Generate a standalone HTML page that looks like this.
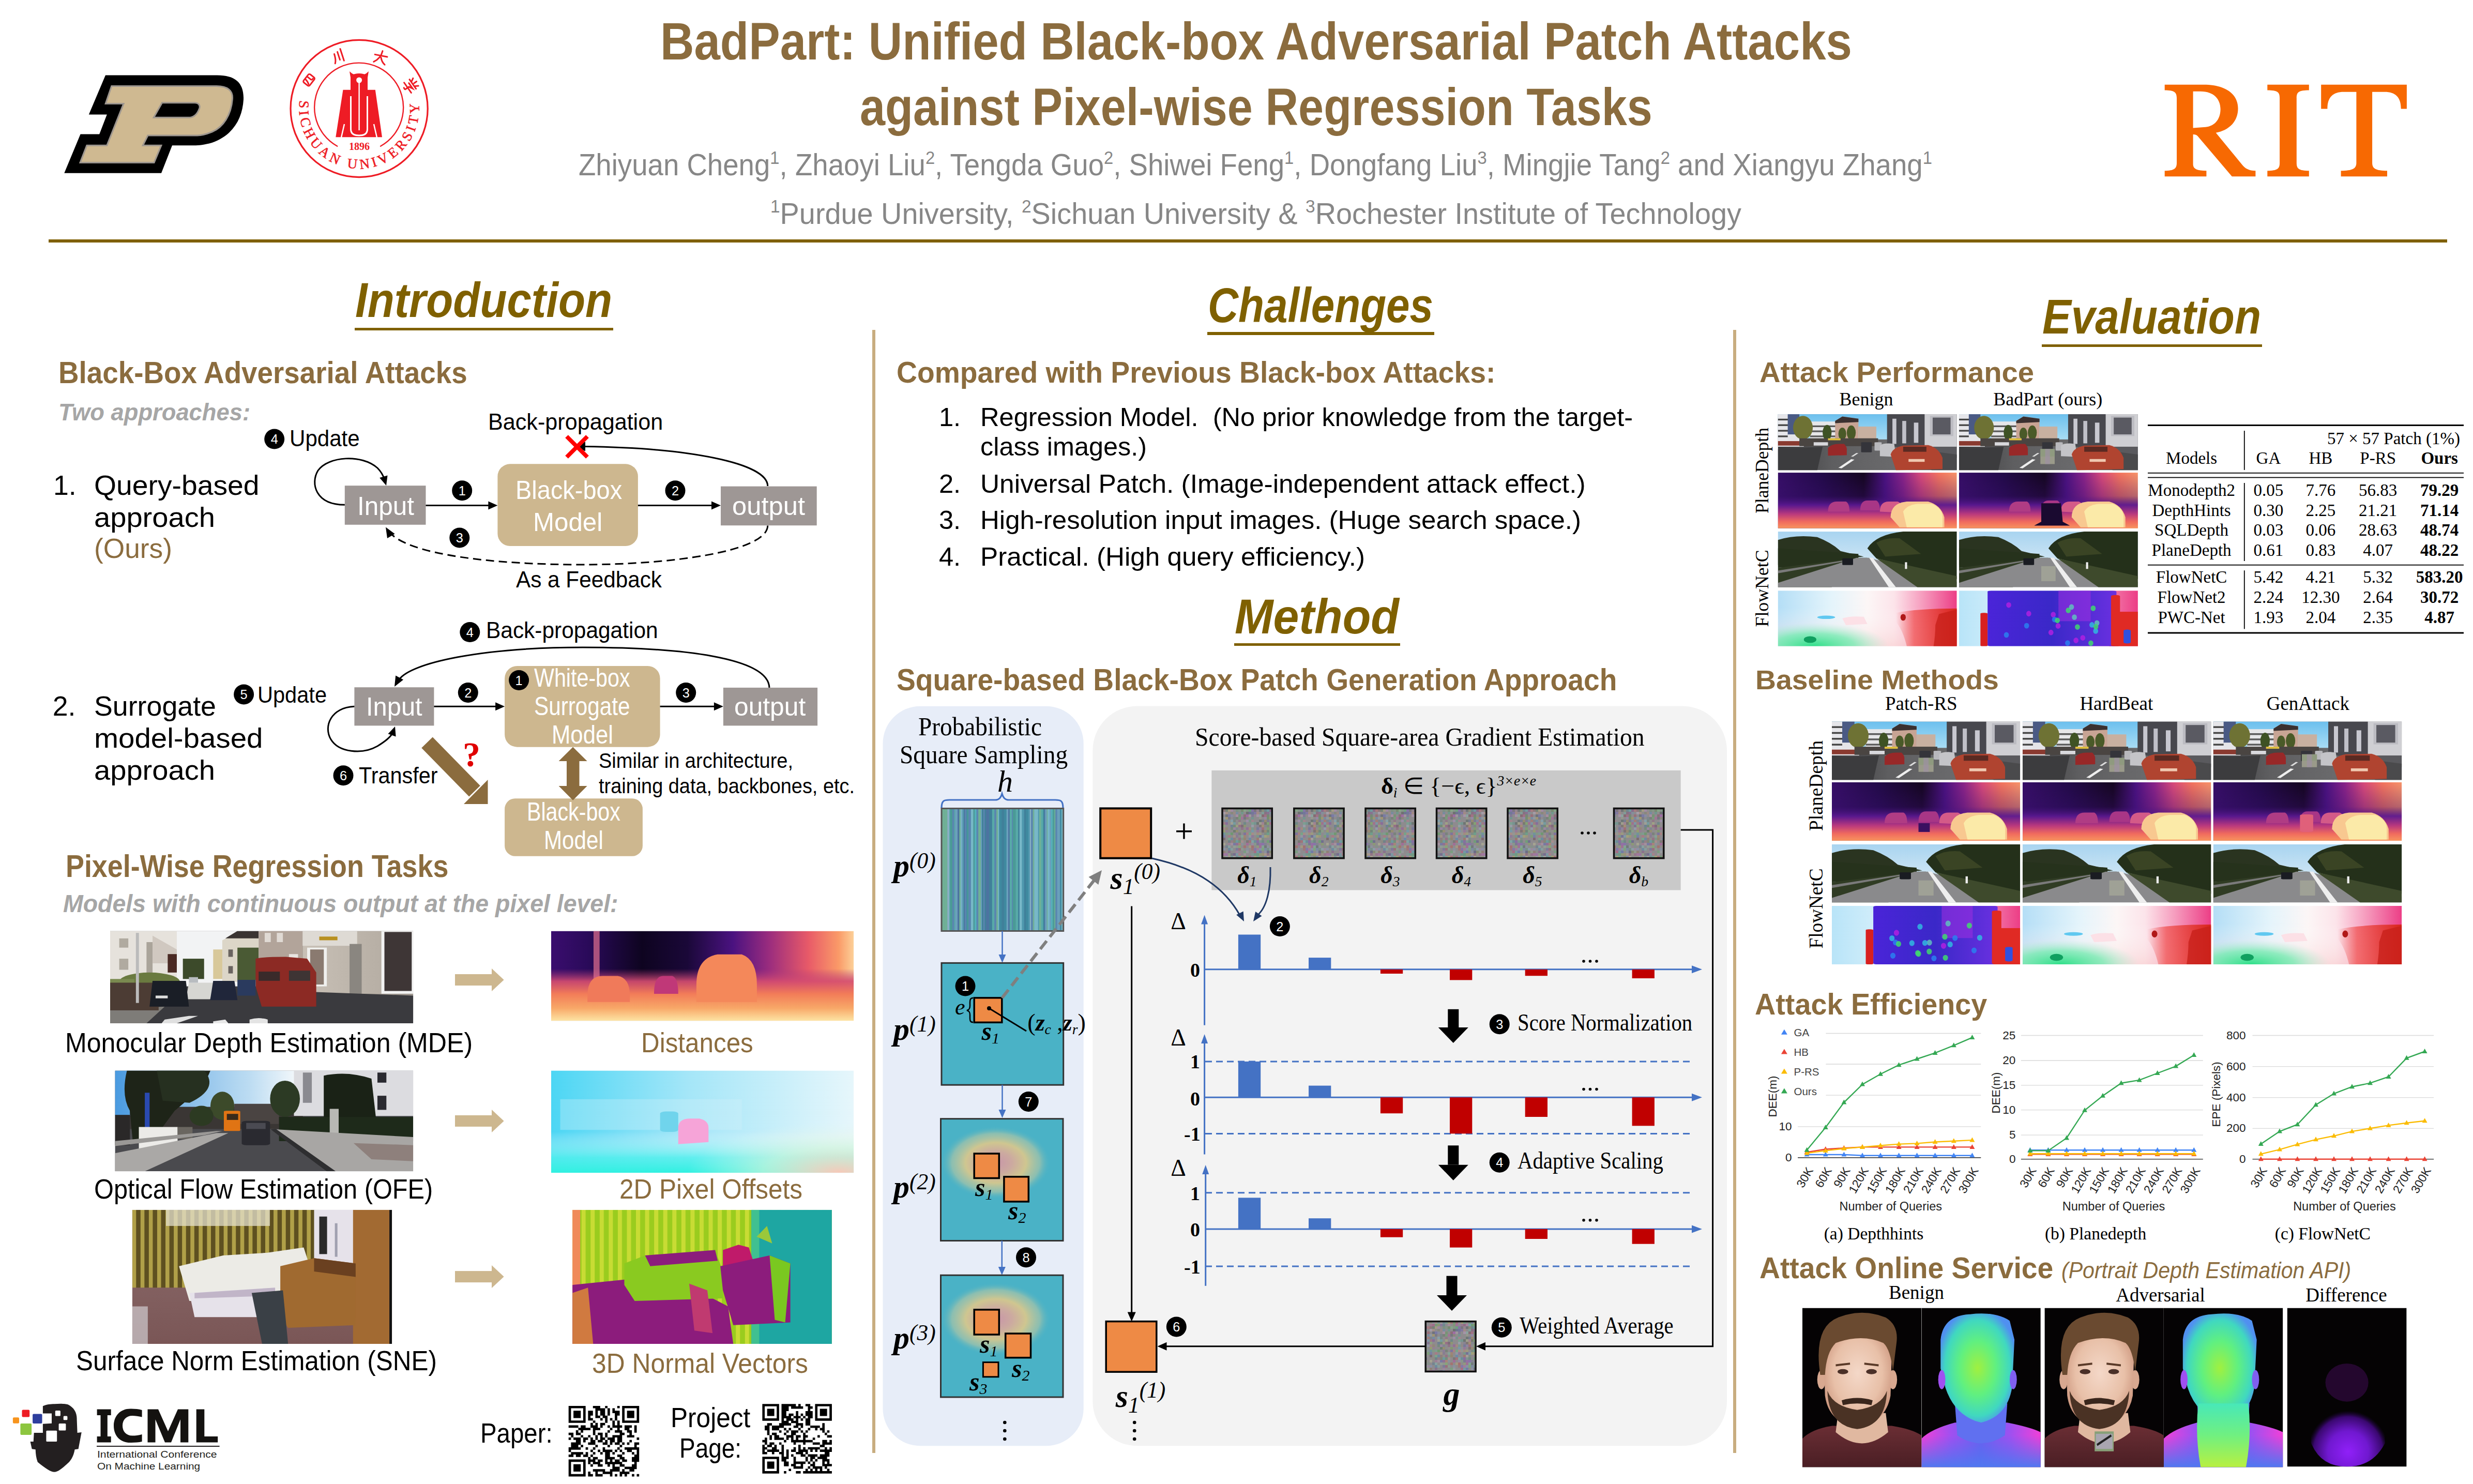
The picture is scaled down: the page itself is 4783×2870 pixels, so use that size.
<!DOCTYPE html>
<html><head><meta charset="utf-8"><style>
html,body{margin:0;padding:0;background:#fff;}
body{width:4783px;height:2870px;position:relative;overflow:hidden;font-family:"Liberation Sans",sans-serif;}
.t{position:absolute;white-space:nowrap;transform-origin:0 0;}
.a{position:absolute;}
sup{font-size:0.6em;vertical-align:baseline;position:relative;top:-0.62em;line-height:0;}
sub{font-size:0.6em;vertical-align:baseline;position:relative;top:0.25em;line-height:0;}

</style></head><body>
<svg class="a" style="left:0;top:0" width="520" height="400" viewBox="0 0 520 400">
<path d="M204,145.4 L420,145.4 C455,145.4 472,160 471,192 C469,230 450,262 410,276 C395,280 385,281.3 375,281.3 L333,281.3 L312,334.7 L124.3,334.7 L155.6,259.6 L192.2,259.6 L206.8,221.5 L171.8,221.5 Z" fill="#000"/>
<path d="M215.8,166.5 L418.7,166.5 C440,166.5 451,175 449.4,192 C447,222 432,246 410,255 C400,259 390,261.9 381.5,261.9 L286,261.9 L276.3,281.3 L311.9,281.3 L298,314.6 L155,314.6 L167.9,281.3 L206.8,281.3 L239.1,200.4 L204.2,200.4 Z" fill="#CFB991" stroke="#9D968F" stroke-width="3"/>
<path d="M313.5,198.8 L376.6,198.8 C386,199 388,206 384.7,212 C381,221 375,227.3 365,227.3 L297.3,227.3 Z" fill="#000" stroke="#9D968F" stroke-width="3"/>
</svg>
<svg class="a" style="left:540px;top:55px" width="310" height="310" viewBox="540 55 310 310">
<defs><path id="sarc" d="M 582.6,180 A 116,116 0 1 0 806.6,180"/></defs>
<circle cx="694.6" cy="210" r="132.6" fill="none" stroke="#EE1C25" stroke-width="3.2"/>
<path d="M 653.1,283.2 A 86,86 0 1 1 735.2,283.2" fill="none" stroke="#EE1C25" stroke-width="2.4"/>
<text font-family="Liberation Serif" font-size="27" fill="#EE1C25" letter-spacing="6" stroke="#EE1C25" stroke-width="0.6"><textPath href="#sarc" startOffset="50%" text-anchor="middle">SICHUAN UNIVERSITY</textPath></text>
<text x="695" y="290" font-family="Liberation Serif" font-weight="bold" font-size="20" fill="#EE1C25" text-anchor="middle">1896</text>
<g fill="#EE1C25">
<path d="M663.5,173.8 L725.8,173.8 L739,265.3 L649.3,265.3 Z"/>
<path d="M678,146 Q694.6,138 711,146 L711,176 L678,176 Z"/>
<path d="M676,138 Q684,146 694.6,146 Q705,146 713,138 L711,150 L678,150 Z"/>
</g>
<g fill="none" stroke="#fff">
<path d="M678.5,186 L678.5,250 Q678.5,262 694.6,262 Q710.5,262 710.5,250 L710.5,186" stroke-width="3"/>
<line x1="694.6" y1="160" x2="694.6" y2="252" stroke-width="2.4"/>
<path d="M660,266 L666,240 M729,266 L723,240" stroke-width="2.5"/>
</g>
<circle cx="694.6" cy="155" r="5.5" fill="#fff"/>
<g fill="none" stroke="#EE1C25" stroke-width="3" stroke-linecap="round">
<g transform="translate(598,155) rotate(-52)"><rect x="-10" y="-8" width="20" height="15" rx="3"/><path d="M-3,-7 Q-4,0 -7,4 M3,-7 L3,2 Q3,4 7,4"/></g>
<g transform="translate(655,108) rotate(-18)"><path d="M-7,-6 Q-7,6 -11,12 M0,-8 L0,8 M7,-12 L7,12"/></g>
<g transform="translate(736,111) rotate(18)"><path d="M-12,-2 L12,-5 M0,-13 Q1,2 -10,12 M1,0 Q5,8 12,11"/></g>
<g transform="translate(795,165) rotate(55)"><path d="M-9,-11 L-6,-6 M0,-13 L0,-7 M9,-11 L6,-6 M-11,-4 L11,-4 M-6,1 L7,1 L0,5 M0,5 L0,13 Q0,15 -4,14 M-12,8 L12,8"/></g>
</g>
</svg>
<div class="t" id="t0" style="left:1277.0px;top:28.8px;font-size:101.45px;line-height:101.45px;font-family:'Liberation Sans', sans-serif;color:#8B6C3E;font-weight:bold;transform:scaleX(0.8934)">BadPart: Unified Black-box Adversarial Patch Attacks</div>
<div class="t" id="t1" style="left:1663.0px;top:156.3px;font-size:101.45px;line-height:101.45px;font-family:'Liberation Sans', sans-serif;color:#8B6C3E;font-weight:bold;transform:scaleX(0.8696)">against Pixel-wise Regression Tasks</div>
<div class="t" id="t2" style="left:1119.0px;top:289.0px;font-size:59.42px;line-height:59.42px;font-family:'Liberation Sans', sans-serif;color:#878787;transform:scaleX(0.9192)">Zhiyuan Cheng<sup>1</sup>, Zhaoyi Liu<sup>2</sup>, Tengda Guo<sup>2</sup>, Shiwei Feng<sup>1</sup>, Dongfang Liu<sup>3</sup>, Mingjie Tang<sup>2</sup> and Xiangyu Zhang<sup>1</sup></div>
<div class="t" id="t3" style="left:1490.0px;top:384.7px;font-size:57.97px;line-height:57.97px;font-family:'Liberation Sans', sans-serif;color:#878787;transform:scaleX(0.9628)"><sup>1</sup>Purdue University, <sup>2</sup>Sichuan University &amp; <sup>3</sup>Rochester Institute of Technology</div>
<svg class="a" style="left:4150px;top:140px" width="540" height="230" viewBox="4150 140 540 230">
<path fill="#F76902" fill-rule="evenodd" d="M4186.7,163.8 L4262,163.8 C4302,163.8 4328.5,180 4328.5,210 C4328.5,236 4310,252 4285.7,256.8 L4336,318 C4342,326 4350,330.2 4362.4,330.2 L4362.4,341.3 L4316.8,341.3 L4252,265 C4249,261 4246,260.1 4241.6,260.1 L4241.6,318 C4241.6,327 4250,330.2 4267.4,330.2 L4267.4,341.3 L4186.7,341.3 L4186.7,330.2 C4205,330.2 4210,326 4210,315 L4210,190 C4210,178 4205,174.5 4186.7,174.5 Z M4241.6,176.7 L4256,176.7 C4282,176.7 4294.6,192 4294.6,211 C4294.6,232 4282,245.6 4262,246 L4241.6,247.4 Z"/>
<path fill="#F76902" d="M4385.3,163.8 L4465.8,163.8 L4465.8,174.5 C4446,174.5 4441.8,178 4441.8,190 L4441.8,315 C4441.8,326 4446,330.2 4465.8,330.2 L4465.8,341.3 L4385.3,341.3 L4385.3,330.2 C4405,330.2 4409.1,326 4409.1,315 L4409.1,190 C4409.1,178 4405,174.5 4385.3,174.5 Z"/>
<path fill="#F76902" d="M4489.2,163.8 L4654.9,163.8 L4654.9,210.5 L4643.7,210.5 C4643.7,188 4633,177.8 4612,177.8 L4588.1,177.8 L4588.1,315 C4588.1,326 4595,330.2 4617,330.2 L4617,341.3 L4527.6,341.3 L4527.6,330.2 C4550,330.2 4557.4,326 4557.4,315 L4557.4,177.8 L4533,177.8 C4512,177.8 4501.4,188 4501.4,210.5 L4489.2,210.5 Z"/>
</svg>
<div class="a" style="left:94px;top:462.5px;width:4639px;height:6px;background:#7F6000"></div>
<div class="a" style="left:1687px;top:638px;width:5.5px;height:2172px;background:#C8AD80"></div>
<div class="a" style="left:3352px;top:638px;width:5.5px;height:2172px;background:#C8AD80"></div>
<div class="t" id="t4" style="left:687.0px;top:533.9px;font-size:94.20px;line-height:94.20px;font-family:'Liberation Sans', sans-serif;color:#7F6000;font-weight:bold;font-style:italic;transform:scaleX(0.9048)">Introduction</div>
<div class="a" style="left:686px;top:633.95px;width:500px;height:5.5px;background:#7F6000"></div>
<div class="t" id="t5" style="left:2336.0px;top:544.3px;font-size:94.20px;line-height:94.20px;font-family:'Liberation Sans', sans-serif;color:#7F6000;font-weight:bold;font-style:italic;transform:scaleX(0.8677)">Challenges</div>
<div class="a" style="left:2335px;top:642.25px;width:439px;height:5.5px;background:#7F6000"></div>
<div class="t" id="t6" style="left:2388.0px;top:1145.9px;font-size:94.20px;line-height:94.20px;font-family:'Liberation Sans', sans-serif;color:#7F6000;font-weight:bold;font-style:italic;transform:scaleX(0.9498)">Method</div>
<div class="a" style="left:2387px;top:1243.75px;width:321px;height:5.5px;background:#7F6000"></div>
<div class="t" id="t7" style="left:3950.0px;top:566.2px;font-size:94.20px;line-height:94.20px;font-family:'Liberation Sans', sans-serif;color:#7F6000;font-weight:bold;font-style:italic;transform:scaleX(0.8881)">Evaluation</div>
<div class="a" style="left:3949px;top:665.75px;width:426px;height:5.5px;background:#7F6000"></div>
<div class="t" id="t8" style="left:113.4px;top:690.7px;font-size:59.42px;line-height:59.42px;font-family:'Liberation Sans', sans-serif;color:#8B6C3E;font-weight:bold;transform:scaleX(0.9221)">Black-Box Adversarial Attacks</div>
<div class="t" id="t9" style="left:113.4px;top:774.0px;font-size:46.38px;line-height:46.38px;font-family:'Liberation Sans', sans-serif;color:#A6A6A6;font-weight:bold;font-style:italic;transform:scaleX(0.9772)">Two approaches:</div>
<div class="t" id="t10" style="left:103.0px;top:912.2px;font-size:53.62px;line-height:53.62px;font-family:'Liberation Sans', sans-serif;color:#000">1.</div>
<div class="t" id="t11" style="left:182.2px;top:912.2px;font-size:53.62px;line-height:53.62px;font-family:'Liberation Sans', sans-serif;color:#000;transform:scaleX(1.0313)">Query-based</div>
<div class="t" id="t12" style="left:182.2px;top:974.0px;font-size:53.62px;line-height:53.62px;font-family:'Liberation Sans', sans-serif;color:#000;transform:scaleX(1.0467)">approach</div>
<div class="t" id="t13" style="left:182.2px;top:1033.8px;font-size:53.62px;line-height:53.62px;font-family:'Liberation Sans', sans-serif;color:#8B6C3E;transform:scaleX(0.9941)">(Ours)</div>
<div class="t" id="t14" style="left:101.7px;top:1339.3px;font-size:53.62px;line-height:53.62px;font-family:'Liberation Sans', sans-serif;color:#000">2.</div>
<div class="t" id="t15" style="left:182.2px;top:1339.3px;font-size:53.62px;line-height:53.62px;font-family:'Liberation Sans', sans-serif;color:#000;transform:scaleX(1.0024)">Surrogate</div>
<div class="t" id="t16" style="left:182.2px;top:1401.1px;font-size:53.62px;line-height:53.62px;font-family:'Liberation Sans', sans-serif;color:#000;transform:scaleX(1.0534)">model-based</div>
<div class="t" id="t17" style="left:182.2px;top:1463.0px;font-size:53.62px;line-height:53.62px;font-family:'Liberation Sans', sans-serif;color:#000;transform:scaleX(1.0467)">approach</div>
<svg class="a" style="left:0px;top:480px" width="1690" height="2390" viewBox="0 480 1690 2390" ><rect x="666.8" y="939.2" width="156.7" height="75.6" fill="#9E9795"/><rect x="962.4" y="897.3" width="271.5" height="158.7" rx="24" fill="#CDB78F"/><rect x="1394" y="940.6" width="185.7" height="75.6" fill="#9E9795"/><line x1="823.5" y1="977.5" x2="948.0" y2="977.5" stroke="#000" stroke-width="3"/><polygon points="962.4,977.5 944.4,985.5 944.4,969.5" fill="#000"/><line x1="1233.9" y1="977.5" x2="1379.6" y2="977.5" stroke="#000" stroke-width="3"/><polygon points="1394.0,977.5 1376.0,985.5 1376.0,969.5" fill="#000"/><circle cx="893.7" cy="948.8" r="19.5" fill="#000"/><text x="893.7" y="957.9" font-family="Liberation Sans" font-size="25.4" fill="#fff" text-anchor="middle">1</text><circle cx="1306" cy="948.8" r="19.5" fill="#000"/><text x="1306" y="957.9" font-family="Liberation Sans" font-size="25.4" fill="#fff" text-anchor="middle">2</text><circle cx="888.8" cy="1040" r="19.5" fill="#000"/><text x="888.8" y="1049.1" font-family="Liberation Sans" font-size="25.4" fill="#fff" text-anchor="middle">3</text><path d="M1484.8,940 C1484,895 1330,866 1130,863.6" fill="none" stroke="#000" stroke-width="3"/><polygon points="1112.0,863.6 1132.0,854.6 1132.0,872.6" fill="#000"/><path d="M1096,844 L1136,884 M1136,844 L1096,884" stroke="#F00" stroke-width="8"/><path d="M1484.8,1016.5 C1484,1068 1290,1092 1127,1092 C950,1092 790,1072 754,1030" fill="none" stroke="#000" stroke-width="3" stroke-dasharray="16 9"/><polygon points="746.0,1019.6 763.6,1032.4 749.0,1041.1" fill="#000"/><path d="M666.8,976.3 C610,976 600,935 615,910 C635,882 700,878 730,905 C738,913 742,922 744,928" fill="none" stroke="#000" stroke-width="3"/><polygon points="747.0,939.0 734.2,924.1 749.5,919.5" fill="#000"/><circle cx="530.7" cy="849.1" r="19.5" fill="#000"/><text x="530.7" y="858.2" font-family="Liberation Sans" font-size="25.4" fill="#fff" text-anchor="middle">4</text><rect x="685.4" y="1329.2" width="154" height="74.2" fill="#9E9795"/><rect x="976.1" y="1287.9" width="300.5" height="156.8" rx="24" fill="#CDB78F"/><rect x="1398.9" y="1329.9" width="182.2" height="73.5" fill="#9E9795"/><rect x="976.1" y="1544.3" width="266.8" height="111.4" rx="20" fill="#CDB78F"/><line x1="839.4" y1="1366.3" x2="961.7" y2="1366.3" stroke="#000" stroke-width="3"/><polygon points="976.1,1366.3 958.1,1374.3 958.1,1358.3" fill="#000"/><line x1="1276.6" y1="1366.3" x2="1384.5" y2="1366.3" stroke="#000" stroke-width="3"/><polygon points="1398.9,1366.3 1380.9,1374.3 1380.9,1358.3" fill="#000"/><circle cx="1003.6" cy="1315.4" r="19.5" fill="#000"/><text x="1003.6" y="1324.5" font-family="Liberation Sans" font-size="25.4" fill="#fff" text-anchor="middle">1</text><circle cx="905.3" cy="1339.5" r="19.5" fill="#000"/><text x="905.3" y="1348.6" font-family="Liberation Sans" font-size="25.4" fill="#fff" text-anchor="middle">2</text><circle cx="1326.7" cy="1339.5" r="19.5" fill="#000"/><text x="1326.7" y="1348.6" font-family="Liberation Sans" font-size="25.4" fill="#fff" text-anchor="middle">3</text><circle cx="908.8" cy="1222.6" r="19.5" fill="#000"/><text x="908.8" y="1231.7" font-family="Liberation Sans" font-size="25.4" fill="#fff" text-anchor="middle">4</text><circle cx="471.6" cy="1342.9" r="19.5" fill="#000"/><text x="471.6" y="1352.0" font-family="Liberation Sans" font-size="25.4" fill="#fff" text-anchor="middle">5</text><circle cx="664" cy="1499.7" r="19.5" fill="#000"/><text x="664" y="1508.8" font-family="Liberation Sans" font-size="25.4" fill="#fff" text-anchor="middle">6</text><path d="M1488,1329.9 C1486,1272 1320,1252 1127,1252 C930,1252 795,1282 772,1314" fill="none" stroke="#000" stroke-width="3"/><polygon points="763.0,1328.0 765.2,1306.4 780.1,1314.6" fill="#000"/><path d="M685.4,1366.3 C640,1368 625,1405 640,1430 C655,1455 700,1460 730,1443 C748,1432 756,1424 759,1418" fill="none" stroke="#000" stroke-width="3"/><polygon points="764.0,1405.0 765.6,1424.6 750.5,1419.3" fill="#000"/><line x1="826" y1="1436" x2="918" y2="1530" stroke="#8B6C3E" stroke-width="30"/><polygon points="943.5,1555 897,1555 943.5,1508" fill="#8B6C3E"/><text x="912" y="1482" font-family="Liberation Serif" font-weight="bold" font-size="68" fill="#E00000" text-anchor="middle">?</text><polygon points="1108.1,1444.7 1135.6,1472 1120.5,1472 1120.5,1520 1135.6,1520 1108.1,1547.8 1080.6,1520 1096,1520 1096,1472 1080.6,1472" fill="#8B6C3E"/><svg x="213" y="1800.6" width="586.2" height="178.3" viewBox="0 0 100 100" preserveAspectRatio="none"><defs><linearGradient id="g1" x1="0" y1="0" x2="1" y2="0"><stop offset="0" stop-color="#c8c0b6"/><stop offset="1" stop-color="#b0a89e"/></linearGradient></defs>
<rect width="100" height="100" fill="#3c3c40"/>
<rect x="0" y="0" width="50" height="60" fill="#f2f3f4"/>
<rect x="0" y="0" width="22" height="62" fill="#e6e2dc"/>
<rect x="3" y="8" width="3" height="10" fill="#b0aaa0"/><rect x="3" y="30" width="3" height="12" fill="#b0aaa0"/><rect x="12" y="12" width="2" height="35" fill="#aaa49a"/>
<path d="M14,5 L22,20 L22,35 L14,35 Z" fill="#d0c8c0"/>
<rect x="19" y="25" width="3" height="20" fill="#4a2a24"/>
<ellipse cx="13" cy="55" rx="10" ry="10" fill="#6a7a40"/>
<rect x="0" y="52" width="8" height="10" fill="#7a8a50"/>
<rect x="24" y="30" width="7" height="22" fill="#3c4a2a"/>
<rect x="34" y="20" width="4" height="32" fill="#d8c89a"/>
<path d="M37,10 L42,2 L49,2 L49,55 L37,55 Z" fill="#dcd6c8"/>
<path d="M38,8 L42,0 L49,0 L49,8 Z" fill="#3a3432"/>
<rect x="39" y="20" width="1.5" height="8" fill="#6a6460"/><rect x="39" y="38" width="1.5" height="8" fill="#6a6460"/>
<rect x="42" y="18" width="7" height="35" fill="#4a5a34"/>
<rect x="49" y="0" width="14.5" height="68" fill="#b2a49a"/>
<rect x="51" y="2" width="2" height="10" fill="#e0dad4"/><rect x="55" y="2" width="2" height="10" fill="#e0dad4"/><rect x="59" y="25" width="3" height="8" fill="#e8e4e0"/>
<rect x="63.5" y="0" width="36.5" height="95" fill="url(#g1)"/>
<rect x="63.5" y="0" width="18" height="16" fill="#dedad4"/>
<rect x="69" y="6" width="6" height="4" fill="#b89020"/>
<rect x="65" y="18" width="6.5" height="42" fill="#f0f0ee"/><rect x="66" y="20" width="4.5" height="38" fill="#8a7a70"/>
<rect x="79" y="14" width="4" height="62" fill="#8a8680"/>
<rect x="89.5" y="0" width="10.5" height="70" fill="#f2f2f2"/><rect x="90.5" y="1" width="9" height="64" fill="#3e3636"/>
<rect x="63.5" y="68" width="36.5" height="28" fill="#9e968e"/>
<path d="M0,58 L100,70 L100,100 L0,100 Z" fill="#3a3a3e"/>
<path d="M26,56 L35,56 L33,74 L25,74 Z" fill="#d6d6d2"/>
<path d="M0,85 L18,82 L12,100 L0,100 Z" fill="#7e7c78"/>
<rect x="0" y="56" width="16" height="30" fill="#4c3c34"/>
<rect x="8.5" y="2" width="1" height="76" fill="#bbb"/>
<path d="M48,30 Q50,28 58,28 L65,30 L68,45 L68,82 L50,82 L48,60 Z" fill="#8c2a24"/>
<rect x="49" y="44" width="7" height="10" fill="#3a2a2a"/><rect x="59" y="43" width="7" height="11" fill="#3e3434"/>
<path d="M14,54 L25,54 L26,82 L13,82 Z" fill="#1a1e26"/>
<rect x="15" y="70" width="4" height="3" fill="#ddd"/>
<path d="M34,54 L41,54 L42,75 L33,75 Z" fill="#20263a"/>
<path d="M42,53 L48,53 L48,70 L42,70 Z" fill="#2a3a5e"/>
<rect x="26" y="50" width="3" height="6" fill="#b8bcc0"/>
<path d="M18,96 L26,92 L29,92 L22,100 L17,100 Z" fill="#e0e0e0"/>
<path d="M34,98 L38,96 L39,100 L34,100 Z" fill="#e8e8e8"/>
<path d="M46,96 Q49,93 52,96 L52,100 L46,100 Z" fill="#e4e4e4"/></svg><svg x="1066" y="1800.6" width="585.2" height="173.6" viewBox="0 0 100 100" preserveAspectRatio="none"><defs><linearGradient id="g2" x1="0" y1="0" x2="1" y2="0"><stop offset="0" stop-color="#3a0d6e"/><stop offset="0.12" stop-color="#2a0a5a"/><stop offset="0.3" stop-color="#0e0420"/><stop offset="0.45" stop-color="#1a0838"/><stop offset="0.6" stop-color="#4a1280"/><stop offset="0.72" stop-color="#9a2c7e"/><stop offset="0.85" stop-color="#e85a68"/><stop offset="0.95" stop-color="#fa9a68"/><stop offset="1" stop-color="#fcd098"/></linearGradient>
<linearGradient id="g3" x1="0" y1="0" x2="0" y2="1"><stop offset="0" stop-color="#b03a7a" stop-opacity="0"/><stop offset="0.42" stop-color="#b03a7a" stop-opacity="0"/><stop offset="0.56" stop-color="#d44c70" stop-opacity="0.92"/><stop offset="0.7" stop-color="#f27c58" stop-opacity="1"/><stop offset="0.86" stop-color="#f8a868" stop-opacity="1"/><stop offset="1" stop-color="#fde4a4" stop-opacity="1"/></linearGradient></defs>
<rect width="100" height="100" fill="url(#g2)"/>
<rect width="100" height="100" fill="url(#g3)"/>
<rect x="14" y="0" width="2" height="65" fill="#e27090" opacity="0.7"/>
<path d="M12,72 Q12,50 17,50 L22,50 Q26,52 26,72 L26,79 L12,79 Z" fill="#f07a5a"/>
<path d="M34,70 Q34,50 37,50 L40,50 Q42,52 42,70 Z" fill="#c03878"/>
<path d="M48,60 Q48,30 55,26 L63,26 Q68,32 68,60 L68,79 L48,79 Z" fill="#f4885a"/></svg><svg x="222.4" y="2070.4" width="576.8" height="194.9" viewBox="0 0 100 100" preserveAspectRatio="none"><defs><linearGradient id="g4" x1="0" y1="0" x2="1" y2="0"><stop offset="0" stop-color="#4a9ae0"/><stop offset="0.45" stop-color="#bcdcf2"/><stop offset="0.6" stop-color="#f0f6fa"/><stop offset="1" stop-color="#f4f8fa"/></linearGradient></defs>
<rect width="100" height="100" fill="#4a4a4e"/>
<rect width="100" height="45" fill="url(#g4)"/>
<rect x="5" y="36" width="58" height="22" fill="#3a3634"/>
<rect x="40" y="33" width="15" height="20" fill="#4a4442"/>
<ellipse cx="36" cy="35" rx="4" ry="14" fill="#3c4a2a"/>
<ellipse cx="29" cy="45" rx="4" ry="10" fill="#2c3a22"/>
<path d="M4,0 L32,0 Q30,15 26,25 L20,40 L12,72 L6,72 L5,40 Q2,25 4,0 Z" fill="#1e2418"/>
<path d="M14,0 L30,0 Q35,18 25,32 L16,30 Z" fill="#263020"/>
<rect x="10" y="22" width="1.6" height="36" fill="#2a4ab0"/>
<rect x="60" y="0" width="40" height="45" fill="#dcdce0"/>
<rect x="63" y="2" width="3" height="30" fill="#8a8a90"/><rect x="88" y="2" width="3" height="10" fill="#2a2a30"/><rect x="88" y="25" width="3" height="14" fill="#2a2a30"/>
<path d="M70,5 Q78,0 86,8 L88,60 L70,60 Z" fill="#1a2216"/>
<ellipse cx="57" cy="28" rx="5" ry="18" fill="#2c3a24"/>
<rect x="55" y="46" width="45" height="24" fill="#1e2a1a"/>
<rect x="72" y="38" width="3" height="34" fill="#b8b8b4"/>
<rect x="0" y="44" width="5" height="30" fill="#2a2828"/>
<rect x="8" y="56" width="13" height="24" fill="#ecebe8"/>
<rect x="21" y="56" width="5" height="12" fill="#6a6660"/>
<rect x="36.5" y="40" width="5.5" height="20" rx="0.8" fill="#e07414"/>
<rect x="37.5" y="43" width="3.8" height="6" fill="#3a2a1a"/>
<path d="M0,75 L30,64 L36,60 L34,60 L0,70 Z" fill="#9a9896"/>
<path d="M0,82 L34,62 L38,62 L10,100 L0,100 Z" fill="#aaa8a6"/>
<path d="M52,58 L100,66 L100,100 L72,100 Z" fill="#a8a6a4"/>
<path d="M80,72 L100,74 L100,90 L86,88 Z" fill="#8e807c"/>
<path d="M52,58 L54,58 L74,100 L71,100 Z" fill="#2e2e30"/>
<rect x="42.5" y="50" width="9.5" height="24" rx="1.5" fill="#2a2a30"/>
<rect x="44" y="52" width="6.5" height="6" fill="#4a4a52"/></svg><svg x="1066" y="2070.4" width="585.2" height="197.8" viewBox="0 0 100 100" preserveAspectRatio="none"><defs><linearGradient id="g5" x1="0" y1="0" x2="1" y2="0"><stop offset="0" stop-color="#4cd6f4"/><stop offset="0.45" stop-color="#a4e6f8"/><stop offset="1" stop-color="#e6f6fb"/></linearGradient>
<linearGradient id="g6" x1="0" y1="0" x2="0" y2="1"><stop offset="0" stop-color="#fff" stop-opacity="0"/><stop offset="0.6" stop-color="#fff" stop-opacity="0"/><stop offset="0.85" stop-color="#50f0ec" stop-opacity="0.8"/><stop offset="1" stop-color="#30f0e0" stop-opacity="1"/></linearGradient>
<radialGradient id="g7" cx="0.95" cy="1.0" r="0.5"><stop offset="0" stop-color="#f8c8b8" stop-opacity="1"/><stop offset="0.5" stop-color="#e8f4d8" stop-opacity="0.6"/><stop offset="1" stop-color="#e0f8f0" stop-opacity="0"/></radialGradient></defs>
<rect width="100" height="100" fill="url(#g5)"/>
<rect x="3" y="28" width="60" height="30" fill="#d0f2fa" opacity="0.35"/>
<rect width="100" height="100" fill="url(#g6)"/>
<rect width="100" height="100" fill="url(#g7)"/><rect x="36" y="40" width="6" height="20" rx="2" fill="#70d4ec"/><path d="M42,56 Q42,47 46,47 L49,47 Q52,49 52,56 L52,70 L42,72 Z" fill="#f6a4d8"/></svg><svg x="255.7" y="2339.8" width="502.5" height="259.3" viewBox="0 0 100 100" preserveAspectRatio="none"><defs><pattern id="p8" width="3.2" height="100" patternUnits="userSpaceOnUse">
<rect width="3.2" height="100" fill="#5e5020"/><rect x="0" width="1.5" height="100" fill="#b0a048"/></pattern>
<linearGradient id="g9" x1="0" y1="0" x2="0" y2="1"><stop offset="0" stop-color="#8e6e6e"/><stop offset="1" stop-color="#7a5656"/></linearGradient></defs>
<rect width="100" height="100" fill="url(#g9)"/>
<rect width="72" height="58" fill="url(#p8)"/>
<rect x="13" y="0" width="40" height="12" fill="#e4e0cc" opacity="0.75"/>
<rect x="70" y="0" width="16" height="62" fill="#e6e2ea"/>
<rect x="72" y="5" width="3" height="28" fill="#2a2a2a"/><rect x="78" y="10" width="1" height="25" fill="#a0a0b0"/>
<rect x="85" y="0" width="14" height="100" fill="#a26a32"/>
<rect x="99" y="0" width="1" height="100" fill="#111"/>
<path d="M18,42 L35,34 L52,32 L66,28 L68,40 L58,46 L58,68 L22,68 Z" fill="#ecebe6"/>
<path d="M22,62 L55,58 L56,80 L24,80 Z" fill="#e6e2ea"/>
<path d="M24,62 L55,58 L55,64 L24,66 Z" fill="#a898b0" opacity="0.6"/>
<path d="M57,42 L70,36 L86,40 L86,86 L60,88 L57,80 Z" fill="#a06a30"/>
<path d="M70,36 L86,40 L86,50 L70,46 Z" fill="#6a4020"/>
<path d="M46,62 L58,60 L60,100 L50,100 Z" fill="#3a4046"/>
<rect x="0" y="72" width="6" height="28" fill="#d0ccd0" opacity="0.7"/></svg><svg x="1107.1" y="2339.8" width="501.8" height="259.3" viewBox="0 0 100 100" preserveAspectRatio="none"><defs><pattern id="p10" width="3.5" height="100" patternUnits="userSpaceOnUse">
<rect width="3.5" height="100" fill="#9acc1e"/><rect x="0" width="1.6" height="100" fill="#c8dc34"/></pattern></defs>
<rect width="100" height="100" fill="url(#p10)"/>
<rect x="0" y="0" width="3" height="60" fill="#f08a5a"/>
<rect x="69" y="0" width="31" height="100" fill="#1ea6a2"/>
<rect x="69" y="0" width="3" height="100" fill="#40c090"/>
<path d="M0,56 L20,52 L36,60 L50,62 L60,72 L62,100 L0,100 Z" fill="#8c1c7c"/>
<path d="M20,40 L28,34 L55,30 L58,46 L58,66 L24,68 L20,56 Z" fill="#8aca20"/>
<path d="M28,34 L55,30 L56,38 L30,42 Z" fill="#8c1c7c"/>
<path d="M58,30 L64,26 L68,28 L70,40 L58,46 Z" fill="#c01a6a"/>
<path d="M57,42 L76,34 L84,40 L84,84 L62,86 L58,60 Z" fill="#8c1c7c"/>
<path d="M76,34 L84,40 L82,84 L78,82 Z" fill="#7ac820"/>
<path d="M71,20 L75,12 L77,25 Z" fill="#9ac83a"/>
<path d="M45,55 L52,60 L54,92 L47,90 Z" fill="#c03a70"/>
<path d="M0,62 L6,58 L8,100 L0,100 Z" fill="#d07a40"/></svg><rect x="880" y="1884" width="72" height="22" fill="#CDB78F"/><polygon points="951,1873 974.6,1895 951,1917" fill="#CDB78F"/><rect x="880" y="2156.9" width="72" height="22" fill="#CDB78F"/><polygon points="951,2145.9 974.6,2167.9 951,2189.9" fill="#CDB78F"/><rect x="880" y="2458.1" width="72" height="22" fill="#CDB78F"/><polygon points="951,2447.1 974.6,2469.1 951,2491.1" fill="#CDB78F"/><path d="M105.1,2715.3 C118,2714 128,2715 131.4,2716.3 C143,2722 149,2732 148.6,2745 L149.6,2770.9 L157.7,2769.9 L151.6,2802.2 L144.6,2803.2 C142,2818 136,2826 129.4,2831.5 C120,2840 112,2846.7 105.1,2846.7 C98,2846.7 88,2840 72.8,2827.5 C70,2820 69,2812 68.7,2803.2 L61.7,2802.2 L58.6,2788 L64.7,2788 L65.7,2770.9 L82.9,2770.9 L82.9,2753.7 L100,2752.7 L100,2733.5 L82.9,2733.5 L82.9,2719.3 C90,2716 98,2715.5 105.1,2715.3 Z" fill="#231F20"/><rect x="106.8" y="2728" width="10.100000000000009" height="10.5" rx="1.5" fill="#fff"/><rect x="122.7" y="2738.5" width="7.700000000000003" height="7.699999999999818" rx="1.5" fill="#fff"/><rect x="113.6" y="2753" width="13.800000000000011" height="13.400000000000091" rx="1.5" fill="#fff"/><rect x="89.4" y="2766.8" width="20.799999999999997" height="21.199999999999818" rx="1.5" fill="#fff"/><rect x="42.5" y="2726.4" width="14.700000000000003" height="14.099999999999909" rx="2" fill="#ED1C24"/><rect x="63.1" y="2734.5" width="18.4" height="18.59999999999991" rx="2" fill="#2E3F9E"/><rect x="24.9" y="2741.2" width="12.100000000000001" height="11.5" rx="2" fill="#F7941D"/><rect x="39.4" y="2753.1" width="21.700000000000003" height="21.800000000000182" rx="2" fill="#8DC63F"/><rect x="187" y="2796" width="237.6" height="2" fill="#231F20"/><rect x="1099.7" y="2718.9" width="136.5" height="136.5" fill="#fff"/><path d="M1099.70,2718.90h4.71v4.71h-4.71zM1104.41,2718.90h4.71v4.71h-4.71zM1109.11,2718.90h4.71v4.71h-4.71zM1113.82,2718.90h4.71v4.71h-4.71zM1118.53,2718.90h4.71v4.71h-4.71zM1123.23,2718.90h4.71v4.71h-4.71zM1127.94,2718.90h4.71v4.71h-4.71zM1146.77,2718.90h4.71v4.71h-4.71zM1151.48,2718.90h4.71v4.71h-4.71zM1156.18,2718.90h4.71v4.71h-4.71zM1170.30,2718.90h4.71v4.71h-4.71zM1193.84,2718.90h4.71v4.71h-4.71zM1203.25,2718.90h4.71v4.71h-4.71zM1207.96,2718.90h4.71v4.71h-4.71zM1212.67,2718.90h4.71v4.71h-4.71zM1217.37,2718.90h4.71v4.71h-4.71zM1222.08,2718.90h4.71v4.71h-4.71zM1226.79,2718.90h4.71v4.71h-4.71zM1231.49,2718.90h4.71v4.71h-4.71zM1099.70,2723.61h4.71v4.71h-4.71zM1127.94,2723.61h4.71v4.71h-4.71zM1151.48,2723.61h4.71v4.71h-4.71zM1156.18,2723.61h4.71v4.71h-4.71zM1160.89,2723.61h4.71v4.71h-4.71zM1165.60,2723.61h4.71v4.71h-4.71zM1175.01,2723.61h4.71v4.71h-4.71zM1184.42,2723.61h4.71v4.71h-4.71zM1203.25,2723.61h4.71v4.71h-4.71zM1231.49,2723.61h4.71v4.71h-4.71zM1099.70,2728.31h4.71v4.71h-4.71zM1109.11,2728.31h4.71v4.71h-4.71zM1113.82,2728.31h4.71v4.71h-4.71zM1118.53,2728.31h4.71v4.71h-4.71zM1127.94,2728.31h4.71v4.71h-4.71zM1137.36,2728.31h4.71v4.71h-4.71zM1142.06,2728.31h4.71v4.71h-4.71zM1151.48,2728.31h4.71v4.71h-4.71zM1160.89,2728.31h4.71v4.71h-4.71zM1165.60,2728.31h4.71v4.71h-4.71zM1175.01,2728.31h4.71v4.71h-4.71zM1184.42,2728.31h4.71v4.71h-4.71zM1189.13,2728.31h4.71v4.71h-4.71zM1193.84,2728.31h4.71v4.71h-4.71zM1203.25,2728.31h4.71v4.71h-4.71zM1212.67,2728.31h4.71v4.71h-4.71zM1217.37,2728.31h4.71v4.71h-4.71zM1222.08,2728.31h4.71v4.71h-4.71zM1231.49,2728.31h4.71v4.71h-4.71zM1099.70,2733.02h4.71v4.71h-4.71zM1109.11,2733.02h4.71v4.71h-4.71zM1113.82,2733.02h4.71v4.71h-4.71zM1118.53,2733.02h4.71v4.71h-4.71zM1127.94,2733.02h4.71v4.71h-4.71zM1137.36,2733.02h4.71v4.71h-4.71zM1142.06,2733.02h4.71v4.71h-4.71zM1151.48,2733.02h4.71v4.71h-4.71zM1160.89,2733.02h4.71v4.71h-4.71zM1165.60,2733.02h4.71v4.71h-4.71zM1175.01,2733.02h4.71v4.71h-4.71zM1189.13,2733.02h4.71v4.71h-4.71zM1193.84,2733.02h4.71v4.71h-4.71zM1203.25,2733.02h4.71v4.71h-4.71zM1212.67,2733.02h4.71v4.71h-4.71zM1217.37,2733.02h4.71v4.71h-4.71zM1222.08,2733.02h4.71v4.71h-4.71zM1231.49,2733.02h4.71v4.71h-4.71zM1099.70,2737.73h4.71v4.71h-4.71zM1109.11,2737.73h4.71v4.71h-4.71zM1113.82,2737.73h4.71v4.71h-4.71zM1118.53,2737.73h4.71v4.71h-4.71zM1127.94,2737.73h4.71v4.71h-4.71zM1137.36,2737.73h4.71v4.71h-4.71zM1151.48,2737.73h4.71v4.71h-4.71zM1156.18,2737.73h4.71v4.71h-4.71zM1165.60,2737.73h4.71v4.71h-4.71zM1170.30,2737.73h4.71v4.71h-4.71zM1189.13,2737.73h4.71v4.71h-4.71zM1203.25,2737.73h4.71v4.71h-4.71zM1212.67,2737.73h4.71v4.71h-4.71zM1217.37,2737.73h4.71v4.71h-4.71zM1222.08,2737.73h4.71v4.71h-4.71zM1231.49,2737.73h4.71v4.71h-4.71zM1099.70,2742.43h4.71v4.71h-4.71zM1127.94,2742.43h4.71v4.71h-4.71zM1137.36,2742.43h4.71v4.71h-4.71zM1142.06,2742.43h4.71v4.71h-4.71zM1160.89,2742.43h4.71v4.71h-4.71zM1170.30,2742.43h4.71v4.71h-4.71zM1179.72,2742.43h4.71v4.71h-4.71zM1189.13,2742.43h4.71v4.71h-4.71zM1203.25,2742.43h4.71v4.71h-4.71zM1231.49,2742.43h4.71v4.71h-4.71zM1099.70,2747.14h4.71v4.71h-4.71zM1104.41,2747.14h4.71v4.71h-4.71zM1109.11,2747.14h4.71v4.71h-4.71zM1113.82,2747.14h4.71v4.71h-4.71zM1118.53,2747.14h4.71v4.71h-4.71zM1123.23,2747.14h4.71v4.71h-4.71zM1127.94,2747.14h4.71v4.71h-4.71zM1146.77,2747.14h4.71v4.71h-4.71zM1170.30,2747.14h4.71v4.71h-4.71zM1184.42,2747.14h4.71v4.71h-4.71zM1193.84,2747.14h4.71v4.71h-4.71zM1203.25,2747.14h4.71v4.71h-4.71zM1207.96,2747.14h4.71v4.71h-4.71zM1212.67,2747.14h4.71v4.71h-4.71zM1217.37,2747.14h4.71v4.71h-4.71zM1222.08,2747.14h4.71v4.71h-4.71zM1226.79,2747.14h4.71v4.71h-4.71zM1231.49,2747.14h4.71v4.71h-4.71zM1142.06,2751.85h4.71v4.71h-4.71zM1151.48,2751.85h4.71v4.71h-4.71zM1160.89,2751.85h4.71v4.71h-4.71zM1165.60,2751.85h4.71v4.71h-4.71zM1184.42,2751.85h4.71v4.71h-4.71zM1193.84,2751.85h4.71v4.71h-4.71zM1099.70,2756.56h4.71v4.71h-4.71zM1104.41,2756.56h4.71v4.71h-4.71zM1109.11,2756.56h4.71v4.71h-4.71zM1113.82,2756.56h4.71v4.71h-4.71zM1123.23,2756.56h4.71v4.71h-4.71zM1127.94,2756.56h4.71v4.71h-4.71zM1142.06,2756.56h4.71v4.71h-4.71zM1146.77,2756.56h4.71v4.71h-4.71zM1151.48,2756.56h4.71v4.71h-4.71zM1160.89,2756.56h4.71v4.71h-4.71zM1175.01,2756.56h4.71v4.71h-4.71zM1184.42,2756.56h4.71v4.71h-4.71zM1189.13,2756.56h4.71v4.71h-4.71zM1193.84,2756.56h4.71v4.71h-4.71zM1198.54,2756.56h4.71v4.71h-4.71zM1207.96,2756.56h4.71v4.71h-4.71zM1212.67,2756.56h4.71v4.71h-4.71zM1217.37,2756.56h4.71v4.71h-4.71zM1226.79,2756.56h4.71v4.71h-4.71zM1118.53,2761.26h4.71v4.71h-4.71zM1123.23,2761.26h4.71v4.71h-4.71zM1127.94,2761.26h4.71v4.71h-4.71zM1132.65,2761.26h4.71v4.71h-4.71zM1137.36,2761.26h4.71v4.71h-4.71zM1146.77,2761.26h4.71v4.71h-4.71zM1151.48,2761.26h4.71v4.71h-4.71zM1156.18,2761.26h4.71v4.71h-4.71zM1179.72,2761.26h4.71v4.71h-4.71zM1193.84,2761.26h4.71v4.71h-4.71zM1207.96,2761.26h4.71v4.71h-4.71zM1212.67,2761.26h4.71v4.71h-4.71zM1226.79,2761.26h4.71v4.71h-4.71zM1113.82,2765.97h4.71v4.71h-4.71zM1123.23,2765.97h4.71v4.71h-4.71zM1146.77,2765.97h4.71v4.71h-4.71zM1175.01,2765.97h4.71v4.71h-4.71zM1189.13,2765.97h4.71v4.71h-4.71zM1193.84,2765.97h4.71v4.71h-4.71zM1198.54,2765.97h4.71v4.71h-4.71zM1212.67,2765.97h4.71v4.71h-4.71zM1217.37,2765.97h4.71v4.71h-4.71zM1226.79,2765.97h4.71v4.71h-4.71zM1099.70,2770.68h4.71v4.71h-4.71zM1104.41,2770.68h4.71v4.71h-4.71zM1113.82,2770.68h4.71v4.71h-4.71zM1118.53,2770.68h4.71v4.71h-4.71zM1146.77,2770.68h4.71v4.71h-4.71zM1156.18,2770.68h4.71v4.71h-4.71zM1160.89,2770.68h4.71v4.71h-4.71zM1170.30,2770.68h4.71v4.71h-4.71zM1198.54,2770.68h4.71v4.71h-4.71zM1203.25,2770.68h4.71v4.71h-4.71zM1217.37,2770.68h4.71v4.71h-4.71zM1104.41,2775.38h4.71v4.71h-4.71zM1123.23,2775.38h4.71v4.71h-4.71zM1137.36,2775.38h4.71v4.71h-4.71zM1151.48,2775.38h4.71v4.71h-4.71zM1160.89,2775.38h4.71v4.71h-4.71zM1170.30,2775.38h4.71v4.71h-4.71zM1184.42,2775.38h4.71v4.71h-4.71zM1189.13,2775.38h4.71v4.71h-4.71zM1193.84,2775.38h4.71v4.71h-4.71zM1198.54,2775.38h4.71v4.71h-4.71zM1212.67,2775.38h4.71v4.71h-4.71zM1217.37,2775.38h4.71v4.71h-4.71zM1222.08,2775.38h4.71v4.71h-4.71zM1099.70,2780.09h4.71v4.71h-4.71zM1109.11,2780.09h4.71v4.71h-4.71zM1113.82,2780.09h4.71v4.71h-4.71zM1118.53,2780.09h4.71v4.71h-4.71zM1127.94,2780.09h4.71v4.71h-4.71zM1132.65,2780.09h4.71v4.71h-4.71zM1142.06,2780.09h4.71v4.71h-4.71zM1151.48,2780.09h4.71v4.71h-4.71zM1160.89,2780.09h4.71v4.71h-4.71zM1165.60,2780.09h4.71v4.71h-4.71zM1175.01,2780.09h4.71v4.71h-4.71zM1179.72,2780.09h4.71v4.71h-4.71zM1184.42,2780.09h4.71v4.71h-4.71zM1193.84,2780.09h4.71v4.71h-4.71zM1198.54,2780.09h4.71v4.71h-4.71zM1231.49,2780.09h4.71v4.71h-4.71zM1113.82,2784.80h4.71v4.71h-4.71zM1118.53,2784.80h4.71v4.71h-4.71zM1127.94,2784.80h4.71v4.71h-4.71zM1142.06,2784.80h4.71v4.71h-4.71zM1146.77,2784.80h4.71v4.71h-4.71zM1156.18,2784.80h4.71v4.71h-4.71zM1160.89,2784.80h4.71v4.71h-4.71zM1170.30,2784.80h4.71v4.71h-4.71zM1179.72,2784.80h4.71v4.71h-4.71zM1184.42,2784.80h4.71v4.71h-4.71zM1193.84,2784.80h4.71v4.71h-4.71zM1198.54,2784.80h4.71v4.71h-4.71zM1217.37,2784.80h4.71v4.71h-4.71zM1104.41,2789.50h4.71v4.71h-4.71zM1109.11,2789.50h4.71v4.71h-4.71zM1113.82,2789.50h4.71v4.71h-4.71zM1118.53,2789.50h4.71v4.71h-4.71zM1137.36,2789.50h4.71v4.71h-4.71zM1142.06,2789.50h4.71v4.71h-4.71zM1146.77,2789.50h4.71v4.71h-4.71zM1165.60,2789.50h4.71v4.71h-4.71zM1170.30,2789.50h4.71v4.71h-4.71zM1179.72,2789.50h4.71v4.71h-4.71zM1189.13,2789.50h4.71v4.71h-4.71zM1193.84,2789.50h4.71v4.71h-4.71zM1203.25,2789.50h4.71v4.71h-4.71zM1212.67,2789.50h4.71v4.71h-4.71zM1226.79,2789.50h4.71v4.71h-4.71zM1231.49,2789.50h4.71v4.71h-4.71zM1104.41,2794.21h4.71v4.71h-4.71zM1109.11,2794.21h4.71v4.71h-4.71zM1113.82,2794.21h4.71v4.71h-4.71zM1123.23,2794.21h4.71v4.71h-4.71zM1151.48,2794.21h4.71v4.71h-4.71zM1175.01,2794.21h4.71v4.71h-4.71zM1198.54,2794.21h4.71v4.71h-4.71zM1226.79,2794.21h4.71v4.71h-4.71zM1099.70,2798.92h4.71v4.71h-4.71zM1104.41,2798.92h4.71v4.71h-4.71zM1109.11,2798.92h4.71v4.71h-4.71zM1113.82,2798.92h4.71v4.71h-4.71zM1118.53,2798.92h4.71v4.71h-4.71zM1132.65,2798.92h4.71v4.71h-4.71zM1146.77,2798.92h4.71v4.71h-4.71zM1165.60,2798.92h4.71v4.71h-4.71zM1193.84,2798.92h4.71v4.71h-4.71zM1207.96,2798.92h4.71v4.71h-4.71zM1212.67,2798.92h4.71v4.71h-4.71zM1217.37,2798.92h4.71v4.71h-4.71zM1222.08,2798.92h4.71v4.71h-4.71zM1226.79,2798.92h4.71v4.71h-4.71zM1231.49,2798.92h4.71v4.71h-4.71zM1099.70,2803.62h4.71v4.71h-4.71zM1142.06,2803.62h4.71v4.71h-4.71zM1156.18,2803.62h4.71v4.71h-4.71zM1165.60,2803.62h4.71v4.71h-4.71zM1170.30,2803.62h4.71v4.71h-4.71zM1175.01,2803.62h4.71v4.71h-4.71zM1179.72,2803.62h4.71v4.71h-4.71zM1189.13,2803.62h4.71v4.71h-4.71zM1198.54,2803.62h4.71v4.71h-4.71zM1212.67,2803.62h4.71v4.71h-4.71zM1217.37,2803.62h4.71v4.71h-4.71zM1231.49,2803.62h4.71v4.71h-4.71zM1104.41,2808.33h4.71v4.71h-4.71zM1109.11,2808.33h4.71v4.71h-4.71zM1113.82,2808.33h4.71v4.71h-4.71zM1118.53,2808.33h4.71v4.71h-4.71zM1123.23,2808.33h4.71v4.71h-4.71zM1132.65,2808.33h4.71v4.71h-4.71zM1146.77,2808.33h4.71v4.71h-4.71zM1160.89,2808.33h4.71v4.71h-4.71zM1170.30,2808.33h4.71v4.71h-4.71zM1175.01,2808.33h4.71v4.71h-4.71zM1184.42,2808.33h4.71v4.71h-4.71zM1203.25,2808.33h4.71v4.71h-4.71zM1222.08,2808.33h4.71v4.71h-4.71zM1231.49,2808.33h4.71v4.71h-4.71zM1099.70,2813.04h4.71v4.71h-4.71zM1104.41,2813.04h4.71v4.71h-4.71zM1113.82,2813.04h4.71v4.71h-4.71zM1118.53,2813.04h4.71v4.71h-4.71zM1127.94,2813.04h4.71v4.71h-4.71zM1132.65,2813.04h4.71v4.71h-4.71zM1142.06,2813.04h4.71v4.71h-4.71zM1170.30,2813.04h4.71v4.71h-4.71zM1175.01,2813.04h4.71v4.71h-4.71zM1193.84,2813.04h4.71v4.71h-4.71zM1198.54,2813.04h4.71v4.71h-4.71zM1226.79,2813.04h4.71v4.71h-4.71zM1231.49,2813.04h4.71v4.71h-4.71zM1137.36,2817.74h4.71v4.71h-4.71zM1146.77,2817.74h4.71v4.71h-4.71zM1151.48,2817.74h4.71v4.71h-4.71zM1170.30,2817.74h4.71v4.71h-4.71zM1175.01,2817.74h4.71v4.71h-4.71zM1179.72,2817.74h4.71v4.71h-4.71zM1184.42,2817.74h4.71v4.71h-4.71zM1198.54,2817.74h4.71v4.71h-4.71zM1203.25,2817.74h4.71v4.71h-4.71zM1222.08,2817.74h4.71v4.71h-4.71zM1226.79,2817.74h4.71v4.71h-4.71zM1231.49,2817.74h4.71v4.71h-4.71zM1099.70,2822.45h4.71v4.71h-4.71zM1104.41,2822.45h4.71v4.71h-4.71zM1109.11,2822.45h4.71v4.71h-4.71zM1113.82,2822.45h4.71v4.71h-4.71zM1118.53,2822.45h4.71v4.71h-4.71zM1123.23,2822.45h4.71v4.71h-4.71zM1127.94,2822.45h4.71v4.71h-4.71zM1137.36,2822.45h4.71v4.71h-4.71zM1142.06,2822.45h4.71v4.71h-4.71zM1146.77,2822.45h4.71v4.71h-4.71zM1156.18,2822.45h4.71v4.71h-4.71zM1160.89,2822.45h4.71v4.71h-4.71zM1170.30,2822.45h4.71v4.71h-4.71zM1179.72,2822.45h4.71v4.71h-4.71zM1189.13,2822.45h4.71v4.71h-4.71zM1193.84,2822.45h4.71v4.71h-4.71zM1203.25,2822.45h4.71v4.71h-4.71zM1207.96,2822.45h4.71v4.71h-4.71zM1222.08,2822.45h4.71v4.71h-4.71zM1226.79,2822.45h4.71v4.71h-4.71zM1231.49,2822.45h4.71v4.71h-4.71zM1099.70,2827.16h4.71v4.71h-4.71zM1127.94,2827.16h4.71v4.71h-4.71zM1137.36,2827.16h4.71v4.71h-4.71zM1146.77,2827.16h4.71v4.71h-4.71zM1151.48,2827.16h4.71v4.71h-4.71zM1156.18,2827.16h4.71v4.71h-4.71zM1170.30,2827.16h4.71v4.71h-4.71zM1175.01,2827.16h4.71v4.71h-4.71zM1179.72,2827.16h4.71v4.71h-4.71zM1184.42,2827.16h4.71v4.71h-4.71zM1189.13,2827.16h4.71v4.71h-4.71zM1193.84,2827.16h4.71v4.71h-4.71zM1198.54,2827.16h4.71v4.71h-4.71zM1226.79,2827.16h4.71v4.71h-4.71zM1099.70,2831.87h4.71v4.71h-4.71zM1109.11,2831.87h4.71v4.71h-4.71zM1113.82,2831.87h4.71v4.71h-4.71zM1118.53,2831.87h4.71v4.71h-4.71zM1127.94,2831.87h4.71v4.71h-4.71zM1142.06,2831.87h4.71v4.71h-4.71zM1156.18,2831.87h4.71v4.71h-4.71zM1160.89,2831.87h4.71v4.71h-4.71zM1175.01,2831.87h4.71v4.71h-4.71zM1184.42,2831.87h4.71v4.71h-4.71zM1198.54,2831.87h4.71v4.71h-4.71zM1203.25,2831.87h4.71v4.71h-4.71zM1222.08,2831.87h4.71v4.71h-4.71zM1226.79,2831.87h4.71v4.71h-4.71zM1099.70,2836.57h4.71v4.71h-4.71zM1109.11,2836.57h4.71v4.71h-4.71zM1113.82,2836.57h4.71v4.71h-4.71zM1118.53,2836.57h4.71v4.71h-4.71zM1127.94,2836.57h4.71v4.71h-4.71zM1184.42,2836.57h4.71v4.71h-4.71zM1189.13,2836.57h4.71v4.71h-4.71zM1193.84,2836.57h4.71v4.71h-4.71zM1207.96,2836.57h4.71v4.71h-4.71zM1212.67,2836.57h4.71v4.71h-4.71zM1217.37,2836.57h4.71v4.71h-4.71zM1222.08,2836.57h4.71v4.71h-4.71zM1226.79,2836.57h4.71v4.71h-4.71zM1099.70,2841.28h4.71v4.71h-4.71zM1109.11,2841.28h4.71v4.71h-4.71zM1113.82,2841.28h4.71v4.71h-4.71zM1118.53,2841.28h4.71v4.71h-4.71zM1127.94,2841.28h4.71v4.71h-4.71zM1146.77,2841.28h4.71v4.71h-4.71zM1151.48,2841.28h4.71v4.71h-4.71zM1156.18,2841.28h4.71v4.71h-4.71zM1160.89,2841.28h4.71v4.71h-4.71zM1165.60,2841.28h4.71v4.71h-4.71zM1179.72,2841.28h4.71v4.71h-4.71zM1184.42,2841.28h4.71v4.71h-4.71zM1189.13,2841.28h4.71v4.71h-4.71zM1193.84,2841.28h4.71v4.71h-4.71zM1203.25,2841.28h4.71v4.71h-4.71zM1217.37,2841.28h4.71v4.71h-4.71zM1222.08,2841.28h4.71v4.71h-4.71zM1099.70,2845.99h4.71v4.71h-4.71zM1127.94,2845.99h4.71v4.71h-4.71zM1137.36,2845.99h4.71v4.71h-4.71zM1151.48,2845.99h4.71v4.71h-4.71zM1165.60,2845.99h4.71v4.71h-4.71zM1170.30,2845.99h4.71v4.71h-4.71zM1175.01,2845.99h4.71v4.71h-4.71zM1179.72,2845.99h4.71v4.71h-4.71zM1198.54,2845.99h4.71v4.71h-4.71zM1203.25,2845.99h4.71v4.71h-4.71zM1207.96,2845.99h4.71v4.71h-4.71zM1212.67,2845.99h4.71v4.71h-4.71zM1099.70,2850.69h4.71v4.71h-4.71zM1104.41,2850.69h4.71v4.71h-4.71zM1109.11,2850.69h4.71v4.71h-4.71zM1113.82,2850.69h4.71v4.71h-4.71zM1118.53,2850.69h4.71v4.71h-4.71zM1123.23,2850.69h4.71v4.71h-4.71zM1127.94,2850.69h4.71v4.71h-4.71zM1137.36,2850.69h4.71v4.71h-4.71zM1142.06,2850.69h4.71v4.71h-4.71zM1151.48,2850.69h4.71v4.71h-4.71zM1156.18,2850.69h4.71v4.71h-4.71zM1160.89,2850.69h4.71v4.71h-4.71zM1179.72,2850.69h4.71v4.71h-4.71zM1189.13,2850.69h4.71v4.71h-4.71zM1198.54,2850.69h4.71v4.71h-4.71zM1207.96,2850.69h4.71v4.71h-4.71zM1222.08,2850.69h4.71v4.71h-4.71zM1231.49,2850.69h4.71v4.71h-4.71z" fill="#000"/><rect x="1474.4" y="2715.2" width="134.5" height="134.5" fill="#fff"/><path d="M1474.40,2715.20h4.64v4.64h-4.64zM1479.04,2715.20h4.64v4.64h-4.64zM1483.68,2715.20h4.64v4.64h-4.64zM1488.31,2715.20h4.64v4.64h-4.64zM1492.95,2715.20h4.64v4.64h-4.64zM1497.59,2715.20h4.64v4.64h-4.64zM1502.23,2715.20h4.64v4.64h-4.64zM1511.50,2715.20h4.64v4.64h-4.64zM1516.14,2715.20h4.64v4.64h-4.64zM1520.78,2715.20h4.64v4.64h-4.64zM1525.42,2715.20h4.64v4.64h-4.64zM1530.06,2715.20h4.64v4.64h-4.64zM1534.69,2715.20h4.64v4.64h-4.64zM1543.97,2715.20h4.64v4.64h-4.64zM1557.88,2715.20h4.64v4.64h-4.64zM1562.52,2715.20h4.64v4.64h-4.64zM1576.43,2715.20h4.64v4.64h-4.64zM1581.07,2715.20h4.64v4.64h-4.64zM1585.71,2715.20h4.64v4.64h-4.64zM1590.35,2715.20h4.64v4.64h-4.64zM1594.99,2715.20h4.64v4.64h-4.64zM1599.62,2715.20h4.64v4.64h-4.64zM1604.26,2715.20h4.64v4.64h-4.64zM1474.40,2719.84h4.64v4.64h-4.64zM1502.23,2719.84h4.64v4.64h-4.64zM1511.50,2719.84h4.64v4.64h-4.64zM1516.14,2719.84h4.64v4.64h-4.64zM1520.78,2719.84h4.64v4.64h-4.64zM1530.06,2719.84h4.64v4.64h-4.64zM1534.69,2719.84h4.64v4.64h-4.64zM1539.33,2719.84h4.64v4.64h-4.64zM1543.97,2719.84h4.64v4.64h-4.64zM1548.61,2719.84h4.64v4.64h-4.64zM1562.52,2719.84h4.64v4.64h-4.64zM1567.16,2719.84h4.64v4.64h-4.64zM1576.43,2719.84h4.64v4.64h-4.64zM1604.26,2719.84h4.64v4.64h-4.64zM1474.40,2724.48h4.64v4.64h-4.64zM1483.68,2724.48h4.64v4.64h-4.64zM1488.31,2724.48h4.64v4.64h-4.64zM1492.95,2724.48h4.64v4.64h-4.64zM1502.23,2724.48h4.64v4.64h-4.64zM1511.50,2724.48h4.64v4.64h-4.64zM1516.14,2724.48h4.64v4.64h-4.64zM1520.78,2724.48h4.64v4.64h-4.64zM1562.52,2724.48h4.64v4.64h-4.64zM1576.43,2724.48h4.64v4.64h-4.64zM1585.71,2724.48h4.64v4.64h-4.64zM1590.35,2724.48h4.64v4.64h-4.64zM1594.99,2724.48h4.64v4.64h-4.64zM1604.26,2724.48h4.64v4.64h-4.64zM1474.40,2729.11h4.64v4.64h-4.64zM1483.68,2729.11h4.64v4.64h-4.64zM1488.31,2729.11h4.64v4.64h-4.64zM1492.95,2729.11h4.64v4.64h-4.64zM1502.23,2729.11h4.64v4.64h-4.64zM1511.50,2729.11h4.64v4.64h-4.64zM1516.14,2729.11h4.64v4.64h-4.64zM1539.33,2729.11h4.64v4.64h-4.64zM1557.88,2729.11h4.64v4.64h-4.64zM1562.52,2729.11h4.64v4.64h-4.64zM1567.16,2729.11h4.64v4.64h-4.64zM1576.43,2729.11h4.64v4.64h-4.64zM1585.71,2729.11h4.64v4.64h-4.64zM1590.35,2729.11h4.64v4.64h-4.64zM1594.99,2729.11h4.64v4.64h-4.64zM1604.26,2729.11h4.64v4.64h-4.64zM1474.40,2733.75h4.64v4.64h-4.64zM1483.68,2733.75h4.64v4.64h-4.64zM1488.31,2733.75h4.64v4.64h-4.64zM1492.95,2733.75h4.64v4.64h-4.64zM1502.23,2733.75h4.64v4.64h-4.64zM1511.50,2733.75h4.64v4.64h-4.64zM1516.14,2733.75h4.64v4.64h-4.64zM1525.42,2733.75h4.64v4.64h-4.64zM1530.06,2733.75h4.64v4.64h-4.64zM1539.33,2733.75h4.64v4.64h-4.64zM1548.61,2733.75h4.64v4.64h-4.64zM1557.88,2733.75h4.64v4.64h-4.64zM1562.52,2733.75h4.64v4.64h-4.64zM1567.16,2733.75h4.64v4.64h-4.64zM1576.43,2733.75h4.64v4.64h-4.64zM1585.71,2733.75h4.64v4.64h-4.64zM1590.35,2733.75h4.64v4.64h-4.64zM1594.99,2733.75h4.64v4.64h-4.64zM1604.26,2733.75h4.64v4.64h-4.64zM1474.40,2738.39h4.64v4.64h-4.64zM1502.23,2738.39h4.64v4.64h-4.64zM1511.50,2738.39h4.64v4.64h-4.64zM1516.14,2738.39h4.64v4.64h-4.64zM1520.78,2738.39h4.64v4.64h-4.64zM1525.42,2738.39h4.64v4.64h-4.64zM1534.69,2738.39h4.64v4.64h-4.64zM1539.33,2738.39h4.64v4.64h-4.64zM1543.97,2738.39h4.64v4.64h-4.64zM1553.24,2738.39h4.64v4.64h-4.64zM1562.52,2738.39h4.64v4.64h-4.64zM1567.16,2738.39h4.64v4.64h-4.64zM1576.43,2738.39h4.64v4.64h-4.64zM1604.26,2738.39h4.64v4.64h-4.64zM1474.40,2743.03h4.64v4.64h-4.64zM1479.04,2743.03h4.64v4.64h-4.64zM1483.68,2743.03h4.64v4.64h-4.64zM1488.31,2743.03h4.64v4.64h-4.64zM1492.95,2743.03h4.64v4.64h-4.64zM1497.59,2743.03h4.64v4.64h-4.64zM1502.23,2743.03h4.64v4.64h-4.64zM1511.50,2743.03h4.64v4.64h-4.64zM1520.78,2743.03h4.64v4.64h-4.64zM1525.42,2743.03h4.64v4.64h-4.64zM1530.06,2743.03h4.64v4.64h-4.64zM1539.33,2743.03h4.64v4.64h-4.64zM1548.61,2743.03h4.64v4.64h-4.64zM1557.88,2743.03h4.64v4.64h-4.64zM1562.52,2743.03h4.64v4.64h-4.64zM1576.43,2743.03h4.64v4.64h-4.64zM1581.07,2743.03h4.64v4.64h-4.64zM1585.71,2743.03h4.64v4.64h-4.64zM1590.35,2743.03h4.64v4.64h-4.64zM1594.99,2743.03h4.64v4.64h-4.64zM1599.62,2743.03h4.64v4.64h-4.64zM1604.26,2743.03h4.64v4.64h-4.64zM1511.50,2747.67h4.64v4.64h-4.64zM1516.14,2747.67h4.64v4.64h-4.64zM1520.78,2747.67h4.64v4.64h-4.64zM1530.06,2747.67h4.64v4.64h-4.64zM1534.69,2747.67h4.64v4.64h-4.64zM1539.33,2747.67h4.64v4.64h-4.64zM1557.88,2747.67h4.64v4.64h-4.64zM1562.52,2747.67h4.64v4.64h-4.64zM1483.68,2752.30h4.64v4.64h-4.64zM1488.31,2752.30h4.64v4.64h-4.64zM1506.87,2752.30h4.64v4.64h-4.64zM1511.50,2752.30h4.64v4.64h-4.64zM1516.14,2752.30h4.64v4.64h-4.64zM1520.78,2752.30h4.64v4.64h-4.64zM1525.42,2752.30h4.64v4.64h-4.64zM1539.33,2752.30h4.64v4.64h-4.64zM1543.97,2752.30h4.64v4.64h-4.64zM1548.61,2752.30h4.64v4.64h-4.64zM1557.88,2752.30h4.64v4.64h-4.64zM1562.52,2752.30h4.64v4.64h-4.64zM1590.35,2752.30h4.64v4.64h-4.64zM1479.04,2756.94h4.64v4.64h-4.64zM1483.68,2756.94h4.64v4.64h-4.64zM1492.95,2756.94h4.64v4.64h-4.64zM1497.59,2756.94h4.64v4.64h-4.64zM1502.23,2756.94h4.64v4.64h-4.64zM1506.87,2756.94h4.64v4.64h-4.64zM1511.50,2756.94h4.64v4.64h-4.64zM1534.69,2756.94h4.64v4.64h-4.64zM1539.33,2756.94h4.64v4.64h-4.64zM1548.61,2756.94h4.64v4.64h-4.64zM1567.16,2756.94h4.64v4.64h-4.64zM1571.80,2756.94h4.64v4.64h-4.64zM1576.43,2756.94h4.64v4.64h-4.64zM1581.07,2756.94h4.64v4.64h-4.64zM1590.35,2756.94h4.64v4.64h-4.64zM1479.04,2761.58h4.64v4.64h-4.64zM1483.68,2761.58h4.64v4.64h-4.64zM1492.95,2761.58h4.64v4.64h-4.64zM1497.59,2761.58h4.64v4.64h-4.64zM1502.23,2761.58h4.64v4.64h-4.64zM1516.14,2761.58h4.64v4.64h-4.64zM1525.42,2761.58h4.64v4.64h-4.64zM1543.97,2761.58h4.64v4.64h-4.64zM1562.52,2761.58h4.64v4.64h-4.64zM1576.43,2761.58h4.64v4.64h-4.64zM1585.71,2761.58h4.64v4.64h-4.64zM1590.35,2761.58h4.64v4.64h-4.64zM1483.68,2766.22h4.64v4.64h-4.64zM1506.87,2766.22h4.64v4.64h-4.64zM1520.78,2766.22h4.64v4.64h-4.64zM1530.06,2766.22h4.64v4.64h-4.64zM1534.69,2766.22h4.64v4.64h-4.64zM1539.33,2766.22h4.64v4.64h-4.64zM1548.61,2766.22h4.64v4.64h-4.64zM1557.88,2766.22h4.64v4.64h-4.64zM1590.35,2766.22h4.64v4.64h-4.64zM1599.62,2766.22h4.64v4.64h-4.64zM1483.68,2770.86h4.64v4.64h-4.64zM1492.95,2770.86h4.64v4.64h-4.64zM1497.59,2770.86h4.64v4.64h-4.64zM1516.14,2770.86h4.64v4.64h-4.64zM1530.06,2770.86h4.64v4.64h-4.64zM1534.69,2770.86h4.64v4.64h-4.64zM1553.24,2770.86h4.64v4.64h-4.64zM1594.99,2770.86h4.64v4.64h-4.64zM1488.31,2775.49h4.64v4.64h-4.64zM1497.59,2775.49h4.64v4.64h-4.64zM1502.23,2775.49h4.64v4.64h-4.64zM1520.78,2775.49h4.64v4.64h-4.64zM1525.42,2775.49h4.64v4.64h-4.64zM1530.06,2775.49h4.64v4.64h-4.64zM1539.33,2775.49h4.64v4.64h-4.64zM1543.97,2775.49h4.64v4.64h-4.64zM1553.24,2775.49h4.64v4.64h-4.64zM1557.88,2775.49h4.64v4.64h-4.64zM1581.07,2775.49h4.64v4.64h-4.64zM1599.62,2775.49h4.64v4.64h-4.64zM1604.26,2775.49h4.64v4.64h-4.64zM1479.04,2780.13h4.64v4.64h-4.64zM1488.31,2780.13h4.64v4.64h-4.64zM1497.59,2780.13h4.64v4.64h-4.64zM1502.23,2780.13h4.64v4.64h-4.64zM1506.87,2780.13h4.64v4.64h-4.64zM1511.50,2780.13h4.64v4.64h-4.64zM1520.78,2780.13h4.64v4.64h-4.64zM1530.06,2780.13h4.64v4.64h-4.64zM1539.33,2780.13h4.64v4.64h-4.64zM1553.24,2780.13h4.64v4.64h-4.64zM1571.80,2780.13h4.64v4.64h-4.64zM1474.40,2784.77h4.64v4.64h-4.64zM1479.04,2784.77h4.64v4.64h-4.64zM1516.14,2784.77h4.64v4.64h-4.64zM1530.06,2784.77h4.64v4.64h-4.64zM1534.69,2784.77h4.64v4.64h-4.64zM1539.33,2784.77h4.64v4.64h-4.64zM1543.97,2784.77h4.64v4.64h-4.64zM1548.61,2784.77h4.64v4.64h-4.64zM1553.24,2784.77h4.64v4.64h-4.64zM1557.88,2784.77h4.64v4.64h-4.64zM1562.52,2784.77h4.64v4.64h-4.64zM1567.16,2784.77h4.64v4.64h-4.64zM1590.35,2784.77h4.64v4.64h-4.64zM1594.99,2784.77h4.64v4.64h-4.64zM1604.26,2784.77h4.64v4.64h-4.64zM1479.04,2789.41h4.64v4.64h-4.64zM1488.31,2789.41h4.64v4.64h-4.64zM1492.95,2789.41h4.64v4.64h-4.64zM1506.87,2789.41h4.64v4.64h-4.64zM1534.69,2789.41h4.64v4.64h-4.64zM1553.24,2789.41h4.64v4.64h-4.64zM1571.80,2789.41h4.64v4.64h-4.64zM1576.43,2789.41h4.64v4.64h-4.64zM1581.07,2789.41h4.64v4.64h-4.64zM1590.35,2789.41h4.64v4.64h-4.64zM1594.99,2789.41h4.64v4.64h-4.64zM1599.62,2789.41h4.64v4.64h-4.64zM1604.26,2789.41h4.64v4.64h-4.64zM1474.40,2794.04h4.64v4.64h-4.64zM1483.68,2794.04h4.64v4.64h-4.64zM1488.31,2794.04h4.64v4.64h-4.64zM1497.59,2794.04h4.64v4.64h-4.64zM1511.50,2794.04h4.64v4.64h-4.64zM1543.97,2794.04h4.64v4.64h-4.64zM1585.71,2794.04h4.64v4.64h-4.64zM1590.35,2794.04h4.64v4.64h-4.64zM1474.40,2798.68h4.64v4.64h-4.64zM1479.04,2798.68h4.64v4.64h-4.64zM1492.95,2798.68h4.64v4.64h-4.64zM1497.59,2798.68h4.64v4.64h-4.64zM1511.50,2798.68h4.64v4.64h-4.64zM1534.69,2798.68h4.64v4.64h-4.64zM1543.97,2798.68h4.64v4.64h-4.64zM1553.24,2798.68h4.64v4.64h-4.64zM1562.52,2798.68h4.64v4.64h-4.64zM1567.16,2798.68h4.64v4.64h-4.64zM1571.80,2798.68h4.64v4.64h-4.64zM1576.43,2798.68h4.64v4.64h-4.64zM1581.07,2798.68h4.64v4.64h-4.64zM1594.99,2798.68h4.64v4.64h-4.64zM1604.26,2798.68h4.64v4.64h-4.64zM1474.40,2803.32h4.64v4.64h-4.64zM1483.68,2803.32h4.64v4.64h-4.64zM1488.31,2803.32h4.64v4.64h-4.64zM1492.95,2803.32h4.64v4.64h-4.64zM1497.59,2803.32h4.64v4.64h-4.64zM1502.23,2803.32h4.64v4.64h-4.64zM1511.50,2803.32h4.64v4.64h-4.64zM1520.78,2803.32h4.64v4.64h-4.64zM1530.06,2803.32h4.64v4.64h-4.64zM1534.69,2803.32h4.64v4.64h-4.64zM1543.97,2803.32h4.64v4.64h-4.64zM1548.61,2803.32h4.64v4.64h-4.64zM1553.24,2803.32h4.64v4.64h-4.64zM1557.88,2803.32h4.64v4.64h-4.64zM1567.16,2803.32h4.64v4.64h-4.64zM1576.43,2803.32h4.64v4.64h-4.64zM1585.71,2803.32h4.64v4.64h-4.64zM1590.35,2803.32h4.64v4.64h-4.64zM1594.99,2803.32h4.64v4.64h-4.64zM1599.62,2803.32h4.64v4.64h-4.64zM1604.26,2803.32h4.64v4.64h-4.64zM1474.40,2807.96h4.64v4.64h-4.64zM1479.04,2807.96h4.64v4.64h-4.64zM1492.95,2807.96h4.64v4.64h-4.64zM1506.87,2807.96h4.64v4.64h-4.64zM1511.50,2807.96h4.64v4.64h-4.64zM1520.78,2807.96h4.64v4.64h-4.64zM1539.33,2807.96h4.64v4.64h-4.64zM1543.97,2807.96h4.64v4.64h-4.64zM1548.61,2807.96h4.64v4.64h-4.64zM1557.88,2807.96h4.64v4.64h-4.64zM1594.99,2807.96h4.64v4.64h-4.64zM1599.62,2807.96h4.64v4.64h-4.64zM1511.50,2812.60h4.64v4.64h-4.64zM1520.78,2812.60h4.64v4.64h-4.64zM1530.06,2812.60h4.64v4.64h-4.64zM1548.61,2812.60h4.64v4.64h-4.64zM1553.24,2812.60h4.64v4.64h-4.64zM1562.52,2812.60h4.64v4.64h-4.64zM1567.16,2812.60h4.64v4.64h-4.64zM1571.80,2812.60h4.64v4.64h-4.64zM1576.43,2812.60h4.64v4.64h-4.64zM1585.71,2812.60h4.64v4.64h-4.64zM1590.35,2812.60h4.64v4.64h-4.64zM1594.99,2812.60h4.64v4.64h-4.64zM1599.62,2812.60h4.64v4.64h-4.64zM1474.40,2817.23h4.64v4.64h-4.64zM1479.04,2817.23h4.64v4.64h-4.64zM1483.68,2817.23h4.64v4.64h-4.64zM1488.31,2817.23h4.64v4.64h-4.64zM1492.95,2817.23h4.64v4.64h-4.64zM1497.59,2817.23h4.64v4.64h-4.64zM1502.23,2817.23h4.64v4.64h-4.64zM1511.50,2817.23h4.64v4.64h-4.64zM1516.14,2817.23h4.64v4.64h-4.64zM1520.78,2817.23h4.64v4.64h-4.64zM1534.69,2817.23h4.64v4.64h-4.64zM1557.88,2817.23h4.64v4.64h-4.64zM1567.16,2817.23h4.64v4.64h-4.64zM1571.80,2817.23h4.64v4.64h-4.64zM1581.07,2817.23h4.64v4.64h-4.64zM1585.71,2817.23h4.64v4.64h-4.64zM1590.35,2817.23h4.64v4.64h-4.64zM1594.99,2817.23h4.64v4.64h-4.64zM1474.40,2821.87h4.64v4.64h-4.64zM1502.23,2821.87h4.64v4.64h-4.64zM1511.50,2821.87h4.64v4.64h-4.64zM1516.14,2821.87h4.64v4.64h-4.64zM1534.69,2821.87h4.64v4.64h-4.64zM1557.88,2821.87h4.64v4.64h-4.64zM1567.16,2821.87h4.64v4.64h-4.64zM1576.43,2821.87h4.64v4.64h-4.64zM1590.35,2821.87h4.64v4.64h-4.64zM1594.99,2821.87h4.64v4.64h-4.64zM1599.62,2821.87h4.64v4.64h-4.64zM1474.40,2826.51h4.64v4.64h-4.64zM1483.68,2826.51h4.64v4.64h-4.64zM1488.31,2826.51h4.64v4.64h-4.64zM1492.95,2826.51h4.64v4.64h-4.64zM1502.23,2826.51h4.64v4.64h-4.64zM1516.14,2826.51h4.64v4.64h-4.64zM1520.78,2826.51h4.64v4.64h-4.64zM1534.69,2826.51h4.64v4.64h-4.64zM1539.33,2826.51h4.64v4.64h-4.64zM1543.97,2826.51h4.64v4.64h-4.64zM1548.61,2826.51h4.64v4.64h-4.64zM1553.24,2826.51h4.64v4.64h-4.64zM1562.52,2826.51h4.64v4.64h-4.64zM1571.80,2826.51h4.64v4.64h-4.64zM1590.35,2826.51h4.64v4.64h-4.64zM1599.62,2826.51h4.64v4.64h-4.64zM1474.40,2831.15h4.64v4.64h-4.64zM1483.68,2831.15h4.64v4.64h-4.64zM1488.31,2831.15h4.64v4.64h-4.64zM1492.95,2831.15h4.64v4.64h-4.64zM1502.23,2831.15h4.64v4.64h-4.64zM1516.14,2831.15h4.64v4.64h-4.64zM1520.78,2831.15h4.64v4.64h-4.64zM1530.06,2831.15h4.64v4.64h-4.64zM1534.69,2831.15h4.64v4.64h-4.64zM1548.61,2831.15h4.64v4.64h-4.64zM1567.16,2831.15h4.64v4.64h-4.64zM1571.80,2831.15h4.64v4.64h-4.64zM1590.35,2831.15h4.64v4.64h-4.64zM1594.99,2831.15h4.64v4.64h-4.64zM1599.62,2831.15h4.64v4.64h-4.64zM1604.26,2831.15h4.64v4.64h-4.64zM1474.40,2835.79h4.64v4.64h-4.64zM1483.68,2835.79h4.64v4.64h-4.64zM1488.31,2835.79h4.64v4.64h-4.64zM1492.95,2835.79h4.64v4.64h-4.64zM1502.23,2835.79h4.64v4.64h-4.64zM1534.69,2835.79h4.64v4.64h-4.64zM1539.33,2835.79h4.64v4.64h-4.64zM1543.97,2835.79h4.64v4.64h-4.64zM1548.61,2835.79h4.64v4.64h-4.64zM1562.52,2835.79h4.64v4.64h-4.64zM1571.80,2835.79h4.64v4.64h-4.64zM1576.43,2835.79h4.64v4.64h-4.64zM1581.07,2835.79h4.64v4.64h-4.64zM1585.71,2835.79h4.64v4.64h-4.64zM1594.99,2835.79h4.64v4.64h-4.64zM1474.40,2840.42h4.64v4.64h-4.64zM1502.23,2840.42h4.64v4.64h-4.64zM1525.42,2840.42h4.64v4.64h-4.64zM1557.88,2840.42h4.64v4.64h-4.64zM1567.16,2840.42h4.64v4.64h-4.64zM1576.43,2840.42h4.64v4.64h-4.64zM1585.71,2840.42h4.64v4.64h-4.64zM1599.62,2840.42h4.64v4.64h-4.64zM1474.40,2845.06h4.64v4.64h-4.64zM1479.04,2845.06h4.64v4.64h-4.64zM1483.68,2845.06h4.64v4.64h-4.64zM1488.31,2845.06h4.64v4.64h-4.64zM1492.95,2845.06h4.64v4.64h-4.64zM1497.59,2845.06h4.64v4.64h-4.64zM1502.23,2845.06h4.64v4.64h-4.64zM1516.14,2845.06h4.64v4.64h-4.64zM1539.33,2845.06h4.64v4.64h-4.64zM1543.97,2845.06h4.64v4.64h-4.64zM1553.24,2845.06h4.64v4.64h-4.64zM1557.88,2845.06h4.64v4.64h-4.64zM1562.52,2845.06h4.64v4.64h-4.64zM1567.16,2845.06h4.64v4.64h-4.64zM1571.80,2845.06h4.64v4.64h-4.64zM1576.43,2845.06h4.64v4.64h-4.64zM1581.07,2845.06h4.64v4.64h-4.64zM1585.71,2845.06h4.64v4.64h-4.64zM1590.35,2845.06h4.64v4.64h-4.64zM1594.99,2845.06h4.64v4.64h-4.64zM1599.62,2845.06h4.64v4.64h-4.64zM1604.26,2845.06h4.64v4.64h-4.64z" fill="#000"/></svg>
<div class="t" id="t18" style="left:560.0px;top:826.6px;font-size:43.48px;line-height:43.48px;font-family:'Liberation Sans', sans-serif;color:#000;transform:scaleX(0.9681)">Update</div>
<div class="t" id="t19" style="left:943.8px;top:795.0px;font-size:43.48px;line-height:43.48px;font-family:'Liberation Sans', sans-serif;color:#000;transform:scaleX(0.9926)">Back-propagation</div>
<div class="t" id="t20" style="left:690.9px;top:953.9px;font-size:50.72px;line-height:50.72px;font-family:'Liberation Sans', sans-serif;color:#FFFFFF;transform:scaleX(0.9751)">Input</div>
<div class="t" id="t21" style="left:996.8px;top:922.7px;font-size:49.28px;line-height:49.28px;font-family:'Liberation Sans', sans-serif;color:#FFFFFF;transform:scaleX(0.9533)">Black-box</div>
<div class="t" id="t22" style="left:1031.0px;top:984.6px;font-size:49.28px;line-height:49.28px;font-family:'Liberation Sans', sans-serif;color:#FFFFFF">Model</div>
<div class="t" id="t23" style="left:1416.0px;top:953.9px;font-size:50.72px;line-height:50.72px;font-family:'Liberation Sans', sans-serif;color:#FFFFFF">output</div>
<div class="t" id="t24" style="left:998.0px;top:1099.5px;font-size:43.48px;line-height:43.48px;font-family:'Liberation Sans', sans-serif;color:#000;transform:scaleX(0.9725)">As a Feedback</div>
<div class="t" id="t25" style="left:940.4px;top:1198.0px;font-size:43.48px;line-height:43.48px;font-family:'Liberation Sans', sans-serif;color:#000;transform:scaleX(0.9761)">Back-propagation</div>
<div class="t" id="t26" style="left:498.4px;top:1323.1px;font-size:43.48px;line-height:43.48px;font-family:'Liberation Sans', sans-serif;color:#000;transform:scaleX(0.9560)">Update</div>
<div class="t" id="t27" style="left:708.0px;top:1341.8px;font-size:50.72px;line-height:50.72px;font-family:'Liberation Sans', sans-serif;color:#FFFFFF;transform:scaleX(0.9635)">Input</div>
<div class="t" id="t28" style="left:1033.2px;top:1285.9px;font-size:49.28px;line-height:49.28px;font-family:'Liberation Sans', sans-serif;color:#FFFFFF;transform:scaleX(0.8369)">White-box</div>
<div class="t" id="t29" style="left:1032.5px;top:1340.9px;font-size:49.28px;line-height:49.28px;font-family:'Liberation Sans', sans-serif;color:#FFFFFF;transform:scaleX(0.8574)">Surrogate</div>
<div class="t" id="t30" style="left:1066.9px;top:1395.9px;font-size:49.28px;line-height:49.28px;font-family:'Liberation Sans', sans-serif;color:#FFFFFF;transform:scaleX(0.8861)">Model</div>
<div class="t" id="t31" style="left:1420.2px;top:1341.8px;font-size:50.72px;line-height:50.72px;font-family:'Liberation Sans', sans-serif;color:#FFFFFF;transform:scaleX(0.9800)">output</div>
<div class="t" id="t32" style="left:694.3px;top:1478.5px;font-size:43.48px;line-height:43.48px;font-family:'Liberation Sans', sans-serif;color:#000;transform:scaleX(0.9524)">Transfer</div>
<div class="t" id="t33" style="left:1158.3px;top:1451.4px;font-size:40.58px;line-height:40.58px;font-family:'Liberation Sans', sans-serif;color:#000;transform:scaleX(0.9367)">Similar in architecture,</div>
<div class="t" id="t34" style="left:1158.3px;top:1499.5px;font-size:40.58px;line-height:40.58px;font-family:'Liberation Sans', sans-serif;color:#000;transform:scaleX(0.9337)">training data, backbones, etc.</div>
<div class="t" id="t35" style="left:1018.8px;top:1545.1px;font-size:49.28px;line-height:49.28px;font-family:'Liberation Sans', sans-serif;color:#FFFFFF;transform:scaleX(0.8358)">Black-box</div>
<div class="t" id="t36" style="left:1051.8px;top:1600.1px;font-size:49.28px;line-height:49.28px;font-family:'Liberation Sans', sans-serif;color:#FFFFFF;transform:scaleX(0.8555)">Model</div>
<div class="t" id="t37" style="left:127.2px;top:1645.3px;font-size:60.87px;line-height:60.87px;font-family:'Liberation Sans', sans-serif;color:#8B6C3E;font-weight:bold;transform:scaleX(0.8843)">Pixel-Wise Regression Tasks</div>
<div class="t" id="t38" style="left:122.4px;top:1723.6px;font-size:47.83px;line-height:47.83px;font-family:'Liberation Sans', sans-serif;color:#A6A6A6;font-weight:bold;font-style:italic;transform:scaleX(0.9712)">Models with continuous output at the pixel level:</div>
<div class="t" id="t39" style="left:126.4px;top:1990.1px;font-size:53.62px;line-height:53.62px;font-family:'Liberation Sans', sans-serif;color:#000;transform:scaleX(0.9348)">Monocular Depth Estimation (MDE)</div>
<div class="t" id="t40" style="left:1240.0px;top:1990.1px;font-size:53.62px;line-height:53.62px;font-family:'Liberation Sans', sans-serif;color:#8B6C3E;transform:scaleX(0.9210)">Distances</div>
<div class="t" id="t41" style="left:182.2px;top:2272.9px;font-size:53.62px;line-height:53.62px;font-family:'Liberation Sans', sans-serif;color:#000;transform:scaleX(0.9090)">Optical Flow Estimation (OFE)</div>
<div class="t" id="t42" style="left:1197.5px;top:2272.9px;font-size:53.62px;line-height:53.62px;font-family:'Liberation Sans', sans-serif;color:#8B6C3E;transform:scaleX(0.9237)">2D Pixel Offsets</div>
<div class="t" id="t43" style="left:146.9px;top:2605.0px;font-size:53.62px;line-height:53.62px;font-family:'Liberation Sans', sans-serif;color:#000;transform:scaleX(0.9223)">Surface Norm Estimation (SNE)</div>
<div class="t" id="t44" style="left:1144.6px;top:2610.1px;font-size:53.62px;line-height:53.62px;font-family:'Liberation Sans', sans-serif;color:#8B6C3E;transform:scaleX(0.9291)">3D Normal Vectors</div>
<svg class="a" style="left:180px;top:2715px" width="250" height="85" viewBox="180 2715 250 85"><g fill="#141210"><path d="M187.6,2725.4 H214.7 V2736.9 H207.8 V2778 H214.7 V2789.5 H187.6 V2778 H194.5 V2736.9 H187.6 Z"/><path d="M274.6,2727 C268,2725 260,2724.5 252,2724.5 C233,2724.5 220,2738 220,2757.4 C220,2777 233,2790 252,2790 C260,2790 268,2789.5 274.6,2788 L274.6,2774 C268,2776 262,2776.5 256,2776.5 C244,2776.5 237,2768 237,2757.4 C237,2746 244,2738 256,2738 C262,2738 268,2739 274.6,2740.5 Z"/><path d="M285.5,2725.4 H306 L325,2768 L344,2725.4 H364.3 V2789.5 H349 V2745 L331,2789.5 H319 L300.5,2745 V2789.5 H285.5 Z"/><path d="M379.7,2725.4 H395.3 V2778 H421.2 V2789.5 H379.7 Z"/></g></svg>
<div class="t" id="t45" style="left:188.0px;top:2804.0px;font-size:18.12px;line-height:18.12px;font-family:'Liberation Sans', sans-serif;color:#231F20;transform:scaleX(1.1673)">International Conference</div>
<div class="t" id="t46" style="left:188.0px;top:2826.6px;font-size:18.12px;line-height:18.12px;font-family:'Liberation Sans', sans-serif;color:#231F20;transform:scaleX(1.1504)">On Machine Learning</div>
<div class="t" id="t47" style="left:929.3px;top:2744.5px;font-size:53.62px;line-height:53.62px;font-family:'Liberation Sans', sans-serif;color:#000;transform:scaleX(0.8838)">Paper:</div>
<div class="t" id="t48" style="left:1296.7px;top:2715.1px;font-size:53.62px;line-height:53.62px;font-family:'Liberation Sans', sans-serif;color:#000;transform:scaleX(0.9247)">Project</div>
<div class="t" id="t49" style="left:1313.6px;top:2773.9px;font-size:53.62px;line-height:53.62px;font-family:'Liberation Sans', sans-serif;color:#000;transform:scaleX(0.8565)">Page:</div>
<div class="t" id="t50" style="left:1733.6px;top:691.9px;font-size:57.97px;line-height:57.97px;font-family:'Liberation Sans', sans-serif;color:#8B6C3E;font-weight:bold;transform:scaleX(0.9530)">Compared with Previous Black-box Attacks:</div>
<div class="t" id="t51" style="left:1815.9px;top:782.4px;font-size:50.72px;line-height:50.72px;font-family:'Liberation Sans', sans-serif;color:#000">1.</div>
<div class="t" id="t52" style="left:1815.9px;top:910.5px;font-size:50.72px;line-height:50.72px;font-family:'Liberation Sans', sans-serif;color:#000">2.</div>
<div class="t" id="t53" style="left:1815.9px;top:981.4px;font-size:50.72px;line-height:50.72px;font-family:'Liberation Sans', sans-serif;color:#000">3.</div>
<div class="t" id="t54" style="left:1815.9px;top:1052.4px;font-size:50.72px;line-height:50.72px;font-family:'Liberation Sans', sans-serif;color:#000">4.</div>
<div class="t" id="t55" style="left:1896.0px;top:782.4px;font-size:50.72px;line-height:50.72px;font-family:'Liberation Sans', sans-serif;color:#000;transform:scaleX(0.9971)">Regression Model.&nbsp; (No prior knowledge from the target-</div>
<div class="t" id="t56" style="left:1896.0px;top:839.4px;font-size:50.72px;line-height:50.72px;font-family:'Liberation Sans', sans-serif;color:#000;transform:scaleX(0.9934)">class images.)</div>
<div class="t" id="t57" style="left:1896.0px;top:910.5px;font-size:50.72px;line-height:50.72px;font-family:'Liberation Sans', sans-serif;color:#000;transform:scaleX(1.0135)">Universal Patch. (Image-independent attack effect.)</div>
<div class="t" id="t58" style="left:1896.0px;top:981.4px;font-size:50.72px;line-height:50.72px;font-family:'Liberation Sans', sans-serif;color:#000;transform:scaleX(1.0053)">High-resolution input images. (Huge search space.)</div>
<div class="t" id="t59" style="left:1896.0px;top:1052.4px;font-size:50.72px;line-height:50.72px;font-family:'Liberation Sans', sans-serif;color:#000;transform:scaleX(1.0100)">Practical. (High query efficiency.)</div>
<div class="t" id="t60" style="left:1733.6px;top:1285.4px;font-size:59.42px;line-height:59.42px;font-family:'Liberation Sans', sans-serif;color:#8B6C3E;font-weight:bold;transform:scaleX(0.9290)">Square-based Black-Box Patch Generation Approach</div>
<svg class="a" style="left:1690px;top:1340px" width="1670" height="1480" viewBox="1690 1340 1670 1480" ><defs><pattern id="noiz" width="100.0" height="100.0" patternUnits="userSpaceOnUse"><rect width="100.0" height="100.0" fill="#8e8b8e"/><rect x="0.0" y="0.0" width="5.0" height="5.0" fill="rgb(144,116,135)"/><rect x="10.0" y="0.0" width="5.0" height="5.0" fill="rgb(147,112,150)"/><rect x="15.0" y="0.0" width="5.0" height="5.0" fill="rgb(163,138,128)"/><rect x="20.0" y="0.0" width="5.0" height="5.0" fill="rgb(122,153,142)"/><rect x="25.0" y="0.0" width="5.0" height="5.0" fill="rgb(145,138,137)"/><rect x="30.0" y="0.0" width="5.0" height="5.0" fill="rgb(119,122,152)"/><rect x="35.0" y="0.0" width="5.0" height="5.0" fill="rgb(143,132,159)"/><rect x="40.0" y="0.0" width="5.0" height="5.0" fill="rgb(159,112,122)"/><rect x="50.0" y="0.0" width="5.0" height="5.0" fill="rgb(129,157,113)"/><rect x="60.0" y="0.0" width="5.0" height="5.0" fill="rgb(148,154,168)"/><rect x="65.0" y="0.0" width="5.0" height="5.0" fill="rgb(160,135,137)"/><rect x="70.0" y="0.0" width="5.0" height="5.0" fill="rgb(146,136,120)"/><rect x="80.0" y="0.0" width="5.0" height="5.0" fill="rgb(118,139,125)"/><rect x="85.0" y="0.0" width="5.0" height="5.0" fill="rgb(153,135,161)"/><rect x="90.0" y="0.0" width="5.0" height="5.0" fill="rgb(129,134,144)"/><rect x="0.0" y="5.0" width="5.0" height="5.0" fill="rgb(144,145,138)"/><rect x="5.0" y="5.0" width="5.0" height="5.0" fill="rgb(131,151,113)"/><rect x="20.0" y="5.0" width="5.0" height="5.0" fill="rgb(120,152,167)"/><rect x="25.0" y="5.0" width="5.0" height="5.0" fill="rgb(144,144,148)"/><rect x="30.0" y="5.0" width="5.0" height="5.0" fill="rgb(151,121,152)"/><rect x="40.0" y="5.0" width="5.0" height="5.0" fill="rgb(128,115,116)"/><rect x="45.0" y="5.0" width="5.0" height="5.0" fill="rgb(150,138,117)"/><rect x="50.0" y="5.0" width="5.0" height="5.0" fill="rgb(114,134,121)"/><rect x="55.0" y="5.0" width="5.0" height="5.0" fill="rgb(137,157,138)"/><rect x="65.0" y="5.0" width="5.0" height="5.0" fill="rgb(149,156,114)"/><rect x="70.0" y="5.0" width="5.0" height="5.0" fill="rgb(147,129,147)"/><rect x="85.0" y="5.0" width="5.0" height="5.0" fill="rgb(112,127,112)"/><rect x="90.0" y="5.0" width="5.0" height="5.0" fill="rgb(148,142,114)"/><rect x="5.0" y="10.0" width="5.0" height="5.0" fill="rgb(126,117,156)"/><rect x="10.0" y="10.0" width="5.0" height="5.0" fill="rgb(165,129,132)"/><rect x="15.0" y="10.0" width="5.0" height="5.0" fill="rgb(118,163,136)"/><rect x="20.0" y="10.0" width="5.0" height="5.0" fill="rgb(165,141,136)"/><rect x="25.0" y="10.0" width="5.0" height="5.0" fill="rgb(148,151,147)"/><rect x="30.0" y="10.0" width="5.0" height="5.0" fill="rgb(161,140,129)"/><rect x="35.0" y="10.0" width="5.0" height="5.0" fill="rgb(156,153,127)"/><rect x="45.0" y="10.0" width="5.0" height="5.0" fill="rgb(126,141,131)"/><rect x="50.0" y="10.0" width="5.0" height="5.0" fill="rgb(110,158,138)"/><rect x="60.0" y="10.0" width="5.0" height="5.0" fill="rgb(134,147,149)"/><rect x="65.0" y="10.0" width="5.0" height="5.0" fill="rgb(113,148,152)"/><rect x="70.0" y="10.0" width="5.0" height="5.0" fill="rgb(132,151,134)"/><rect x="75.0" y="10.0" width="5.0" height="5.0" fill="rgb(127,155,143)"/><rect x="80.0" y="10.0" width="5.0" height="5.0" fill="rgb(113,151,113)"/><rect x="90.0" y="10.0" width="5.0" height="5.0" fill="rgb(139,127,149)"/><rect x="95.0" y="10.0" width="5.0" height="5.0" fill="rgb(121,131,123)"/><rect x="0.0" y="15.0" width="5.0" height="5.0" fill="rgb(133,162,150)"/><rect x="5.0" y="15.0" width="5.0" height="5.0" fill="rgb(160,132,118)"/><rect x="15.0" y="15.0" width="5.0" height="5.0" fill="rgb(146,151,159)"/><rect x="20.0" y="15.0" width="5.0" height="5.0" fill="rgb(142,122,153)"/><rect x="30.0" y="15.0" width="5.0" height="5.0" fill="rgb(121,151,139)"/><rect x="35.0" y="15.0" width="5.0" height="5.0" fill="rgb(116,114,150)"/><rect x="40.0" y="15.0" width="5.0" height="5.0" fill="rgb(131,151,165)"/><rect x="45.0" y="15.0" width="5.0" height="5.0" fill="rgb(161,162,122)"/><rect x="50.0" y="15.0" width="5.0" height="5.0" fill="rgb(157,149,125)"/><rect x="60.0" y="15.0" width="5.0" height="5.0" fill="rgb(124,158,119)"/><rect x="65.0" y="15.0" width="5.0" height="5.0" fill="rgb(122,128,163)"/><rect x="75.0" y="15.0" width="5.0" height="5.0" fill="rgb(165,125,133)"/><rect x="85.0" y="15.0" width="5.0" height="5.0" fill="rgb(161,147,134)"/><rect x="90.0" y="15.0" width="5.0" height="5.0" fill="rgb(136,126,145)"/><rect x="0.0" y="20.0" width="5.0" height="5.0" fill="rgb(132,148,138)"/><rect x="5.0" y="20.0" width="5.0" height="5.0" fill="rgb(146,134,114)"/><rect x="15.0" y="20.0" width="5.0" height="5.0" fill="rgb(110,138,165)"/><rect x="30.0" y="20.0" width="5.0" height="5.0" fill="rgb(155,122,114)"/><rect x="35.0" y="20.0" width="5.0" height="5.0" fill="rgb(163,156,154)"/><rect x="40.0" y="20.0" width="5.0" height="5.0" fill="rgb(128,142,133)"/><rect x="65.0" y="20.0" width="5.0" height="5.0" fill="rgb(125,110,114)"/><rect x="75.0" y="20.0" width="5.0" height="5.0" fill="rgb(122,164,139)"/><rect x="80.0" y="20.0" width="5.0" height="5.0" fill="rgb(110,138,159)"/><rect x="85.0" y="20.0" width="5.0" height="5.0" fill="rgb(142,127,127)"/><rect x="90.0" y="20.0" width="5.0" height="5.0" fill="rgb(143,142,138)"/><rect x="95.0" y="20.0" width="5.0" height="5.0" fill="rgb(149,115,133)"/><rect x="0.0" y="25.0" width="5.0" height="5.0" fill="rgb(165,142,142)"/><rect x="10.0" y="25.0" width="5.0" height="5.0" fill="rgb(124,120,119)"/><rect x="15.0" y="25.0" width="5.0" height="5.0" fill="rgb(162,115,122)"/><rect x="20.0" y="25.0" width="5.0" height="5.0" fill="rgb(127,164,163)"/><rect x="25.0" y="25.0" width="5.0" height="5.0" fill="rgb(110,139,152)"/><rect x="30.0" y="25.0" width="5.0" height="5.0" fill="rgb(135,111,160)"/><rect x="35.0" y="25.0" width="5.0" height="5.0" fill="rgb(127,147,145)"/><rect x="40.0" y="25.0" width="5.0" height="5.0" fill="rgb(113,138,132)"/><rect x="50.0" y="25.0" width="5.0" height="5.0" fill="rgb(113,157,120)"/><rect x="55.0" y="25.0" width="5.0" height="5.0" fill="rgb(113,112,142)"/><rect x="70.0" y="25.0" width="5.0" height="5.0" fill="rgb(142,139,132)"/><rect x="75.0" y="25.0" width="5.0" height="5.0" fill="rgb(114,130,136)"/><rect x="80.0" y="25.0" width="5.0" height="5.0" fill="rgb(147,127,135)"/><rect x="85.0" y="25.0" width="5.0" height="5.0" fill="rgb(131,135,119)"/><rect x="90.0" y="25.0" width="5.0" height="5.0" fill="rgb(110,153,158)"/><rect x="95.0" y="25.0" width="5.0" height="5.0" fill="rgb(115,144,123)"/><rect x="0.0" y="30.0" width="5.0" height="5.0" fill="rgb(139,146,153)"/><rect x="10.0" y="30.0" width="5.0" height="5.0" fill="rgb(161,110,151)"/><rect x="20.0" y="30.0" width="5.0" height="5.0" fill="rgb(150,139,160)"/><rect x="25.0" y="30.0" width="5.0" height="5.0" fill="rgb(136,152,138)"/><rect x="30.0" y="30.0" width="5.0" height="5.0" fill="rgb(125,121,146)"/><rect x="35.0" y="30.0" width="5.0" height="5.0" fill="rgb(147,112,163)"/><rect x="40.0" y="30.0" width="5.0" height="5.0" fill="rgb(137,116,168)"/><rect x="45.0" y="30.0" width="5.0" height="5.0" fill="rgb(130,131,147)"/><rect x="55.0" y="30.0" width="5.0" height="5.0" fill="rgb(139,152,119)"/><rect x="65.0" y="30.0" width="5.0" height="5.0" fill="rgb(164,164,145)"/><rect x="75.0" y="30.0" width="5.0" height="5.0" fill="rgb(156,128,148)"/><rect x="80.0" y="30.0" width="5.0" height="5.0" fill="rgb(161,145,157)"/><rect x="85.0" y="30.0" width="5.0" height="5.0" fill="rgb(119,123,161)"/><rect x="90.0" y="30.0" width="5.0" height="5.0" fill="rgb(143,113,148)"/><rect x="95.0" y="30.0" width="5.0" height="5.0" fill="rgb(166,132,123)"/><rect x="5.0" y="35.0" width="5.0" height="5.0" fill="rgb(164,115,113)"/><rect x="15.0" y="35.0" width="5.0" height="5.0" fill="rgb(163,152,130)"/><rect x="20.0" y="35.0" width="5.0" height="5.0" fill="rgb(161,113,114)"/><rect x="30.0" y="35.0" width="5.0" height="5.0" fill="rgb(143,153,127)"/><rect x="35.0" y="35.0" width="5.0" height="5.0" fill="rgb(157,114,147)"/><rect x="40.0" y="35.0" width="5.0" height="5.0" fill="rgb(130,163,148)"/><rect x="45.0" y="35.0" width="5.0" height="5.0" fill="rgb(114,123,123)"/><rect x="50.0" y="35.0" width="5.0" height="5.0" fill="rgb(139,147,156)"/><rect x="60.0" y="35.0" width="5.0" height="5.0" fill="rgb(133,146,137)"/><rect x="70.0" y="35.0" width="5.0" height="5.0" fill="rgb(115,132,144)"/><rect x="75.0" y="35.0" width="5.0" height="5.0" fill="rgb(136,161,159)"/><rect x="85.0" y="35.0" width="5.0" height="5.0" fill="rgb(146,156,149)"/><rect x="90.0" y="35.0" width="5.0" height="5.0" fill="rgb(143,151,142)"/><rect x="95.0" y="35.0" width="5.0" height="5.0" fill="rgb(135,164,121)"/><rect x="0.0" y="40.0" width="5.0" height="5.0" fill="rgb(141,155,142)"/><rect x="10.0" y="40.0" width="5.0" height="5.0" fill="rgb(138,145,158)"/><rect x="20.0" y="40.0" width="5.0" height="5.0" fill="rgb(158,120,121)"/><rect x="25.0" y="40.0" width="5.0" height="5.0" fill="rgb(130,122,166)"/><rect x="30.0" y="40.0" width="5.0" height="5.0" fill="rgb(159,126,154)"/><rect x="35.0" y="40.0" width="5.0" height="5.0" fill="rgb(136,146,166)"/><rect x="40.0" y="40.0" width="5.0" height="5.0" fill="rgb(127,164,125)"/><rect x="45.0" y="40.0" width="5.0" height="5.0" fill="rgb(127,138,163)"/><rect x="50.0" y="40.0" width="5.0" height="5.0" fill="rgb(121,144,135)"/><rect x="55.0" y="40.0" width="5.0" height="5.0" fill="rgb(140,157,167)"/><rect x="60.0" y="40.0" width="5.0" height="5.0" fill="rgb(154,138,156)"/><rect x="65.0" y="40.0" width="5.0" height="5.0" fill="rgb(139,145,165)"/><rect x="75.0" y="40.0" width="5.0" height="5.0" fill="rgb(111,138,158)"/><rect x="80.0" y="40.0" width="5.0" height="5.0" fill="rgb(135,158,158)"/><rect x="90.0" y="40.0" width="5.0" height="5.0" fill="rgb(124,123,153)"/><rect x="95.0" y="40.0" width="5.0" height="5.0" fill="rgb(153,112,125)"/><rect x="5.0" y="45.0" width="5.0" height="5.0" fill="rgb(122,157,128)"/><rect x="10.0" y="45.0" width="5.0" height="5.0" fill="rgb(149,153,155)"/><rect x="25.0" y="45.0" width="5.0" height="5.0" fill="rgb(165,110,132)"/><rect x="30.0" y="45.0" width="5.0" height="5.0" fill="rgb(115,154,163)"/><rect x="35.0" y="45.0" width="5.0" height="5.0" fill="rgb(115,124,165)"/><rect x="45.0" y="45.0" width="5.0" height="5.0" fill="rgb(138,145,158)"/><rect x="50.0" y="45.0" width="5.0" height="5.0" fill="rgb(110,109,133)"/><rect x="55.0" y="45.0" width="5.0" height="5.0" fill="rgb(134,139,116)"/><rect x="60.0" y="45.0" width="5.0" height="5.0" fill="rgb(147,155,143)"/><rect x="65.0" y="45.0" width="5.0" height="5.0" fill="rgb(144,128,119)"/><rect x="75.0" y="45.0" width="5.0" height="5.0" fill="rgb(137,115,140)"/><rect x="90.0" y="45.0" width="5.0" height="5.0" fill="rgb(154,131,155)"/><rect x="5.0" y="50.0" width="5.0" height="5.0" fill="rgb(153,150,153)"/><rect x="20.0" y="50.0" width="5.0" height="5.0" fill="rgb(131,151,148)"/><rect x="25.0" y="50.0" width="5.0" height="5.0" fill="rgb(117,150,143)"/><rect x="30.0" y="50.0" width="5.0" height="5.0" fill="rgb(113,153,130)"/><rect x="35.0" y="50.0" width="5.0" height="5.0" fill="rgb(146,155,123)"/><rect x="40.0" y="50.0" width="5.0" height="5.0" fill="rgb(156,148,121)"/><rect x="45.0" y="50.0" width="5.0" height="5.0" fill="rgb(166,149,141)"/><rect x="50.0" y="50.0" width="5.0" height="5.0" fill="rgb(145,117,133)"/><rect x="55.0" y="50.0" width="5.0" height="5.0" fill="rgb(151,146,138)"/><rect x="60.0" y="50.0" width="5.0" height="5.0" fill="rgb(151,119,141)"/><rect x="65.0" y="50.0" width="5.0" height="5.0" fill="rgb(160,119,157)"/><rect x="70.0" y="50.0" width="5.0" height="5.0" fill="rgb(155,119,160)"/><rect x="75.0" y="50.0" width="5.0" height="5.0" fill="rgb(146,155,137)"/><rect x="80.0" y="50.0" width="5.0" height="5.0" fill="rgb(127,125,136)"/><rect x="85.0" y="50.0" width="5.0" height="5.0" fill="rgb(118,110,142)"/><rect x="90.0" y="50.0" width="5.0" height="5.0" fill="rgb(125,152,161)"/><rect x="95.0" y="50.0" width="5.0" height="5.0" fill="rgb(166,129,137)"/><rect x="0.0" y="55.0" width="5.0" height="5.0" fill="rgb(161,157,116)"/><rect x="5.0" y="55.0" width="5.0" height="5.0" fill="rgb(164,115,121)"/><rect x="10.0" y="55.0" width="5.0" height="5.0" fill="rgb(116,151,119)"/><rect x="15.0" y="55.0" width="5.0" height="5.0" fill="rgb(156,115,123)"/><rect x="20.0" y="55.0" width="5.0" height="5.0" fill="rgb(146,134,154)"/><rect x="25.0" y="55.0" width="5.0" height="5.0" fill="rgb(162,155,120)"/><rect x="30.0" y="55.0" width="5.0" height="5.0" fill="rgb(119,163,137)"/><rect x="40.0" y="55.0" width="5.0" height="5.0" fill="rgb(120,144,123)"/><rect x="45.0" y="55.0" width="5.0" height="5.0" fill="rgb(126,131,162)"/><rect x="50.0" y="55.0" width="5.0" height="5.0" fill="rgb(163,159,140)"/><rect x="65.0" y="55.0" width="5.0" height="5.0" fill="rgb(145,145,131)"/><rect x="70.0" y="55.0" width="5.0" height="5.0" fill="rgb(143,151,157)"/><rect x="75.0" y="55.0" width="5.0" height="5.0" fill="rgb(165,150,142)"/><rect x="80.0" y="55.0" width="5.0" height="5.0" fill="rgb(122,154,152)"/><rect x="85.0" y="55.0" width="5.0" height="5.0" fill="rgb(159,156,154)"/><rect x="90.0" y="55.0" width="5.0" height="5.0" fill="rgb(121,141,152)"/><rect x="95.0" y="55.0" width="5.0" height="5.0" fill="rgb(122,158,145)"/><rect x="0.0" y="60.0" width="5.0" height="5.0" fill="rgb(162,140,153)"/><rect x="10.0" y="60.0" width="5.0" height="5.0" fill="rgb(128,150,121)"/><rect x="15.0" y="60.0" width="5.0" height="5.0" fill="rgb(160,113,151)"/><rect x="25.0" y="60.0" width="5.0" height="5.0" fill="rgb(149,122,144)"/><rect x="30.0" y="60.0" width="5.0" height="5.0" fill="rgb(144,109,133)"/><rect x="35.0" y="60.0" width="5.0" height="5.0" fill="rgb(165,130,156)"/><rect x="40.0" y="60.0" width="5.0" height="5.0" fill="rgb(115,162,165)"/><rect x="45.0" y="60.0" width="5.0" height="5.0" fill="rgb(112,153,117)"/><rect x="50.0" y="60.0" width="5.0" height="5.0" fill="rgb(131,159,125)"/><rect x="65.0" y="60.0" width="5.0" height="5.0" fill="rgb(158,122,143)"/><rect x="70.0" y="60.0" width="5.0" height="5.0" fill="rgb(160,110,138)"/><rect x="75.0" y="60.0" width="5.0" height="5.0" fill="rgb(122,153,122)"/><rect x="80.0" y="60.0" width="5.0" height="5.0" fill="rgb(140,152,116)"/><rect x="85.0" y="60.0" width="5.0" height="5.0" fill="rgb(137,121,153)"/><rect x="90.0" y="60.0" width="5.0" height="5.0" fill="rgb(111,137,141)"/><rect x="0.0" y="65.0" width="5.0" height="5.0" fill="rgb(121,137,114)"/><rect x="5.0" y="65.0" width="5.0" height="5.0" fill="rgb(133,162,135)"/><rect x="10.0" y="65.0" width="5.0" height="5.0" fill="rgb(133,146,137)"/><rect x="15.0" y="65.0" width="5.0" height="5.0" fill="rgb(110,159,125)"/><rect x="20.0" y="65.0" width="5.0" height="5.0" fill="rgb(133,117,166)"/><rect x="25.0" y="65.0" width="5.0" height="5.0" fill="rgb(122,118,125)"/><rect x="30.0" y="65.0" width="5.0" height="5.0" fill="rgb(147,133,144)"/><rect x="35.0" y="65.0" width="5.0" height="5.0" fill="rgb(111,116,119)"/><rect x="40.0" y="65.0" width="5.0" height="5.0" fill="rgb(138,139,123)"/><rect x="45.0" y="65.0" width="5.0" height="5.0" fill="rgb(111,133,140)"/><rect x="50.0" y="65.0" width="5.0" height="5.0" fill="rgb(112,153,157)"/><rect x="55.0" y="65.0" width="5.0" height="5.0" fill="rgb(135,110,137)"/><rect x="60.0" y="65.0" width="5.0" height="5.0" fill="rgb(166,122,127)"/><rect x="65.0" y="65.0" width="5.0" height="5.0" fill="rgb(140,120,122)"/><rect x="70.0" y="65.0" width="5.0" height="5.0" fill="rgb(117,130,119)"/><rect x="75.0" y="65.0" width="5.0" height="5.0" fill="rgb(161,154,130)"/><rect x="80.0" y="65.0" width="5.0" height="5.0" fill="rgb(160,137,162)"/><rect x="90.0" y="65.0" width="5.0" height="5.0" fill="rgb(125,143,129)"/><rect x="95.0" y="65.0" width="5.0" height="5.0" fill="rgb(131,148,134)"/><rect x="0.0" y="70.0" width="5.0" height="5.0" fill="rgb(113,151,139)"/><rect x="10.0" y="70.0" width="5.0" height="5.0" fill="rgb(110,114,113)"/><rect x="15.0" y="70.0" width="5.0" height="5.0" fill="rgb(111,118,144)"/><rect x="20.0" y="70.0" width="5.0" height="5.0" fill="rgb(113,120,153)"/><rect x="25.0" y="70.0" width="5.0" height="5.0" fill="rgb(131,120,160)"/><rect x="30.0" y="70.0" width="5.0" height="5.0" fill="rgb(161,138,134)"/><rect x="40.0" y="70.0" width="5.0" height="5.0" fill="rgb(129,156,150)"/><rect x="45.0" y="70.0" width="5.0" height="5.0" fill="rgb(135,113,130)"/><rect x="50.0" y="70.0" width="5.0" height="5.0" fill="rgb(136,115,144)"/><rect x="55.0" y="70.0" width="5.0" height="5.0" fill="rgb(131,142,155)"/><rect x="65.0" y="70.0" width="5.0" height="5.0" fill="rgb(163,155,167)"/><rect x="70.0" y="70.0" width="5.0" height="5.0" fill="rgb(163,143,134)"/><rect x="80.0" y="70.0" width="5.0" height="5.0" fill="rgb(136,136,126)"/><rect x="85.0" y="70.0" width="5.0" height="5.0" fill="rgb(154,138,134)"/><rect x="90.0" y="70.0" width="5.0" height="5.0" fill="rgb(120,140,158)"/><rect x="5.0" y="75.0" width="5.0" height="5.0" fill="rgb(141,110,121)"/><rect x="10.0" y="75.0" width="5.0" height="5.0" fill="rgb(158,109,164)"/><rect x="15.0" y="75.0" width="5.0" height="5.0" fill="rgb(158,152,155)"/><rect x="20.0" y="75.0" width="5.0" height="5.0" fill="rgb(130,123,150)"/><rect x="30.0" y="75.0" width="5.0" height="5.0" fill="rgb(166,147,167)"/><rect x="35.0" y="75.0" width="5.0" height="5.0" fill="rgb(139,163,158)"/><rect x="40.0" y="75.0" width="5.0" height="5.0" fill="rgb(133,108,116)"/><rect x="45.0" y="75.0" width="5.0" height="5.0" fill="rgb(160,114,133)"/><rect x="50.0" y="75.0" width="5.0" height="5.0" fill="rgb(117,136,117)"/><rect x="60.0" y="75.0" width="5.0" height="5.0" fill="rgb(154,111,121)"/><rect x="70.0" y="75.0" width="5.0" height="5.0" fill="rgb(110,115,126)"/><rect x="75.0" y="75.0" width="5.0" height="5.0" fill="rgb(123,122,166)"/><rect x="80.0" y="75.0" width="5.0" height="5.0" fill="rgb(136,140,161)"/><rect x="90.0" y="75.0" width="5.0" height="5.0" fill="rgb(166,142,162)"/><rect x="95.0" y="75.0" width="5.0" height="5.0" fill="rgb(121,147,117)"/><rect x="0.0" y="80.0" width="5.0" height="5.0" fill="rgb(161,115,150)"/><rect x="5.0" y="80.0" width="5.0" height="5.0" fill="rgb(116,120,128)"/><rect x="10.0" y="80.0" width="5.0" height="5.0" fill="rgb(139,133,126)"/><rect x="20.0" y="80.0" width="5.0" height="5.0" fill="rgb(116,149,143)"/><rect x="35.0" y="80.0" width="5.0" height="5.0" fill="rgb(148,150,140)"/><rect x="45.0" y="80.0" width="5.0" height="5.0" fill="rgb(148,136,164)"/><rect x="50.0" y="80.0" width="5.0" height="5.0" fill="rgb(117,142,112)"/><rect x="55.0" y="80.0" width="5.0" height="5.0" fill="rgb(156,149,116)"/><rect x="60.0" y="80.0" width="5.0" height="5.0" fill="rgb(122,139,160)"/><rect x="65.0" y="80.0" width="5.0" height="5.0" fill="rgb(145,151,159)"/><rect x="70.0" y="80.0" width="5.0" height="5.0" fill="rgb(160,149,116)"/><rect x="75.0" y="80.0" width="5.0" height="5.0" fill="rgb(123,123,134)"/><rect x="85.0" y="80.0" width="5.0" height="5.0" fill="rgb(125,135,140)"/><rect x="90.0" y="80.0" width="5.0" height="5.0" fill="rgb(123,128,122)"/><rect x="95.0" y="80.0" width="5.0" height="5.0" fill="rgb(123,154,125)"/><rect x="10.0" y="85.0" width="5.0" height="5.0" fill="rgb(155,142,166)"/><rect x="15.0" y="85.0" width="5.0" height="5.0" fill="rgb(122,147,138)"/><rect x="20.0" y="85.0" width="5.0" height="5.0" fill="rgb(159,134,142)"/><rect x="35.0" y="85.0" width="5.0" height="5.0" fill="rgb(111,119,118)"/><rect x="40.0" y="85.0" width="5.0" height="5.0" fill="rgb(119,126,144)"/><rect x="45.0" y="85.0" width="5.0" height="5.0" fill="rgb(150,138,114)"/><rect x="50.0" y="85.0" width="5.0" height="5.0" fill="rgb(123,125,143)"/><rect x="55.0" y="85.0" width="5.0" height="5.0" fill="rgb(132,137,159)"/><rect x="60.0" y="85.0" width="5.0" height="5.0" fill="rgb(160,126,121)"/><rect x="65.0" y="85.0" width="5.0" height="5.0" fill="rgb(129,134,140)"/><rect x="70.0" y="85.0" width="5.0" height="5.0" fill="rgb(119,139,160)"/><rect x="80.0" y="85.0" width="5.0" height="5.0" fill="rgb(134,159,168)"/><rect x="85.0" y="85.0" width="5.0" height="5.0" fill="rgb(120,135,131)"/><rect x="95.0" y="85.0" width="5.0" height="5.0" fill="rgb(144,122,135)"/><rect x="5.0" y="90.0" width="5.0" height="5.0" fill="rgb(111,137,135)"/><rect x="20.0" y="90.0" width="5.0" height="5.0" fill="rgb(125,159,145)"/><rect x="25.0" y="90.0" width="5.0" height="5.0" fill="rgb(118,148,145)"/><rect x="30.0" y="90.0" width="5.0" height="5.0" fill="rgb(111,118,115)"/><rect x="35.0" y="90.0" width="5.0" height="5.0" fill="rgb(159,158,141)"/><rect x="40.0" y="90.0" width="5.0" height="5.0" fill="rgb(160,131,147)"/><rect x="45.0" y="90.0" width="5.0" height="5.0" fill="rgb(121,123,112)"/><rect x="50.0" y="90.0" width="5.0" height="5.0" fill="rgb(131,161,115)"/><rect x="55.0" y="90.0" width="5.0" height="5.0" fill="rgb(161,114,140)"/><rect x="60.0" y="90.0" width="5.0" height="5.0" fill="rgb(125,151,163)"/><rect x="65.0" y="90.0" width="5.0" height="5.0" fill="rgb(156,124,133)"/><rect x="70.0" y="90.0" width="5.0" height="5.0" fill="rgb(137,110,152)"/><rect x="80.0" y="90.0" width="5.0" height="5.0" fill="rgb(158,159,148)"/><rect x="85.0" y="90.0" width="5.0" height="5.0" fill="rgb(118,155,160)"/><rect x="95.0" y="90.0" width="5.0" height="5.0" fill="rgb(158,161,133)"/><rect x="0.0" y="95.0" width="5.0" height="5.0" fill="rgb(127,109,122)"/><rect x="5.0" y="95.0" width="5.0" height="5.0" fill="rgb(141,149,115)"/><rect x="20.0" y="95.0" width="5.0" height="5.0" fill="rgb(152,156,167)"/><rect x="30.0" y="95.0" width="5.0" height="5.0" fill="rgb(136,131,145)"/><rect x="35.0" y="95.0" width="5.0" height="5.0" fill="rgb(128,119,116)"/><rect x="40.0" y="95.0" width="5.0" height="5.0" fill="rgb(163,143,118)"/><rect x="45.0" y="95.0" width="5.0" height="5.0" fill="rgb(132,136,141)"/><rect x="50.0" y="95.0" width="5.0" height="5.0" fill="rgb(126,136,130)"/><rect x="60.0" y="95.0" width="5.0" height="5.0" fill="rgb(130,116,145)"/><rect x="65.0" y="95.0" width="5.0" height="5.0" fill="rgb(141,162,126)"/><rect x="80.0" y="95.0" width="5.0" height="5.0" fill="rgb(111,128,148)"/><rect x="85.0" y="95.0" width="5.0" height="5.0" fill="rgb(117,139,120)"/><rect x="90.0" y="95.0" width="5.0" height="5.0" fill="rgb(155,156,129)"/><rect x="95.0" y="95.0" width="5.0" height="5.0" fill="rgb(152,112,135)"/></pattern></defs><rect x="1707.5" y="1365.8" width="388.2" height="1430.4" rx="72" fill="#E7EDF8"/><rect x="2113.4" y="1365.5" width="1226.6" height="1430.7" rx="86" fill="#F3F3F3"/><path d="M1821,1563 C1821,1548 1826,1547 1836,1547 L1925,1547 C1933,1547 1936,1542 1938,1535 C1940,1542 1943,1547 1951,1547 L2041,1547 C2051,1547 2056,1548 2056,1563" fill="none" stroke="#4472C4" stroke-width="3.2"/><rect x="1821" y="1563.5" width="235.7" height="237" fill="#4a8ea4"/><rect x="1821.0" y="1563.5" width="4.1" height="237" fill="#70b096"/><rect x="1824.7" y="1563.5" width="3.2" height="237" fill="#70b096"/><rect x="1827.4" y="1563.5" width="5.2" height="237" fill="#70b096"/><rect x="1832.2" y="1563.5" width="4.2" height="237" fill="#8ab0c4"/><rect x="1836.0" y="1563.5" width="2.0" height="237" fill="#58aaa8"/><rect x="1837.6" y="1563.5" width="4.6" height="237" fill="#4a9a96"/><rect x="1841.8" y="1563.5" width="4.2" height="237" fill="#5a86b0"/><rect x="1845.6" y="1563.5" width="2.3" height="237" fill="#58aaa8"/><rect x="1847.5" y="1563.5" width="4.9" height="237" fill="#6aa0bc"/><rect x="1852.0" y="1563.5" width="3.8" height="237" fill="#4c74a0"/><rect x="1855.4" y="1563.5" width="2.8" height="237" fill="#70b096"/><rect x="1857.8" y="1563.5" width="2.7" height="237" fill="#78b8c8"/><rect x="1860.1" y="1563.5" width="2.5" height="237" fill="#6aa0bc"/><rect x="1862.2" y="1563.5" width="2.5" height="237" fill="#4f98ae"/><rect x="1864.3" y="1563.5" width="2.4" height="237" fill="#4c74a0"/><rect x="1866.3" y="1563.5" width="3.5" height="237" fill="#5a86b0"/><rect x="1869.3" y="1563.5" width="1.9" height="237" fill="#3f8aa0"/><rect x="1870.8" y="1563.5" width="2.6" height="237" fill="#4a9a96"/><rect x="1873.1" y="1563.5" width="5.3" height="237" fill="#5a86b0"/><rect x="1877.9" y="1563.5" width="5.0" height="237" fill="#78b8c8"/><rect x="1882.5" y="1563.5" width="3.0" height="237" fill="#4a9a96"/><rect x="1885.1" y="1563.5" width="3.8" height="237" fill="#54b0bc"/><rect x="1888.5" y="1563.5" width="4.1" height="237" fill="#5a86b0"/><rect x="1892.1" y="1563.5" width="5.2" height="237" fill="#70b096"/><rect x="1896.9" y="1563.5" width="2.6" height="237" fill="#6aa0bc"/><rect x="1899.1" y="1563.5" width="2.9" height="237" fill="#40809a"/><rect x="1901.7" y="1563.5" width="3.4" height="237" fill="#5a86b0"/><rect x="1904.6" y="1563.5" width="2.8" height="237" fill="#40809a"/><rect x="1907.0" y="1563.5" width="3.0" height="237" fill="#4c74a0"/><rect x="1909.6" y="1563.5" width="4.0" height="237" fill="#4c74a0"/><rect x="1913.2" y="1563.5" width="4.3" height="237" fill="#40809a"/><rect x="1917.0" y="1563.5" width="2.1" height="237" fill="#40809a"/><rect x="1918.8" y="1563.5" width="4.8" height="237" fill="#58aaa8"/><rect x="1923.1" y="1563.5" width="4.3" height="237" fill="#5a86b0"/><rect x="1927.1" y="1563.5" width="3.6" height="237" fill="#70b096"/><rect x="1930.2" y="1563.5" width="2.5" height="237" fill="#78b8c8"/><rect x="1932.4" y="1563.5" width="5.3" height="237" fill="#3f8aa0"/><rect x="1937.3" y="1563.5" width="5.2" height="237" fill="#40809a"/><rect x="1942.1" y="1563.5" width="4.9" height="237" fill="#3f8aa0"/><rect x="1946.6" y="1563.5" width="3.8" height="237" fill="#6aa0bc"/><rect x="1950.0" y="1563.5" width="3.2" height="237" fill="#4c74a0"/><rect x="1952.8" y="1563.5" width="4.8" height="237" fill="#58aaa8"/><rect x="1957.2" y="1563.5" width="2.1" height="237" fill="#5a86b0"/><rect x="1958.9" y="1563.5" width="4.1" height="237" fill="#4a9a96"/><rect x="1962.5" y="1563.5" width="2.3" height="237" fill="#4a9a96"/><rect x="1964.5" y="1563.5" width="5.2" height="237" fill="#58aaa8"/><rect x="1969.2" y="1563.5" width="3.1" height="237" fill="#40809a"/><rect x="1971.9" y="1563.5" width="5.0" height="237" fill="#78b8c8"/><rect x="1976.5" y="1563.5" width="4.6" height="237" fill="#4f98ae"/><rect x="1980.8" y="1563.5" width="4.0" height="237" fill="#40809a"/><rect x="1984.3" y="1563.5" width="4.9" height="237" fill="#3f8aa0"/><rect x="1988.8" y="1563.5" width="3.4" height="237" fill="#4f98ae"/><rect x="1991.8" y="1563.5" width="2.6" height="237" fill="#8ab0c4"/><rect x="1994.1" y="1563.5" width="4.0" height="237" fill="#5a86b0"/><rect x="1997.7" y="1563.5" width="3.1" height="237" fill="#70b096"/><rect x="2000.4" y="1563.5" width="3.8" height="237" fill="#78b8c8"/><rect x="2003.8" y="1563.5" width="4.3" height="237" fill="#78b8c8"/><rect x="2007.7" y="1563.5" width="2.5" height="237" fill="#4f98ae"/><rect x="2009.8" y="1563.5" width="4.1" height="237" fill="#70b096"/><rect x="2013.5" y="1563.5" width="4.3" height="237" fill="#58aaa8"/><rect x="2017.4" y="1563.5" width="2.5" height="237" fill="#3f8aa0"/><rect x="2019.5" y="1563.5" width="2.2" height="237" fill="#4c74a0"/><rect x="2021.3" y="1563.5" width="3.8" height="237" fill="#6aa0bc"/><rect x="2024.7" y="1563.5" width="2.0" height="237" fill="#70b096"/><rect x="2026.3" y="1563.5" width="4.0" height="237" fill="#78b8c8"/><rect x="2029.8" y="1563.5" width="3.5" height="237" fill="#6aa0bc"/><rect x="2032.9" y="1563.5" width="2.4" height="237" fill="#54b0bc"/><rect x="2035.0" y="1563.5" width="2.0" height="237" fill="#58aaa8"/><rect x="2036.6" y="1563.5" width="3.1" height="237" fill="#4a9a96"/><rect x="2039.2" y="1563.5" width="2.4" height="237" fill="#70b096"/><rect x="2041.2" y="1563.5" width="3.9" height="237" fill="#5a86b0"/><rect x="2044.7" y="1563.5" width="4.1" height="237" fill="#6aa0bc"/><rect x="2048.4" y="1563.5" width="2.3" height="237" fill="#6aa0bc"/><rect x="2050.2" y="1563.5" width="3.2" height="237" fill="#3f8aa0"/><rect x="2053.1" y="1563.5" width="4.0" height="237" fill="#78b8c8"/><rect x="1821" y="1563.5" width="235.7" height="237" fill="none" stroke="#555" stroke-width="3"/><line x1="1938.5" y1="1800.6" x2="1938.5" y2="1849.2" stroke="#4472C4" stroke-width="2.5"/><polygon points="1938.5,1862.0 1931.5,1846.0 1945.5,1846.0" fill="#4472C4"/><rect x="1821" y="1862.4" width="235.7" height="235.8" fill="#4AB2C6" stroke="#333" stroke-width="3"/><rect x="1884.2" y="1929.8" width="53.59999999999991" height="47.5" fill="#EE8A45" stroke="#000" stroke-width="3.5"/><circle cx="1913" cy="1950" r="4" fill="#000"/><line x1="1913" y1="1950" x2="1985" y2="1994" stroke="#000" stroke-width="3"/><path d="M1882,1930 C1875,1930 1876,1936 1876,1945 C1876,1951 1874,1953 1870,1954 C1874,1955 1876,1957 1876,1963 C1876,1972 1875,1977 1882,1977" fill="none" stroke="#000" stroke-width="2.5"/><circle cx="1867" cy="1907.1" r="19.5" fill="#000"/><text x="1867" y="1916.2" font-family="Liberation Sans" font-size="25.4" fill="#fff" text-anchor="middle">1</text><line x1="1938" y1="1930" x2="2118" y2="1700" stroke="#7F7F7F" stroke-width="6" stroke-dasharray="20 10"/><polygon points="2131.0,1683.0 2124.4,1710.9 2105.5,1696.0" fill="#7F7F7F"/><line x1="1938.5" y1="2098.2" x2="1938.5" y2="2149.2" stroke="#4472C4" stroke-width="2.5"/><polygon points="1938.5,2162.0 1931.5,2146.0 1945.5,2146.0" fill="#4472C4"/><circle cx="1989.3" cy="2130.5" r="19.5" fill="#000"/><text x="1989.3" y="2139.6" font-family="Liberation Sans" font-size="25.4" fill="#fff" text-anchor="middle">7</text><defs><radialGradient id="hg2" cx="0.5" cy="0.5" r="0.5"><stop offset="0" stop-color="#c896a8"/><stop offset="0.3" stop-color="#ccaaa0"/><stop offset="0.55" stop-color="#cfc690"/><stop offset="0.8" stop-color="#a8c4a8" stop-opacity="0.7"/><stop offset="1" stop-color="#4ab2c6" stop-opacity="0"/></radialGradient></defs><rect x="1819.5" y="2163.7" width="236.5" height="235.8" fill="#4ab2c6"/><ellipse cx="1925.925" cy="2248.5879999999997" rx="106.425" ry="70.74" fill="url(#hg2)"/><rect x="1819.5" y="2163.7" width="236.5" height="235.8" fill="none" stroke="#333" stroke-width="3"/><rect x="1884.2" y="2231" width="48.09999999999991" height="47.5" fill="#EE8A45" stroke="#000" stroke-width="3.5"/><rect x="1941.9" y="2275.8" width="47.399999999999864" height="48.09999999999991" fill="#EE8A45" stroke="#000" stroke-width="3.5"/><line x1="1937.8" y1="2399.5" x2="1937.8" y2="2453.2" stroke="#4472C4" stroke-width="2.5"/><polygon points="1937.8,2466.0 1930.8,2450.0 1944.8,2450.0" fill="#4472C4"/><circle cx="1984.5" cy="2431.8" r="19.5" fill="#000"/><text x="1984.5" y="2440.9" font-family="Liberation Sans" font-size="25.4" fill="#fff" text-anchor="middle">8</text><defs><radialGradient id="hg3" cx="0.5" cy="0.5" r="0.5"><stop offset="0" stop-color="#c896a8"/><stop offset="0.3" stop-color="#ccaaa0"/><stop offset="0.55" stop-color="#cfc690"/><stop offset="0.8" stop-color="#a8c4a8" stop-opacity="0.7"/><stop offset="1" stop-color="#4ab2c6" stop-opacity="0"/></radialGradient></defs><rect x="1819.5" y="2466.2" width="236.5" height="235.8" fill="#4ab2c6"/><ellipse cx="1925.925" cy="2551.0879999999997" rx="106.425" ry="70.74" fill="url(#hg3)"/><rect x="1819.5" y="2466.2" width="236.5" height="235.8" fill="none" stroke="#333" stroke-width="3"/><rect x="1884.2" y="2532.9" width="48.09999999999991" height="48.09999999999991" fill="#EE8A45" stroke="#000" stroke-width="3.5"/><rect x="1944.7" y="2579" width="48.799999999999955" height="46.69999999999982" fill="#EE8A45" stroke="#000" stroke-width="3.5"/><rect x="1901.4" y="2634.6" width="29.59999999999991" height="28.200000000000273" fill="#EE8A45" stroke="#000" stroke-width="3"/><circle cx="1943.3" cy="2751" r="3.3" fill="#000"/><circle cx="1943.3" cy="2767" r="3.3" fill="#000"/><circle cx="1943.3" cy="2783" r="3.3" fill="#000"/><circle cx="2194.2" cy="2751" r="3.3" fill="#000"/><circle cx="2194.2" cy="2767" r="3.3" fill="#000"/><circle cx="2194.2" cy="2783" r="3.3" fill="#000"/><rect x="2343.4" y="1489.9" width="907.3" height="231.6" fill="#C9C9C9"/><rect x="2364" y="1563.4" width="96.3" height="96.3" fill="url(#noiz)"/><rect x="2364" y="1563.4" width="96.3" height="96.3" fill="none" stroke="#111" stroke-width="3.5"/><rect x="2502.8" y="1563.4" width="96.3" height="96.3" fill="url(#noiz)"/><rect x="2502.8" y="1563.4" width="96.3" height="96.3" fill="none" stroke="#111" stroke-width="3.5"/><rect x="2641" y="1563.4" width="96.3" height="96.3" fill="url(#noiz)"/><rect x="2641" y="1563.4" width="96.3" height="96.3" fill="none" stroke="#111" stroke-width="3.5"/><rect x="2778.5" y="1563.4" width="96.3" height="96.3" fill="url(#noiz)"/><rect x="2778.5" y="1563.4" width="96.3" height="96.3" fill="none" stroke="#111" stroke-width="3.5"/><rect x="2916" y="1563.4" width="96.3" height="96.3" fill="url(#noiz)"/><rect x="2916" y="1563.4" width="96.3" height="96.3" fill="none" stroke="#111" stroke-width="3.5"/><rect x="3121.5" y="1563.4" width="96.3" height="96.3" fill="url(#noiz)"/><rect x="3121.5" y="1563.4" width="96.3" height="96.3" fill="none" stroke="#111" stroke-width="3.5"/><circle cx="3060" cy="1611" r="2.8" fill="#000"/><circle cx="3072" cy="1611" r="2.8" fill="#000"/><circle cx="3084" cy="1611" r="2.8" fill="#000"/><rect x="2128.2" y="1563.4" width="98.0" height="96.29999999999995" fill="#EE8A45" stroke="#000" stroke-width="4"/><rect x="2275" y="1606" width="30" height="3.5" fill="#000"/><rect x="2288.2" y="1592.5" width="3.5" height="30" fill="#000"/><polyline points="3250.7,1605 3312.6,1605 3312.6,2603.7 2870,2603.7" fill="none" stroke="#000" stroke-width="3"/><polygon points="2855.0,2603.7 2873.0,2595.7 2873.0,2611.7" fill="#000"/><line x1="2188.7" y1="1752.5" x2="2188.7" y2="2540" stroke="#000" stroke-width="3"/><polygon points="2188.7,2555.6 2180.7,2537.6 2196.7,2537.6" fill="#000"/><path d="M2228,1660 C2320,1680 2370,1720 2398,1770" fill="none" stroke="#1F3864" stroke-width="3"/><polygon points="2406.0,1782.0 2391.2,1769.3 2404.7,1762.5" fill="#1F3864"/><path d="M2457,1677 C2458,1720 2450,1755 2432,1770" fill="none" stroke="#1F3864" stroke-width="3"/><polygon points="2424.0,1782.0 2428.2,1763.0 2440.5,1771.6" fill="#1F3864"/><circle cx="2475.4" cy="1791.6" r="19.5" fill="#000"/><text x="2475.4" y="1800.7" font-family="Liberation Sans" font-size="25.4" fill="#fff" text-anchor="middle">2</text><line x1="2329.6" y1="1783.6" x2="2329.6" y2="1982.7" stroke="#4472C4" stroke-width="3"/><polygon points="2329.6,1769.6 2336.1,1787.6 2323.1,1787.6" fill="#4472C4"/><line x1="2329.6" y1="1874.8" x2="3278" y2="1874.8" stroke="#4472C4" stroke-width="3"/><polygon points="3292.0,1874.8 3272.0,1882.3 3272.0,1867.3" fill="#4472C4"/><rect x="2394.9" y="1807.5" width="43.3" height="67.3" fill="#4472C4"/><rect x="2531" y="1852.1" width="43.3" height="22.7" fill="#4472C4"/><rect x="2669.9" y="1874.8" width="43.3" height="8.2" fill="#C00000"/><rect x="2804" y="1874.8" width="43.3" height="20.6" fill="#C00000"/><rect x="2949.7" y="1874.8" width="43.3" height="12.4" fill="#C00000"/><rect x="3156.6" y="1874.8" width="43.3" height="17.2" fill="#C00000"/><line x1="2329.6" y1="2014" x2="2329.6" y2="2232.5" stroke="#4472C4" stroke-width="3"/><polygon points="2329.6,2000.0 2336.1,2018.0 2323.1,2018.0" fill="#4472C4"/><line x1="2331" y1="2052.9" x2="3275" y2="2052.9" stroke="#4472C4" stroke-width="3" stroke-dasharray="13 8"/><line x1="2331" y1="2192.6" x2="3275" y2="2192.6" stroke="#4472C4" stroke-width="3" stroke-dasharray="13 8"/><line x1="2329.6" y1="2122.3" x2="3278" y2="2122.3" stroke="#4472C4" stroke-width="3"/><polygon points="3292.0,2122.3 3272.0,2129.8 3272.0,2114.8" fill="#4472C4"/><rect x="2394.9" y="2052.9" width="43.3" height="69.4" fill="#4472C4"/><rect x="2531" y="2099.6000000000004" width="43.3" height="22.7" fill="#4472C4"/><rect x="2669.9" y="2122.3" width="43.3" height="30.9" fill="#C00000"/><rect x="2804" y="2122.3" width="43.3" height="70.1" fill="#C00000"/><rect x="2949.7" y="2122.3" width="43.3" height="37.7" fill="#C00000"/><rect x="3156.6" y="2122.3" width="43.3" height="55" fill="#C00000"/><line x1="2331.7" y1="2267" x2="2331.7" y2="2486.8" stroke="#4472C4" stroke-width="3"/><polygon points="2331.7,2253.0 2338.2,2271.0 2325.2,2271.0" fill="#4472C4"/><line x1="2331" y1="2306.7" x2="3275" y2="2306.7" stroke="#4472C4" stroke-width="3" stroke-dasharray="13 8"/><line x1="2331" y1="2449" x2="3275" y2="2449" stroke="#4472C4" stroke-width="3" stroke-dasharray="13 8"/><line x1="2331.7" y1="2376.9" x2="3278" y2="2376.9" stroke="#4472C4" stroke-width="3"/><polygon points="3292.0,2376.9 3272.0,2384.4 3272.0,2369.4" fill="#4472C4"/><rect x="2394.9" y="2316.4" width="43.3" height="60.5" fill="#4472C4"/><rect x="2531" y="2356.2000000000003" width="43.3" height="20.7" fill="#4472C4"/><rect x="2669.9" y="2376.9" width="43.3" height="15.8" fill="#C00000"/><rect x="2804" y="2376.9" width="43.3" height="35.7" fill="#C00000"/><rect x="2949.7" y="2376.9" width="43.3" height="19.1" fill="#C00000"/><rect x="3156.6" y="2376.9" width="43.3" height="28.8" fill="#C00000"/><circle cx="3063" cy="1859" r="2.8" fill="#000"/><circle cx="3075.5" cy="1859" r="2.8" fill="#000"/><circle cx="3088" cy="1859" r="2.8" fill="#000"/><circle cx="3063" cy="2106.5" r="2.8" fill="#000"/><circle cx="3075.5" cy="2106.5" r="2.8" fill="#000"/><circle cx="3088" cy="2106.5" r="2.8" fill="#000"/><circle cx="3063" cy="2359.7" r="2.8" fill="#000"/><circle cx="3075.5" cy="2359.7" r="2.8" fill="#000"/><circle cx="3088" cy="2359.7" r="2.8" fill="#000"/><rect x="2800.3" y="1951.8" width="21" height="35.299999999999955" fill="#000"/><polygon points="2781.8,1987.1 2839.8,1987.1 2810.8,2017.1" fill="#000"/><rect x="2800.3" y="2215.3" width="21" height="37.399999999999636" fill="#000"/><polygon points="2781.8,2252.7 2839.8,2252.7 2810.8,2282.7" fill="#000"/><rect x="2797.5" y="2467.6" width="21" height="37.40000000000009" fill="#000"/><polygon points="2779,2505 2837,2505 2808,2535" fill="#000"/><circle cx="2900.2" cy="1980.7" r="19.5" fill="#000"/><text x="2900.2" y="1989.8" font-family="Liberation Sans" font-size="25.4" fill="#fff" text-anchor="middle">3</text><circle cx="2900.2" cy="2248.3" r="19.5" fill="#000"/><text x="2900.2" y="2257.4" font-family="Liberation Sans" font-size="25.4" fill="#fff" text-anchor="middle">4</text><circle cx="2904.3" cy="2567.3" r="19.5" fill="#000"/><text x="2904.3" y="2576.4" font-family="Liberation Sans" font-size="25.4" fill="#fff" text-anchor="middle">5</text><circle cx="2275.3" cy="2565.9" r="19.5" fill="#000"/><text x="2275.3" y="2575.0" font-family="Liberation Sans" font-size="25.4" fill="#fff" text-anchor="middle">6</text><rect x="2757.2" y="2555.6" width="96.9" height="96.9" fill="url(#noiz)"/><rect x="2757.2" y="2555.6" width="96.9" height="96.9" fill="none" stroke="#111" stroke-width="3.5"/><rect x="2139.2" y="2555.6" width="97.60000000000036" height="97.59999999999991" fill="#EE8A45" stroke="#000" stroke-width="3.5"/><line x1="2757.2" y1="2603.7" x2="2254" y2="2603.7" stroke="#000" stroke-width="3"/><polygon points="2238.5,2603.7 2256.5,2595.7 2256.5,2611.7" fill="#000"/></svg>
<div class="t" id="t61" style="left:1776.1px;top:1379.7px;font-size:50.46px;line-height:50.46px;font-family:'Liberation Serif', serif;color:#000;transform:scaleX(0.9370)">Probabilistic</div>
<div class="t" id="t62" style="left:1739.7px;top:1434.3px;font-size:50.46px;line-height:50.46px;font-family:'Liberation Serif', serif;color:#000;transform:scaleX(0.9392)">Square Sampling</div>
<div class="t" id="t63" style="left:1929.0px;top:1480.9px;font-size:60.00px;line-height:60.00px;font-family:'Liberation Serif', serif;color:#000;font-style:italic">h</div>
<div class="t" id="t64" style="left:2311.0px;top:1399.6px;font-size:50.77px;line-height:50.77px;font-family:'Liberation Serif', serif;color:#000;transform:scaleX(0.9391)">Score-based Square-area Gradient Estimation</div>
<div class="t" id="t65" style="left:2671.0px;top:1499.4px;font-size:44.00px;line-height:44.00px;font-family:'Liberation Serif', serif;color:#000;transform:scaleX(1.0448)"><b>&delta;</b><sub style="font-style:italic">i</sub> &isin; {&minus;&#1013;, &#1013;}<sup style="font-style:italic">3&times;e&times;e</sup></div>
<div class="t" id="t66" style="left:2393.3px;top:1669.6px;font-size:46.00px;line-height:46.00px;font-family:'Liberation Serif', serif;color:#000"><b><i>&delta;</i></b><sub style="font-style:italic">1</sub></div>
<div class="t" id="t67" style="left:2532.1px;top:1669.6px;font-size:46.00px;line-height:46.00px;font-family:'Liberation Serif', serif;color:#000"><b><i>&delta;</i></b><sub style="font-style:italic">2</sub></div>
<div class="t" id="t68" style="left:2670.3px;top:1669.6px;font-size:46.00px;line-height:46.00px;font-family:'Liberation Serif', serif;color:#000"><b><i>&delta;</i></b><sub style="font-style:italic">3</sub></div>
<div class="t" id="t69" style="left:2807.8px;top:1669.6px;font-size:46.00px;line-height:46.00px;font-family:'Liberation Serif', serif;color:#000"><b><i>&delta;</i></b><sub style="font-style:italic">4</sub></div>
<div class="t" id="t70" style="left:2945.3px;top:1669.6px;font-size:46.00px;line-height:46.00px;font-family:'Liberation Serif', serif;color:#000"><b><i>&delta;</i></b><sub style="font-style:italic">5</sub></div>
<div class="t" id="t71" style="left:3150.8px;top:1669.6px;font-size:46.00px;line-height:46.00px;font-family:'Liberation Serif', serif;color:#000"><b><i>&delta;</i></b><sub style="font-style:italic">b</sub></div>
<div class="t" id="t72" style="left:1728.0px;top:1642.5px;font-size:62.00px;line-height:62.00px;font-family:'Liberation Serif', serif;color:#000"><b><i>p</i></b><sup style="font-style:italic;font-size:0.7em;top:-0.36em">(0)</sup></div>
<div class="t" id="t73" style="left:1728.0px;top:1958.5px;font-size:62.00px;line-height:62.00px;font-family:'Liberation Serif', serif;color:#000"><b><i>p</i></b><sup style="font-style:italic;font-size:0.7em;top:-0.36em">(1)</sup></div>
<div class="t" id="t74" style="left:1728.0px;top:2263.5px;font-size:62.00px;line-height:62.00px;font-family:'Liberation Serif', serif;color:#000"><b><i>p</i></b><sup style="font-style:italic;font-size:0.7em;top:-0.36em">(2)</sup></div>
<div class="t" id="t75" style="left:1728.0px;top:2555.5px;font-size:62.00px;line-height:62.00px;font-family:'Liberation Serif', serif;color:#000"><b><i>p</i></b><sup style="font-style:italic;font-size:0.7em;top:-0.36em">(3)</sup></div>
<div class="t" id="t76" style="left:2147.5px;top:1666.5px;font-size:62.00px;line-height:62.00px;font-family:'Liberation Serif', serif;color:#000"><b><i>s</i></b><sub style="font-style:italic;font-size:0.7em">1</sub><sup style="font-style:italic;font-size:0.7em;top:-0.42em">(0)</sup></div>
<div class="t" id="t77" style="left:2157.8px;top:2669.1px;font-size:62.00px;line-height:62.00px;font-family:'Liberation Serif', serif;color:#000"><b><i>s</i></b><sub style="font-style:italic;font-size:0.7em">1</sub><sup style="font-style:italic;font-size:0.7em;top:-0.42em">(1)</sup></div>
<div class="t" id="t78" style="left:2791.4px;top:2663.9px;font-size:64.00px;line-height:64.00px;font-family:'Liberation Serif', serif;color:#000"><b><i>g</i></b></div>
<div class="t" id="t79" style="left:1847.0px;top:1925.5px;font-size:44.00px;line-height:44.00px;font-family:'Liberation Serif', serif;color:#000"><i>e</i></div>
<div class="t" id="t80" style="left:1898.6px;top:1968.5px;font-size:50.00px;line-height:50.00px;font-family:'Liberation Serif', serif;color:#000"><b><i>s</i></b><sub style="font-style:italic">1</sub></div>
<div class="t" id="t81" style="left:1987.3px;top:1954.8px;font-size:46.00px;line-height:46.00px;font-family:'Liberation Serif', serif;color:#000">(<b><i>z</i></b><sub style="font-style:italic">c</sub> ,<b><i>z</i></b><sub style="font-style:italic">r</sub>)</div>
<div class="t" id="t82" style="left:1886.0px;top:2270.5px;font-size:50.00px;line-height:50.00px;font-family:'Liberation Serif', serif;color:#000"><b><i>s</i></b><sub style="font-style:italic">1</sub></div>
<div class="t" id="t83" style="left:1950.0px;top:2315.5px;font-size:50.00px;line-height:50.00px;font-family:'Liberation Serif', serif;color:#000"><b><i>s</i></b><sub style="font-style:italic">2</sub></div>
<div class="t" id="t84" style="left:1895.0px;top:2573.5px;font-size:50.00px;line-height:50.00px;font-family:'Liberation Serif', serif;color:#000"><b><i>s</i></b><sub style="font-style:italic">1</sub></div>
<div class="t" id="t85" style="left:1957.0px;top:2620.5px;font-size:50.00px;line-height:50.00px;font-family:'Liberation Serif', serif;color:#000"><b><i>s</i></b><sub style="font-style:italic">2</sub></div>
<div class="t" id="t86" style="left:1875.0px;top:2646.5px;font-size:50.00px;line-height:50.00px;font-family:'Liberation Serif', serif;color:#000"><b><i>s</i></b><sub style="font-style:italic">3</sub></div>
<div class="t" id="t87" style="left:2264.3px;top:1758.8px;font-size:46.00px;line-height:46.00px;font-family:'Liberation Serif', serif;color:#000">&Delta;</div>
<div class="t" id="t88" style="left:2264.3px;top:1983.8px;font-size:46.00px;line-height:46.00px;font-family:'Liberation Serif', serif;color:#000">&Delta;</div>
<div class="t" id="t89" style="left:2264.3px;top:2235.8px;font-size:46.00px;line-height:46.00px;font-family:'Liberation Serif', serif;color:#000">&Delta;</div>
<div class="t" id="t90" style="left:2302.0px;top:1856.5px;font-size:38.00px;line-height:38.00px;font-family:'Liberation Serif', serif;color:#000;font-weight:bold">0</div>
<div class="t" id="t91" style="left:2302.0px;top:2033.5px;font-size:38.00px;line-height:38.00px;font-family:'Liberation Serif', serif;color:#000;font-weight:bold">1</div>
<div class="t" id="t92" style="left:2302.0px;top:2105.9px;font-size:38.00px;line-height:38.00px;font-family:'Liberation Serif', serif;color:#000;font-weight:bold">0</div>
<div class="t" id="t93" style="left:2290.0px;top:2173.5px;font-size:38.00px;line-height:38.00px;font-family:'Liberation Serif', serif;color:#000;font-weight:bold">-1</div>
<div class="t" id="t94" style="left:2302.0px;top:2289.0px;font-size:38.00px;line-height:38.00px;font-family:'Liberation Serif', serif;color:#000;font-weight:bold">1</div>
<div class="t" id="t95" style="left:2302.0px;top:2359.1px;font-size:38.00px;line-height:38.00px;font-family:'Liberation Serif', serif;color:#000;font-weight:bold">0</div>
<div class="t" id="t96" style="left:2290.0px;top:2431.3px;font-size:38.00px;line-height:38.00px;font-family:'Liberation Serif', serif;color:#000;font-weight:bold">-1</div>
<div class="t" id="t97" style="left:2934.6px;top:1954.7px;font-size:46.15px;line-height:46.15px;font-family:'Liberation Serif', serif;color:#000;transform:scaleX(0.8828)">Score Normalization</div>
<div class="t" id="t98" style="left:2934.6px;top:2221.7px;font-size:46.15px;line-height:46.15px;font-family:'Liberation Serif', serif;color:#000;transform:scaleX(0.8832)">Adaptive Scaling</div>
<div class="t" id="t99" style="left:2939.4px;top:2541.3px;font-size:46.15px;line-height:46.15px;font-family:'Liberation Serif', serif;color:#000;transform:scaleX(0.8818)">Weighted Average</div>
<div class="t" id="t100" style="left:3403.0px;top:692.9px;font-size:55.07px;line-height:55.07px;font-family:'Liberation Sans', sans-serif;color:#8B6C3E;font-weight:bold;transform:scaleX(1.0207)">Attack Performance</div>
<div class="t" id="t101" style="left:3557.6px;top:753.5px;font-size:36.00px;line-height:36.00px;font-family:'Liberation Serif', serif;color:#000">Benign</div>
<div class="t" id="t102" style="left:3855.3px;top:753.5px;font-size:36.00px;line-height:36.00px;font-family:'Liberation Serif', serif;color:#000">BadPart (ours)</div>
<div class="t" id="t103" style="left:3395.4px;top:1288.7px;font-size:52.17px;line-height:52.17px;font-family:'Liberation Sans', sans-serif;color:#8B6C3E;font-weight:bold;transform:scaleX(1.0619)">Baseline Methods</div>
<div class="t" id="t104" style="left:3645.9px;top:1342.3px;font-size:37.00px;line-height:37.00px;font-family:'Liberation Serif', serif;color:#000">Patch-RS</div>
<div class="t" id="t105" style="left:4022.4px;top:1342.3px;font-size:37.00px;line-height:37.00px;font-family:'Liberation Serif', serif;color:#000">HardBeat</div>
<div class="t" id="t106" style="left:4383.7px;top:1342.3px;font-size:37.00px;line-height:37.00px;font-family:'Liberation Serif', serif;color:#000">GenAttack</div>
<div class="t" id="t107" style="left:3393.7px;top:1914.9px;font-size:56.52px;line-height:56.52px;font-family:'Liberation Sans', sans-serif;color:#8B6C3E;font-weight:bold;transform:scaleX(0.9865)">Attack Efficiency</div>
<div class="t" id="t108" style="left:3403.0px;top:2423.7px;font-size:57.97px;line-height:57.97px;font-family:'Liberation Sans', sans-serif;color:#8B6C3E;font-weight:bold;transform:scaleX(0.9534)">Attack Online Service</div>
<div class="t" id="t109" style="left:3986.5px;top:2436.0px;font-size:43.48px;line-height:43.48px;font-family:'Liberation Sans', sans-serif;color:#8B6C3E;font-style:italic;transform:scaleX(0.9452)">(Portrait Depth Estimation API)</div>
<div class="t" id="t110" style="left:3653.0px;top:2481.3px;font-size:37.00px;line-height:37.00px;font-family:'Liberation Serif', serif;color:#000">Benign</div>
<div class="t" id="t111" style="left:4092.2px;top:2486.0px;font-size:37.00px;line-height:37.00px;font-family:'Liberation Serif', serif;color:#000">Adversarial</div>
<div class="t" id="t112" style="left:4459.2px;top:2486.0px;font-size:37.00px;line-height:37.00px;font-family:'Liberation Serif', serif;color:#000">Difference</div>
<svg class="a" style="left:3360px;top:700px" width="1423" height="2170" viewBox="3360 700 1423 2170" ><svg x="3438.6" y="801.1" width="346.1" height="108.3" viewBox="0 0 100 100" preserveAspectRatio="none"><defs><linearGradient id="g11" x1="0" y1="0" x2="0" y2="1"><stop offset="0" stop-color="#6cc0ee"/><stop offset="1" stop-color="#a8dcf4"/></linearGradient>
<linearGradient id="g12" x1="0" y1="0" x2="1" y2="0"><stop offset="0" stop-color="#3a3a3c"/><stop offset="0.3" stop-color="#5e5e60"/><stop offset="0.65" stop-color="#6a6a6c"/><stop offset="1" stop-color="#48484a"/></linearGradient></defs>
<rect width="100" height="100" fill="url(#g12)"/>
<rect width="62" height="45" fill="url(#g11)"/>
<rect x="0" y="0" width="6" height="58" fill="#e6e6ea"/><rect x="0" y="8" width="6" height="3" fill="#444"/><rect x="0" y="18" width="6" height="3" fill="#444"/><rect x="0" y="28" width="6" height="3" fill="#444"/><rect x="0" y="38" width="6" height="3" fill="#444"/>
<rect x="5.5" y="0" width="6.5" height="37" fill="#4a5a84"/>
<rect x="5.5" y="36" width="9" height="22" fill="#e4e4e8"/>
<rect x="0" y="48" width="14" height="8" fill="#8a3a30"/>
<rect x="18" y="13" width="19" height="34" fill="#e6e6e8"/><rect x="18" y="20" width="19" height="3" fill="#5a5a5a"/><rect x="18" y="29" width="19" height="3" fill="#5a5a5a"/><rect x="18" y="38" width="19" height="3" fill="#5a5a5a"/>
<path d="M32,12 L36,4 L45,8 L45,48 L32,48 Z" fill="#c8a494"/>
<path d="M32,12 L36,4 L45,8 L45,14 L32,16 Z" fill="#3a3030"/>
<rect x="45" y="22" width="10" height="26" fill="#c8b0a0"/>
<ellipse cx="14" cy="24" rx="5.5" ry="21" fill="#6e7234"/>
<ellipse cx="27.5" cy="33" rx="2.5" ry="14" fill="#3e5224"/><ellipse cx="36" cy="35" rx="2.2" ry="11" fill="#4a5a28"/><ellipse cx="41" cy="33" rx="2.5" ry="13" fill="#4a5a28"/>
<rect x="12" y="43" width="44" height="14" fill="#4a4542"/>
<rect x="28" y="43" width="7" height="3.5" fill="#e0c040"/>
<rect x="20" y="50" width="8" height="6" fill="#d8d8dc"/>
<rect x="61" y="0" width="21" height="58" fill="#48484e"/>
<rect x="64" y="8" width="2.2" height="45" fill="#c8c8d0"/><rect x="69.5" y="12" width="2.2" height="40" fill="#c0c0c8"/><rect x="76" y="15" width="2.5" height="36" fill="#c8c8d0"/>
<rect x="82" y="0" width="18" height="74" fill="#cfcfd3"/>
<rect x="85" y="3" width="13" height="36" fill="#bcbcc2"/><rect x="86.5" y="6" width="10" height="30" fill="#5a5a62"/>
<rect x="82" y="58" width="18" height="20" fill="#5a5a5e"/>
<path d="M0,62 L25,58 L22,100 L0,100 Z" fill="#3c3c3e"/>
<path d="M66,58 L100,72 L100,100 L86,100 Z" fill="#4a4a4c"/>
<rect x="37.5" y="80" width="2" height="17" fill="#eee" transform="rotate(25 38.5 88)"/>
<rect x="42.5" y="69" width="1.3" height="7" fill="#ddd" transform="rotate(25 43 72)"/>
<path d="M28,60 Q30,53 34,53 L37,53 Q38.5,58 38.5,62 L38.5,73 L28,74 Z" fill="#982828"/>
<rect x="46.5" y="50" width="6" height="18" rx="1" fill="#34343a"/>
<rect x="54" y="50" width="4" height="15" rx="1" fill="#b8b8bc"/>
<path d="M57,56 Q58,52 62,52 L65,53 L66,76 L57,75 Z" fill="#c4c4c8"/>
<path d="M63,72 Q64,60 70,56 L84,55 Q90,60 92,78 L92,98 L66,100 Z" fill="#b04430"/>
<rect x="70" y="58" width="13" height="9" fill="#5a2a22"/>
<rect x="73" y="80" width="9" height="5" fill="#f0c8b0"/></svg><svg x="3788.8" y="801.1" width="346.1" height="108.3" viewBox="0 0 100 100" preserveAspectRatio="none"><defs><linearGradient id="g13" x1="0" y1="0" x2="0" y2="1"><stop offset="0" stop-color="#6cc0ee"/><stop offset="1" stop-color="#a8dcf4"/></linearGradient>
<linearGradient id="g14" x1="0" y1="0" x2="1" y2="0"><stop offset="0" stop-color="#3a3a3c"/><stop offset="0.3" stop-color="#5e5e60"/><stop offset="0.65" stop-color="#6a6a6c"/><stop offset="1" stop-color="#48484a"/></linearGradient></defs>
<rect width="100" height="100" fill="url(#g14)"/>
<rect width="62" height="45" fill="url(#g13)"/>
<rect x="0" y="0" width="6" height="58" fill="#e6e6ea"/><rect x="0" y="8" width="6" height="3" fill="#444"/><rect x="0" y="18" width="6" height="3" fill="#444"/><rect x="0" y="28" width="6" height="3" fill="#444"/><rect x="0" y="38" width="6" height="3" fill="#444"/>
<rect x="5.5" y="0" width="6.5" height="37" fill="#4a5a84"/>
<rect x="5.5" y="36" width="9" height="22" fill="#e4e4e8"/>
<rect x="0" y="48" width="14" height="8" fill="#8a3a30"/>
<rect x="18" y="13" width="19" height="34" fill="#e6e6e8"/><rect x="18" y="20" width="19" height="3" fill="#5a5a5a"/><rect x="18" y="29" width="19" height="3" fill="#5a5a5a"/><rect x="18" y="38" width="19" height="3" fill="#5a5a5a"/>
<path d="M32,12 L36,4 L45,8 L45,48 L32,48 Z" fill="#c8a494"/>
<path d="M32,12 L36,4 L45,8 L45,14 L32,16 Z" fill="#3a3030"/>
<rect x="45" y="22" width="10" height="26" fill="#c8b0a0"/>
<ellipse cx="14" cy="24" rx="5.5" ry="21" fill="#6e7234"/>
<ellipse cx="27.5" cy="33" rx="2.5" ry="14" fill="#3e5224"/><ellipse cx="36" cy="35" rx="2.2" ry="11" fill="#4a5a28"/><ellipse cx="41" cy="33" rx="2.5" ry="13" fill="#4a5a28"/>
<rect x="12" y="43" width="44" height="14" fill="#4a4542"/>
<rect x="28" y="43" width="7" height="3.5" fill="#e0c040"/>
<rect x="20" y="50" width="8" height="6" fill="#d8d8dc"/>
<rect x="61" y="0" width="21" height="58" fill="#48484e"/>
<rect x="64" y="8" width="2.2" height="45" fill="#c8c8d0"/><rect x="69.5" y="12" width="2.2" height="40" fill="#c0c0c8"/><rect x="76" y="15" width="2.5" height="36" fill="#c8c8d0"/>
<rect x="82" y="0" width="18" height="74" fill="#cfcfd3"/>
<rect x="85" y="3" width="13" height="36" fill="#bcbcc2"/><rect x="86.5" y="6" width="10" height="30" fill="#5a5a62"/>
<rect x="82" y="58" width="18" height="20" fill="#5a5a5e"/>
<path d="M0,62 L25,58 L22,100 L0,100 Z" fill="#3c3c3e"/>
<path d="M66,58 L100,72 L100,100 L86,100 Z" fill="#4a4a4c"/>
<rect x="37.5" y="80" width="2" height="17" fill="#eee" transform="rotate(25 38.5 88)"/>
<rect x="42.5" y="69" width="1.3" height="7" fill="#ddd" transform="rotate(25 43 72)"/>
<path d="M28,60 Q30,53 34,53 L37,53 Q38.5,58 38.5,62 L38.5,73 L28,74 Z" fill="#982828"/>
<rect x="46.5" y="50" width="6" height="18" rx="1" fill="#34343a"/>
<rect x="54" y="50" width="4" height="15" rx="1" fill="#b8b8bc"/>
<path d="M57,56 Q58,52 62,52 L65,53 L66,76 L57,75 Z" fill="#c4c4c8"/>
<path d="M63,72 Q64,60 70,56 L84,55 Q90,60 92,78 L92,98 L66,100 Z" fill="#b04430"/>
<rect x="70" y="58" width="13" height="9" fill="#5a2a22"/>
<rect x="73" y="80" width="9" height="5" fill="#f0c8b0"/><rect x="45.5" y="62" width="8" height="27" fill="#9a9a8a"/><rect x="45.5" y="62" width="8" height="13.5" fill="#8a9a7a" opacity="0.7"/><rect x="48.166666666666664" y="62" width="2.6666666666666665" height="27" fill="#a090a8" opacity="0.6"/></svg><svg x="3438.6" y="914.1" width="346.1" height="107.7" viewBox="0 0 100 100" preserveAspectRatio="none"><defs><linearGradient id="g15" x1="0" y1="0" x2="1" y2="0"><stop offset="0" stop-color="#360e66"/><stop offset="0.25" stop-color="#220a48"/><stop offset="0.48" stop-color="#14061f"/><stop offset="0.6" stop-color="#4a1280"/><stop offset="0.7" stop-color="#8a2488"/><stop offset="0.8" stop-color="#d84a7a"/><stop offset="0.9" stop-color="#f4745e"/><stop offset="1" stop-color="#f8946a"/></linearGradient>
<linearGradient id="g16" x1="0" y1="0" x2="0" y2="1"><stop offset="0" stop-color="#3a1070" stop-opacity="0"/><stop offset="0.42" stop-color="#3a1070" stop-opacity="0.35"/><stop offset="0.58" stop-color="#5a1890" stop-opacity="0.95"/><stop offset="0.74" stop-color="#b8387e" stop-opacity="1"/><stop offset="0.88" stop-color="#f06a5e" stop-opacity="1"/><stop offset="1" stop-color="#f8945e" stop-opacity="1"/></linearGradient></defs>
<rect width="100" height="100" fill="url(#g15)"/>
<rect width="100" height="100" fill="url(#g16)"/>
<path d="M28,70 Q28,52 33,52 L38,52 Q40,55 40,70 Z" fill="#b03c84"/>
<path d="M46,68 Q46,50 50,50 L55,50 Q57,53 57,68 Z" fill="#a83686"/>
<path d="M57,70 Q57,52 62,52 L67,52 Q70,56 70,72 Z" fill="#d45a88"/>
<path d="M63,80 Q63,55 72,52 L84,52 Q91,58 93,80 L93,98 L68,98 Z" fill="#f8c890"/>
<path d="M70,70 Q72,58 78,56 L86,56 Q92,64 92,80 L92,98 L72,98 Z" fill="#fbeaa8"/></svg><svg x="3788.8" y="914.1" width="346.1" height="107.7" viewBox="0 0 100 100" preserveAspectRatio="none"><defs><linearGradient id="g17" x1="0" y1="0" x2="1" y2="0"><stop offset="0" stop-color="#360e66"/><stop offset="0.25" stop-color="#220a48"/><stop offset="0.48" stop-color="#14061f"/><stop offset="0.6" stop-color="#4a1280"/><stop offset="0.7" stop-color="#8a2488"/><stop offset="0.8" stop-color="#d84a7a"/><stop offset="0.9" stop-color="#f4745e"/><stop offset="1" stop-color="#f8946a"/></linearGradient>
<linearGradient id="g18" x1="0" y1="0" x2="0" y2="1"><stop offset="0" stop-color="#3a1070" stop-opacity="0"/><stop offset="0.42" stop-color="#3a1070" stop-opacity="0.35"/><stop offset="0.58" stop-color="#5a1890" stop-opacity="0.95"/><stop offset="0.74" stop-color="#b8387e" stop-opacity="1"/><stop offset="0.88" stop-color="#f06a5e" stop-opacity="1"/><stop offset="1" stop-color="#f8945e" stop-opacity="1"/></linearGradient></defs>
<rect width="100" height="100" fill="url(#g17)"/>
<rect width="100" height="100" fill="url(#g18)"/>
<path d="M28,70 Q28,52 33,52 L38,52 Q40,55 40,70 Z" fill="#b03c84"/>
<path d="M46,68 Q46,50 50,50 L55,50 Q57,53 57,68 Z" fill="#a83686"/>
<path d="M57,70 Q57,52 62,52 L67,52 Q70,56 70,72 Z" fill="#d45a88"/>
<path d="M63,80 Q63,55 72,52 L84,52 Q91,58 93,80 L93,98 L68,98 Z" fill="#f8c890"/>
<path d="M70,70 Q72,58 78,56 L86,56 Q92,64 92,80 L92,98 L72,98 Z" fill="#fbeaa8"/><path d="M46,55 L57,55 L58,88 L62,95 L42,95 L46,88 Z" fill="#1a0a30"/></svg><svg x="3438.6" y="1028.1" width="346.1" height="107.7" viewBox="0 0 100 100" preserveAspectRatio="none"><defs><linearGradient id="g19" x1="0" y1="0" x2="0" y2="1"><stop offset="0" stop-color="#a8d4f0"/><stop offset="1" stop-color="#eef4f8"/></linearGradient></defs>
<rect width="100" height="100" fill="url(#g19)"/>
<path d="M0,15 Q10,5 22,10 Q30,20 35,35 L48,45 L0,60 Z" fill="#2a3420"/>
<path d="M0,30 L45,40 L45,55 L0,65 Z" fill="#26321c"/>
<path d="M50,30 Q55,5 70,0 L100,0 L100,85 L55,48 Z" fill="#24301a"/>
<path d="M55,20 Q60,10 68,12 L80,40 L60,45 Z" fill="#3a4424"/>
<path d="M0,65 L46,47 L50,47 L30,100 L0,100 Z" fill="#303c24"/>
<path d="M0,70 L40,50 L40,52 L0,75 Z" fill="#7a7a7a"/>
<path d="M44,47 L51,47 L100,90 L100,100 L0,100 L0,92 Z" fill="#8a8a8c"/>
<path d="M51,47 L53,47 L66,100 L62,100 Z" fill="#eee"/>
<path d="M55,48 L100,80 L100,100 L78,100 Z" fill="#3e4a2c"/>
<rect x="36" y="48" width="6" height="12" rx="1" fill="#1a1c22"/>
<rect x="71" y="55" width="1.2" height="12" fill="#eee"/></svg><svg x="3788.8" y="1028.1" width="346.1" height="107.7" viewBox="0 0 100 100" preserveAspectRatio="none"><defs><linearGradient id="g20" x1="0" y1="0" x2="0" y2="1"><stop offset="0" stop-color="#a8d4f0"/><stop offset="1" stop-color="#eef4f8"/></linearGradient></defs>
<rect width="100" height="100" fill="url(#g20)"/>
<path d="M0,15 Q10,5 22,10 Q30,20 35,35 L48,45 L0,60 Z" fill="#2a3420"/>
<path d="M0,30 L45,40 L45,55 L0,65 Z" fill="#26321c"/>
<path d="M50,30 Q55,5 70,0 L100,0 L100,85 L55,48 Z" fill="#24301a"/>
<path d="M55,20 Q60,10 68,12 L80,40 L60,45 Z" fill="#3a4424"/>
<path d="M0,65 L46,47 L50,47 L30,100 L0,100 Z" fill="#303c24"/>
<path d="M0,70 L40,50 L40,52 L0,75 Z" fill="#7a7a7a"/>
<path d="M44,47 L51,47 L100,90 L100,100 L0,100 L0,92 Z" fill="#8a8a8c"/>
<path d="M51,47 L53,47 L66,100 L62,100 Z" fill="#eee"/>
<path d="M55,48 L100,80 L100,100 L78,100 Z" fill="#3e4a2c"/>
<rect x="36" y="48" width="6" height="12" rx="1" fill="#1a1c22"/>
<rect x="71" y="55" width="1.2" height="12" fill="#eee"/><rect x="46" y="62" width="8" height="27" fill="#9a98a0"/><rect x="46" y="62" width="8" height="27" fill="#a8b088" opacity="0.4"/></svg><svg x="3438.6" y="1142.2" width="346.1" height="107.6" viewBox="0 0 100 100" preserveAspectRatio="none"><defs><linearGradient id="g21" x1="0" y1="0" x2="1" y2="0"><stop offset="0" stop-color="#b4def6"/><stop offset="0.3" stop-color="#e4f4fb"/><stop offset="0.5" stop-color="#fcf6f6"/><stop offset="0.65" stop-color="#fce4ea"/><stop offset="0.8" stop-color="#f6a0c0"/><stop offset="1" stop-color="#ec3e86"/></linearGradient>
<radialGradient id="g22" cx="0.2" cy="1.0" r="0.42"><stop offset="0" stop-color="#30e08a" stop-opacity="1"/><stop offset="0.55" stop-color="#70ecb0" stop-opacity="0.75"/><stop offset="1" stop-color="#b0f0d8" stop-opacity="0"/></radialGradient>
<linearGradient id="g23" x1="0" y1="0" x2="1" y2="0"><stop offset="0" stop-color="#f05a5a" stop-opacity="0"/><stop offset="0.3" stop-color="#f05050" stop-opacity="0.75"/><stop offset="1" stop-color="#d8261c" stop-opacity="1"/></linearGradient>
<linearGradient id="g24" x1="0" y1="0" x2="0" y2="1"><stop offset="0" stop-color="#fff" stop-opacity="0"/><stop offset="0.3" stop-color="#fff" stop-opacity="0"/><stop offset="1" stop-color="#f8d0d0" stop-opacity="0.6"/></linearGradient></defs>
<rect width="100" height="100" fill="url(#g21)"/>
<rect width="100" height="100" fill="url(#g24)"/>
<path d="M66,40 Q78,32 100,32 L100,100 L72,100 Q70,72 66,56 Z" fill="url(#g23)"/>
<path d="M90,42 L100,34 L100,100 L87,100 Q88,80 88,62 Z" fill="#c8201a" opacity="0.8"/>
<rect width="100" height="100" fill="url(#g22)"/>
<ellipse cx="18" cy="88" rx="3.5" ry="6" fill="#10a060"/>
<ellipse cx="27" cy="48" rx="5" ry="3" fill="#60c8f0"/>
<path d="M36,50 Q40,45 48,47 L50,60 L38,62 Z" fill="#fce0e6"/>
<ellipse cx="70" cy="48" rx="1.5" ry="6" fill="#b01818"/></svg><svg x="3788.8" y="1142.2" width="346.1" height="107.6" viewBox="0 0 100 100" preserveAspectRatio="none"><defs><linearGradient id="g26" x1="0" y1="0" x2="1" y2="0"><stop offset="0" stop-color="#b8e4f8"/><stop offset="0.5" stop-color="#eef8fc"/><stop offset="0.75" stop-color="#f6a0c0"/><stop offset="1" stop-color="#ec3e86"/></linearGradient>
<linearGradient id="g27" x1="0" y1="0" x2="1" y2="0"><stop offset="0" stop-color="#4a24d8"/><stop offset="0.5" stop-color="#3a28c8"/><stop offset="1" stop-color="#6a30e0"/></linearGradient></defs>
<rect width="100" height="100" fill="url(#g26)"/>
<rect x="84" y="38" width="16" height="62" fill="#e02a24"/><rect x="92" y="70" width="4" height="25" rx="2" fill="#3050e0"/>
<rect x="12" y="40" width="4" height="60" rx="1.5" fill="#d82020"/>
<rect x="16" y="0" width="72" height="100" rx="2" fill="url(#g27)"/>
<rect x="55.6" y="0" width="18.0" height="55" fill="#a030e0" opacity="0.55"/>
<rect x="85" y="8" width="5" height="92" rx="2" fill="#e02a24"/><ellipse cx="37.8" cy="63.1" rx="1.4" ry="5" fill="#2a80f0" opacity="0.85"/><ellipse cx="77.1" cy="58.2" rx="1.4" ry="5" fill="#60c0c0" opacity="0.85"/><ellipse cx="27.8" cy="25.9" rx="1.4" ry="5" fill="#b020e0" opacity="0.85"/><ellipse cx="39.0" cy="41.4" rx="1.4" ry="5" fill="#b020e0" opacity="0.85"/><ellipse cx="55.4" cy="63.5" rx="1.4" ry="5" fill="#b020e0" opacity="0.85"/><ellipse cx="61.1" cy="35.5" rx="1.4" ry="5" fill="#40d870" opacity="0.85"/><ellipse cx="74.3" cy="61.6" rx="1.4" ry="5" fill="#30b8e0" opacity="0.85"/><ellipse cx="62.9" cy="29.5" rx="1.4" ry="5" fill="#60c0c0" opacity="0.85"/><ellipse cx="26.5" cy="79.6" rx="1.4" ry="5" fill="#2a80f0" opacity="0.85"/><ellipse cx="51.4" cy="75.3" rx="1.4" ry="5" fill="#b020e0" opacity="0.85"/><ellipse cx="65.4" cy="89.5" rx="1.4" ry="5" fill="#b020e0" opacity="0.85"/><ellipse cx="66.2" cy="65.4" rx="1.4" ry="5" fill="#40d870" opacity="0.85"/><ellipse cx="75.0" cy="31.8" rx="1.4" ry="5" fill="#40d870" opacity="0.85"/><ellipse cx="52.7" cy="43.1" rx="1.4" ry="5" fill="#b020e0" opacity="0.85"/><ellipse cx="69.2" cy="84.9" rx="1.4" ry="5" fill="#b020e0" opacity="0.85"/><ellipse cx="53.4" cy="52.0" rx="1.4" ry="5" fill="#2a80f0" opacity="0.85"/><ellipse cx="55.0" cy="53.5" rx="1.4" ry="5" fill="#40d870" opacity="0.85"/><ellipse cx="76.4" cy="72.7" rx="1.4" ry="5" fill="#30b8e0" opacity="0.85"/><ellipse cx="73.7" cy="94.4" rx="1.4" ry="5" fill="#40d870" opacity="0.85"/><ellipse cx="64.5" cy="47.8" rx="1.4" ry="5" fill="#60c0c0" opacity="0.85"/><ellipse cx="76.5" cy="64.8" rx="1.4" ry="5" fill="#40d870" opacity="0.85"/><ellipse cx="60.7" cy="94.2" rx="1.4" ry="5" fill="#2a80f0" opacity="0.85"/></svg><text transform="translate(3420,910) rotate(-90)" font-family="Liberation Serif" font-size="36" text-anchor="middle" textLength="166" lengthAdjust="spacingAndGlyphs">PlaneDepth</text><text transform="translate(3420,1138) rotate(-90)" font-family="Liberation Serif" font-size="36" text-anchor="middle" textLength="149" lengthAdjust="spacingAndGlyphs">FlowNetC</text><rect x="4154" y="821" width="611" height="3" fill="#000"/><rect x="4154" y="913.9" width="611" height="1.8" fill="#000"/><rect x="4154" y="922.6" width="611" height="1.8" fill="#000"/><rect x="4154" y="1091.8" width="611" height="1.8" fill="#000"/><rect x="4154" y="1222.5" width="611" height="3" fill="#000"/><rect x="4339.9" y="833" width="1.8" height="75.89999999999998" fill="#000"/><rect x="4339.9" y="934" width="1.8" height="151" fill="#000"/><rect x="4339.9" y="1103.2" width="1.8" height="113.20000000000005" fill="#000"/><svg x="3543" y="1395.4" width="364.2" height="113.2" viewBox="0 0 100 100" preserveAspectRatio="none"><defs><linearGradient id="g28" x1="0" y1="0" x2="0" y2="1"><stop offset="0" stop-color="#6cc0ee"/><stop offset="1" stop-color="#a8dcf4"/></linearGradient>
<linearGradient id="g29" x1="0" y1="0" x2="1" y2="0"><stop offset="0" stop-color="#3a3a3c"/><stop offset="0.3" stop-color="#5e5e60"/><stop offset="0.65" stop-color="#6a6a6c"/><stop offset="1" stop-color="#48484a"/></linearGradient></defs>
<rect width="100" height="100" fill="url(#g29)"/>
<rect width="62" height="45" fill="url(#g28)"/>
<rect x="0" y="0" width="6" height="58" fill="#e6e6ea"/><rect x="0" y="8" width="6" height="3" fill="#444"/><rect x="0" y="18" width="6" height="3" fill="#444"/><rect x="0" y="28" width="6" height="3" fill="#444"/><rect x="0" y="38" width="6" height="3" fill="#444"/>
<rect x="5.5" y="0" width="6.5" height="37" fill="#4a5a84"/>
<rect x="5.5" y="36" width="9" height="22" fill="#e4e4e8"/>
<rect x="0" y="48" width="14" height="8" fill="#8a3a30"/>
<rect x="18" y="13" width="19" height="34" fill="#e6e6e8"/><rect x="18" y="20" width="19" height="3" fill="#5a5a5a"/><rect x="18" y="29" width="19" height="3" fill="#5a5a5a"/><rect x="18" y="38" width="19" height="3" fill="#5a5a5a"/>
<path d="M32,12 L36,4 L45,8 L45,48 L32,48 Z" fill="#c8a494"/>
<path d="M32,12 L36,4 L45,8 L45,14 L32,16 Z" fill="#3a3030"/>
<rect x="45" y="22" width="10" height="26" fill="#c8b0a0"/>
<ellipse cx="14" cy="24" rx="5.5" ry="21" fill="#6e7234"/>
<ellipse cx="27.5" cy="33" rx="2.5" ry="14" fill="#3e5224"/><ellipse cx="36" cy="35" rx="2.2" ry="11" fill="#4a5a28"/><ellipse cx="41" cy="33" rx="2.5" ry="13" fill="#4a5a28"/>
<rect x="12" y="43" width="44" height="14" fill="#4a4542"/>
<rect x="28" y="43" width="7" height="3.5" fill="#e0c040"/>
<rect x="20" y="50" width="8" height="6" fill="#d8d8dc"/>
<rect x="61" y="0" width="21" height="58" fill="#48484e"/>
<rect x="64" y="8" width="2.2" height="45" fill="#c8c8d0"/><rect x="69.5" y="12" width="2.2" height="40" fill="#c0c0c8"/><rect x="76" y="15" width="2.5" height="36" fill="#c8c8d0"/>
<rect x="82" y="0" width="18" height="74" fill="#cfcfd3"/>
<rect x="85" y="3" width="13" height="36" fill="#bcbcc2"/><rect x="86.5" y="6" width="10" height="30" fill="#5a5a62"/>
<rect x="82" y="58" width="18" height="20" fill="#5a5a5e"/>
<path d="M0,62 L25,58 L22,100 L0,100 Z" fill="#3c3c3e"/>
<path d="M66,58 L100,72 L100,100 L86,100 Z" fill="#4a4a4c"/>
<rect x="37.5" y="80" width="2" height="17" fill="#eee" transform="rotate(25 38.5 88)"/>
<rect x="42.5" y="69" width="1.3" height="7" fill="#ddd" transform="rotate(25 43 72)"/>
<path d="M28,60 Q30,53 34,53 L37,53 Q38.5,58 38.5,62 L38.5,73 L28,74 Z" fill="#982828"/>
<rect x="46.5" y="50" width="6" height="18" rx="1" fill="#34343a"/>
<rect x="54" y="50" width="4" height="15" rx="1" fill="#b8b8bc"/>
<path d="M57,56 Q58,52 62,52 L65,53 L66,76 L57,75 Z" fill="#c4c4c8"/>
<path d="M63,72 Q64,60 70,56 L84,55 Q90,60 92,78 L92,98 L66,100 Z" fill="#b04430"/>
<rect x="70" y="58" width="13" height="9" fill="#5a2a22"/>
<rect x="73" y="80" width="9" height="5" fill="#f0c8b0"/><rect x="46" y="62" width="8" height="24" fill="#9a9a8a"/><rect x="46" y="62" width="8" height="12.0" fill="#8a9a7a" opacity="0.7"/><rect x="48.666666666666664" y="62" width="2.6666666666666665" height="24" fill="#a090a8" opacity="0.6"/></svg><svg x="3543" y="1512.7" width="364.2" height="113.2" viewBox="0 0 100 100" preserveAspectRatio="none"><defs><linearGradient id="g30" x1="0" y1="0" x2="1" y2="0"><stop offset="0" stop-color="#360e66"/><stop offset="0.25" stop-color="#220a48"/><stop offset="0.48" stop-color="#14061f"/><stop offset="0.6" stop-color="#4a1280"/><stop offset="0.7" stop-color="#8a2488"/><stop offset="0.8" stop-color="#d84a7a"/><stop offset="0.9" stop-color="#f4745e"/><stop offset="1" stop-color="#f8946a"/></linearGradient>
<linearGradient id="g31" x1="0" y1="0" x2="0" y2="1"><stop offset="0" stop-color="#3a1070" stop-opacity="0"/><stop offset="0.42" stop-color="#3a1070" stop-opacity="0.35"/><stop offset="0.58" stop-color="#5a1890" stop-opacity="0.95"/><stop offset="0.74" stop-color="#b8387e" stop-opacity="1"/><stop offset="0.88" stop-color="#f06a5e" stop-opacity="1"/><stop offset="1" stop-color="#f8945e" stop-opacity="1"/></linearGradient></defs>
<rect width="100" height="100" fill="url(#g30)"/>
<rect width="100" height="100" fill="url(#g31)"/>
<path d="M28,70 Q28,52 33,52 L38,52 Q40,55 40,70 Z" fill="#b03c84"/>
<path d="M46,68 Q46,50 50,50 L55,50 Q57,53 57,68 Z" fill="#a83686"/>
<path d="M57,70 Q57,52 62,52 L67,52 Q70,56 70,72 Z" fill="#d45a88"/>
<path d="M63,80 Q63,55 72,52 L84,52 Q91,58 93,80 L93,98 L68,98 Z" fill="#f8c890"/>
<path d="M70,70 Q72,58 78,56 L86,56 Q92,64 92,80 L92,98 L72,98 Z" fill="#fbeaa8"/><rect x="46" y="70" width="6" height="15" fill="#3a1060"/></svg><svg x="3543" y="1632.9" width="364.2" height="112.6" viewBox="0 0 100 100" preserveAspectRatio="none"><defs><linearGradient id="g32" x1="0" y1="0" x2="0" y2="1"><stop offset="0" stop-color="#a8d4f0"/><stop offset="1" stop-color="#eef4f8"/></linearGradient></defs>
<rect width="100" height="100" fill="url(#g32)"/>
<path d="M0,15 Q10,5 22,10 Q30,20 35,35 L48,45 L0,60 Z" fill="#2a3420"/>
<path d="M0,30 L45,40 L45,55 L0,65 Z" fill="#26321c"/>
<path d="M50,30 Q55,5 70,0 L100,0 L100,85 L55,48 Z" fill="#24301a"/>
<path d="M55,20 Q60,10 68,12 L80,40 L60,45 Z" fill="#3a4424"/>
<path d="M0,65 L46,47 L50,47 L30,100 L0,100 Z" fill="#303c24"/>
<path d="M0,70 L40,50 L40,52 L0,75 Z" fill="#7a7a7a"/>
<path d="M44,47 L51,47 L100,90 L100,100 L0,100 L0,92 Z" fill="#8a8a8c"/>
<path d="M51,47 L53,47 L66,100 L62,100 Z" fill="#eee"/>
<path d="M55,48 L100,80 L100,100 L78,100 Z" fill="#3e4a2c"/>
<rect x="36" y="48" width="6" height="12" rx="1" fill="#1a1c22"/>
<rect x="71" y="55" width="1.2" height="12" fill="#eee"/><rect x="46" y="62" width="8" height="26" fill="#9a98a0"/><rect x="46" y="62" width="8" height="26" fill="#a8b088" opacity="0.4"/></svg><svg x="3543" y="1751.9" width="364.2" height="113.2" viewBox="0 0 100 100" preserveAspectRatio="none"><defs><linearGradient id="g33" x1="0" y1="0" x2="1" y2="0"><stop offset="0" stop-color="#b8e4f8"/><stop offset="0.5" stop-color="#eef8fc"/><stop offset="0.75" stop-color="#f6a0c0"/><stop offset="1" stop-color="#ec3e86"/></linearGradient>
<linearGradient id="g34" x1="0" y1="0" x2="1" y2="0"><stop offset="0" stop-color="#4a24d8"/><stop offset="0.5" stop-color="#3a28c8"/><stop offset="1" stop-color="#6a30e0"/></linearGradient></defs>
<rect width="100" height="100" fill="url(#g33)"/>
<rect x="84" y="38" width="16" height="62" fill="#e02a24"/><rect x="92" y="70" width="4" height="25" rx="2" fill="#3050e0"/>
<rect x="18" y="40" width="4" height="60" rx="1.5" fill="#d82020"/>
<rect x="22" y="0" width="66" height="100" rx="2" fill="url(#g34)"/>
<rect x="58.300000000000004" y="0" width="16.5" height="55" fill="#a030e0" opacity="0.55"/>
<rect x="85" y="8" width="5" height="92" rx="2" fill="#e02a24"/><ellipse cx="46.8" cy="35.6" rx="1.4" ry="5" fill="#30b8e0" opacity="0.85"/><ellipse cx="33.8" cy="62.5" rx="1.4" ry="5" fill="#2a80f0" opacity="0.85"/><ellipse cx="60.3" cy="88.7" rx="1.4" ry="5" fill="#40d870" opacity="0.85"/><ellipse cx="31.9" cy="55.4" rx="1.4" ry="5" fill="#30b8e0" opacity="0.85"/><ellipse cx="42.5" cy="63.6" rx="1.4" ry="5" fill="#30b8e0" opacity="0.85"/><ellipse cx="73.0" cy="33.7" rx="1.4" ry="5" fill="#40d870" opacity="0.85"/><ellipse cx="62.8" cy="65.8" rx="1.4" ry="5" fill="#30b8e0" opacity="0.85"/><ellipse cx="60.0" cy="52.8" rx="1.4" ry="5" fill="#40d870" opacity="0.85"/><ellipse cx="32.4" cy="85.1" rx="1.4" ry="5" fill="#2a80f0" opacity="0.85"/><ellipse cx="51.8" cy="62.8" rx="1.4" ry="5" fill="#60c0c0" opacity="0.85"/><ellipse cx="46.0" cy="82.1" rx="1.4" ry="5" fill="#40d870" opacity="0.85"/><ellipse cx="35.4" cy="65.0" rx="1.4" ry="5" fill="#40d870" opacity="0.85"/><ellipse cx="49.4" cy="63.3" rx="1.4" ry="5" fill="#30b8e0" opacity="0.85"/><ellipse cx="59.3" cy="68.3" rx="1.4" ry="5" fill="#b020e0" opacity="0.85"/><ellipse cx="65.4" cy="54.9" rx="1.4" ry="5" fill="#2a80f0" opacity="0.85"/><ellipse cx="54.2" cy="89.6" rx="1.4" ry="5" fill="#2a80f0" opacity="0.85"/><ellipse cx="45.6" cy="80.6" rx="1.4" ry="5" fill="#40d870" opacity="0.85"/><ellipse cx="34.3" cy="46.0" rx="1.4" ry="5" fill="#b020e0" opacity="0.85"/><ellipse cx="75.5" cy="76.1" rx="1.4" ry="5" fill="#2a80f0" opacity="0.85"/><ellipse cx="61.7" cy="30.1" rx="1.4" ry="5" fill="#60c0c0" opacity="0.85"/><ellipse cx="51.7" cy="78.0" rx="1.4" ry="5" fill="#40d870" opacity="0.85"/><ellipse cx="78.5" cy="54.5" rx="1.4" ry="5" fill="#30b8e0" opacity="0.85"/></svg><svg x="3911.8" y="1395.4" width="364.7" height="113.2" viewBox="0 0 100 100" preserveAspectRatio="none"><defs><linearGradient id="g35" x1="0" y1="0" x2="0" y2="1"><stop offset="0" stop-color="#6cc0ee"/><stop offset="1" stop-color="#a8dcf4"/></linearGradient>
<linearGradient id="g36" x1="0" y1="0" x2="1" y2="0"><stop offset="0" stop-color="#3a3a3c"/><stop offset="0.3" stop-color="#5e5e60"/><stop offset="0.65" stop-color="#6a6a6c"/><stop offset="1" stop-color="#48484a"/></linearGradient></defs>
<rect width="100" height="100" fill="url(#g36)"/>
<rect width="62" height="45" fill="url(#g35)"/>
<rect x="0" y="0" width="6" height="58" fill="#e6e6ea"/><rect x="0" y="8" width="6" height="3" fill="#444"/><rect x="0" y="18" width="6" height="3" fill="#444"/><rect x="0" y="28" width="6" height="3" fill="#444"/><rect x="0" y="38" width="6" height="3" fill="#444"/>
<rect x="5.5" y="0" width="6.5" height="37" fill="#4a5a84"/>
<rect x="5.5" y="36" width="9" height="22" fill="#e4e4e8"/>
<rect x="0" y="48" width="14" height="8" fill="#8a3a30"/>
<rect x="18" y="13" width="19" height="34" fill="#e6e6e8"/><rect x="18" y="20" width="19" height="3" fill="#5a5a5a"/><rect x="18" y="29" width="19" height="3" fill="#5a5a5a"/><rect x="18" y="38" width="19" height="3" fill="#5a5a5a"/>
<path d="M32,12 L36,4 L45,8 L45,48 L32,48 Z" fill="#c8a494"/>
<path d="M32,12 L36,4 L45,8 L45,14 L32,16 Z" fill="#3a3030"/>
<rect x="45" y="22" width="10" height="26" fill="#c8b0a0"/>
<ellipse cx="14" cy="24" rx="5.5" ry="21" fill="#6e7234"/>
<ellipse cx="27.5" cy="33" rx="2.5" ry="14" fill="#3e5224"/><ellipse cx="36" cy="35" rx="2.2" ry="11" fill="#4a5a28"/><ellipse cx="41" cy="33" rx="2.5" ry="13" fill="#4a5a28"/>
<rect x="12" y="43" width="44" height="14" fill="#4a4542"/>
<rect x="28" y="43" width="7" height="3.5" fill="#e0c040"/>
<rect x="20" y="50" width="8" height="6" fill="#d8d8dc"/>
<rect x="61" y="0" width="21" height="58" fill="#48484e"/>
<rect x="64" y="8" width="2.2" height="45" fill="#c8c8d0"/><rect x="69.5" y="12" width="2.2" height="40" fill="#c0c0c8"/><rect x="76" y="15" width="2.5" height="36" fill="#c8c8d0"/>
<rect x="82" y="0" width="18" height="74" fill="#cfcfd3"/>
<rect x="85" y="3" width="13" height="36" fill="#bcbcc2"/><rect x="86.5" y="6" width="10" height="30" fill="#5a5a62"/>
<rect x="82" y="58" width="18" height="20" fill="#5a5a5e"/>
<path d="M0,62 L25,58 L22,100 L0,100 Z" fill="#3c3c3e"/>
<path d="M66,58 L100,72 L100,100 L86,100 Z" fill="#4a4a4c"/>
<rect x="37.5" y="80" width="2" height="17" fill="#eee" transform="rotate(25 38.5 88)"/>
<rect x="42.5" y="69" width="1.3" height="7" fill="#ddd" transform="rotate(25 43 72)"/>
<path d="M28,60 Q30,53 34,53 L37,53 Q38.5,58 38.5,62 L38.5,73 L28,74 Z" fill="#982828"/>
<rect x="46.5" y="50" width="6" height="18" rx="1" fill="#34343a"/>
<rect x="54" y="50" width="4" height="15" rx="1" fill="#b8b8bc"/>
<path d="M57,56 Q58,52 62,52 L65,53 L66,76 L57,75 Z" fill="#c4c4c8"/>
<path d="M63,72 Q64,60 70,56 L84,55 Q90,60 92,78 L92,98 L66,100 Z" fill="#b04430"/>
<rect x="70" y="58" width="13" height="9" fill="#5a2a22"/>
<rect x="73" y="80" width="9" height="5" fill="#f0c8b0"/><rect x="46" y="62" width="8" height="24" fill="#9a9a8a"/><rect x="46" y="62" width="8" height="12.0" fill="#8a9a7a" opacity="0.7"/><rect x="48.666666666666664" y="62" width="2.6666666666666665" height="24" fill="#a090a8" opacity="0.6"/></svg><svg x="3911.8" y="1512.7" width="364.7" height="113.2" viewBox="0 0 100 100" preserveAspectRatio="none"><defs><linearGradient id="g37" x1="0" y1="0" x2="1" y2="0"><stop offset="0" stop-color="#360e66"/><stop offset="0.25" stop-color="#220a48"/><stop offset="0.48" stop-color="#14061f"/><stop offset="0.6" stop-color="#4a1280"/><stop offset="0.7" stop-color="#8a2488"/><stop offset="0.8" stop-color="#d84a7a"/><stop offset="0.9" stop-color="#f4745e"/><stop offset="1" stop-color="#f8946a"/></linearGradient>
<linearGradient id="g38" x1="0" y1="0" x2="0" y2="1"><stop offset="0" stop-color="#3a1070" stop-opacity="0"/><stop offset="0.42" stop-color="#3a1070" stop-opacity="0.35"/><stop offset="0.58" stop-color="#5a1890" stop-opacity="0.95"/><stop offset="0.74" stop-color="#b8387e" stop-opacity="1"/><stop offset="0.88" stop-color="#f06a5e" stop-opacity="1"/><stop offset="1" stop-color="#f8945e" stop-opacity="1"/></linearGradient></defs>
<rect width="100" height="100" fill="url(#g37)"/>
<rect width="100" height="100" fill="url(#g38)"/>
<path d="M28,70 Q28,52 33,52 L38,52 Q40,55 40,70 Z" fill="#b03c84"/>
<path d="M46,68 Q46,50 50,50 L55,50 Q57,53 57,68 Z" fill="#a83686"/>
<path d="M57,70 Q57,52 62,52 L67,52 Q70,56 70,72 Z" fill="#d45a88"/>
<path d="M63,80 Q63,55 72,52 L84,52 Q91,58 93,80 L93,98 L68,98 Z" fill="#f8c890"/>
<path d="M70,70 Q72,58 78,56 L86,56 Q92,64 92,80 L92,98 L72,98 Z" fill="#fbeaa8"/></svg><svg x="3911.8" y="1632.9" width="364.7" height="112.6" viewBox="0 0 100 100" preserveAspectRatio="none"><defs><linearGradient id="g39" x1="0" y1="0" x2="0" y2="1"><stop offset="0" stop-color="#a8d4f0"/><stop offset="1" stop-color="#eef4f8"/></linearGradient></defs>
<rect width="100" height="100" fill="url(#g39)"/>
<path d="M0,15 Q10,5 22,10 Q30,20 35,35 L48,45 L0,60 Z" fill="#2a3420"/>
<path d="M0,30 L45,40 L45,55 L0,65 Z" fill="#26321c"/>
<path d="M50,30 Q55,5 70,0 L100,0 L100,85 L55,48 Z" fill="#24301a"/>
<path d="M55,20 Q60,10 68,12 L80,40 L60,45 Z" fill="#3a4424"/>
<path d="M0,65 L46,47 L50,47 L30,100 L0,100 Z" fill="#303c24"/>
<path d="M0,70 L40,50 L40,52 L0,75 Z" fill="#7a7a7a"/>
<path d="M44,47 L51,47 L100,90 L100,100 L0,100 L0,92 Z" fill="#8a8a8c"/>
<path d="M51,47 L53,47 L66,100 L62,100 Z" fill="#eee"/>
<path d="M55,48 L100,80 L100,100 L78,100 Z" fill="#3e4a2c"/>
<rect x="36" y="48" width="6" height="12" rx="1" fill="#1a1c22"/>
<rect x="71" y="55" width="1.2" height="12" fill="#eee"/><rect x="46" y="62" width="8" height="26" fill="#9a98a0"/><rect x="46" y="62" width="8" height="26" fill="#a8b088" opacity="0.4"/></svg><svg x="3911.8" y="1751.9" width="364.7" height="113.2" viewBox="0 0 100 100" preserveAspectRatio="none"><defs><linearGradient id="g40" x1="0" y1="0" x2="1" y2="0"><stop offset="0" stop-color="#b4def6"/><stop offset="0.3" stop-color="#e4f4fb"/><stop offset="0.5" stop-color="#fcf6f6"/><stop offset="0.65" stop-color="#fce4ea"/><stop offset="0.8" stop-color="#f6a0c0"/><stop offset="1" stop-color="#ec3e86"/></linearGradient>
<radialGradient id="g41" cx="0.2" cy="1.0" r="0.42"><stop offset="0" stop-color="#30e08a" stop-opacity="1"/><stop offset="0.55" stop-color="#70ecb0" stop-opacity="0.75"/><stop offset="1" stop-color="#b0f0d8" stop-opacity="0"/></radialGradient>
<linearGradient id="g42" x1="0" y1="0" x2="1" y2="0"><stop offset="0" stop-color="#f05a5a" stop-opacity="0"/><stop offset="0.3" stop-color="#f05050" stop-opacity="0.75"/><stop offset="1" stop-color="#d8261c" stop-opacity="1"/></linearGradient>
<linearGradient id="g43" x1="0" y1="0" x2="0" y2="1"><stop offset="0" stop-color="#fff" stop-opacity="0"/><stop offset="0.3" stop-color="#fff" stop-opacity="0"/><stop offset="1" stop-color="#f8d0d0" stop-opacity="0.6"/></linearGradient></defs>
<rect width="100" height="100" fill="url(#g40)"/>
<rect width="100" height="100" fill="url(#g43)"/>
<path d="M66,40 Q78,32 100,32 L100,100 L72,100 Q70,72 66,56 Z" fill="url(#g42)"/>
<path d="M90,42 L100,34 L100,100 L87,100 Q88,80 88,62 Z" fill="#c8201a" opacity="0.8"/>
<rect width="100" height="100" fill="url(#g41)"/>
<ellipse cx="18" cy="88" rx="3.5" ry="6" fill="#10a060"/>
<ellipse cx="27" cy="48" rx="5" ry="3" fill="#60c8f0"/>
<path d="M36,50 Q40,45 48,47 L50,60 L38,62 Z" fill="#fce0e6"/>
<ellipse cx="70" cy="48" rx="1.5" ry="6" fill="#b01818"/></svg><svg x="4280.6" y="1395.4" width="364.7" height="113.2" viewBox="0 0 100 100" preserveAspectRatio="none"><defs><linearGradient id="g45" x1="0" y1="0" x2="0" y2="1"><stop offset="0" stop-color="#6cc0ee"/><stop offset="1" stop-color="#a8dcf4"/></linearGradient>
<linearGradient id="g46" x1="0" y1="0" x2="1" y2="0"><stop offset="0" stop-color="#3a3a3c"/><stop offset="0.3" stop-color="#5e5e60"/><stop offset="0.65" stop-color="#6a6a6c"/><stop offset="1" stop-color="#48484a"/></linearGradient></defs>
<rect width="100" height="100" fill="url(#g46)"/>
<rect width="62" height="45" fill="url(#g45)"/>
<rect x="0" y="0" width="6" height="58" fill="#e6e6ea"/><rect x="0" y="8" width="6" height="3" fill="#444"/><rect x="0" y="18" width="6" height="3" fill="#444"/><rect x="0" y="28" width="6" height="3" fill="#444"/><rect x="0" y="38" width="6" height="3" fill="#444"/>
<rect x="5.5" y="0" width="6.5" height="37" fill="#4a5a84"/>
<rect x="5.5" y="36" width="9" height="22" fill="#e4e4e8"/>
<rect x="0" y="48" width="14" height="8" fill="#8a3a30"/>
<rect x="18" y="13" width="19" height="34" fill="#e6e6e8"/><rect x="18" y="20" width="19" height="3" fill="#5a5a5a"/><rect x="18" y="29" width="19" height="3" fill="#5a5a5a"/><rect x="18" y="38" width="19" height="3" fill="#5a5a5a"/>
<path d="M32,12 L36,4 L45,8 L45,48 L32,48 Z" fill="#c8a494"/>
<path d="M32,12 L36,4 L45,8 L45,14 L32,16 Z" fill="#3a3030"/>
<rect x="45" y="22" width="10" height="26" fill="#c8b0a0"/>
<ellipse cx="14" cy="24" rx="5.5" ry="21" fill="#6e7234"/>
<ellipse cx="27.5" cy="33" rx="2.5" ry="14" fill="#3e5224"/><ellipse cx="36" cy="35" rx="2.2" ry="11" fill="#4a5a28"/><ellipse cx="41" cy="33" rx="2.5" ry="13" fill="#4a5a28"/>
<rect x="12" y="43" width="44" height="14" fill="#4a4542"/>
<rect x="28" y="43" width="7" height="3.5" fill="#e0c040"/>
<rect x="20" y="50" width="8" height="6" fill="#d8d8dc"/>
<rect x="61" y="0" width="21" height="58" fill="#48484e"/>
<rect x="64" y="8" width="2.2" height="45" fill="#c8c8d0"/><rect x="69.5" y="12" width="2.2" height="40" fill="#c0c0c8"/><rect x="76" y="15" width="2.5" height="36" fill="#c8c8d0"/>
<rect x="82" y="0" width="18" height="74" fill="#cfcfd3"/>
<rect x="85" y="3" width="13" height="36" fill="#bcbcc2"/><rect x="86.5" y="6" width="10" height="30" fill="#5a5a62"/>
<rect x="82" y="58" width="18" height="20" fill="#5a5a5e"/>
<path d="M0,62 L25,58 L22,100 L0,100 Z" fill="#3c3c3e"/>
<path d="M66,58 L100,72 L100,100 L86,100 Z" fill="#4a4a4c"/>
<rect x="37.5" y="80" width="2" height="17" fill="#eee" transform="rotate(25 38.5 88)"/>
<rect x="42.5" y="69" width="1.3" height="7" fill="#ddd" transform="rotate(25 43 72)"/>
<path d="M28,60 Q30,53 34,53 L37,53 Q38.5,58 38.5,62 L38.5,73 L28,74 Z" fill="#982828"/>
<rect x="46.5" y="50" width="6" height="18" rx="1" fill="#34343a"/>
<rect x="54" y="50" width="4" height="15" rx="1" fill="#b8b8bc"/>
<path d="M57,56 Q58,52 62,52 L65,53 L66,76 L57,75 Z" fill="#c4c4c8"/>
<path d="M63,72 Q64,60 70,56 L84,55 Q90,60 92,78 L92,98 L66,100 Z" fill="#b04430"/>
<rect x="70" y="58" width="13" height="9" fill="#5a2a22"/>
<rect x="73" y="80" width="9" height="5" fill="#f0c8b0"/><rect x="47" y="56" width="8" height="22" fill="#9a9a8a"/><rect x="47" y="56" width="8" height="11.0" fill="#8a9a7a" opacity="0.7"/><rect x="49.666666666666664" y="56" width="2.6666666666666665" height="22" fill="#a090a8" opacity="0.6"/></svg><svg x="4280.6" y="1512.7" width="364.7" height="113.2" viewBox="0 0 100 100" preserveAspectRatio="none"><defs><linearGradient id="g47" x1="0" y1="0" x2="1" y2="0"><stop offset="0" stop-color="#360e66"/><stop offset="0.25" stop-color="#220a48"/><stop offset="0.48" stop-color="#14061f"/><stop offset="0.6" stop-color="#4a1280"/><stop offset="0.7" stop-color="#8a2488"/><stop offset="0.8" stop-color="#d84a7a"/><stop offset="0.9" stop-color="#f4745e"/><stop offset="1" stop-color="#f8946a"/></linearGradient>
<linearGradient id="g48" x1="0" y1="0" x2="0" y2="1"><stop offset="0" stop-color="#3a1070" stop-opacity="0"/><stop offset="0.42" stop-color="#3a1070" stop-opacity="0.35"/><stop offset="0.58" stop-color="#5a1890" stop-opacity="0.95"/><stop offset="0.74" stop-color="#b8387e" stop-opacity="1"/><stop offset="0.88" stop-color="#f06a5e" stop-opacity="1"/><stop offset="1" stop-color="#f8945e" stop-opacity="1"/></linearGradient></defs>
<rect width="100" height="100" fill="url(#g47)"/>
<rect width="100" height="100" fill="url(#g48)"/>
<path d="M28,70 Q28,52 33,52 L38,52 Q40,55 40,70 Z" fill="#b03c84"/>
<path d="M46,68 Q46,50 50,50 L55,50 Q57,53 57,68 Z" fill="#a83686"/>
<path d="M57,70 Q57,52 62,52 L67,52 Q70,56 70,72 Z" fill="#d45a88"/>
<path d="M63,80 Q63,55 72,52 L84,52 Q91,58 93,80 L93,98 L68,98 Z" fill="#f8c890"/>
<path d="M70,70 Q72,58 78,56 L86,56 Q92,64 92,80 L92,98 L72,98 Z" fill="#fbeaa8"/><rect x="46" y="55" width="7" height="30" rx="2" fill="#e0607a"/></svg><svg x="4280.6" y="1632.9" width="364.7" height="112.6" viewBox="0 0 100 100" preserveAspectRatio="none"><defs><linearGradient id="g49" x1="0" y1="0" x2="0" y2="1"><stop offset="0" stop-color="#a8d4f0"/><stop offset="1" stop-color="#eef4f8"/></linearGradient></defs>
<rect width="100" height="100" fill="url(#g49)"/>
<path d="M0,15 Q10,5 22,10 Q30,20 35,35 L48,45 L0,60 Z" fill="#2a3420"/>
<path d="M0,30 L45,40 L45,55 L0,65 Z" fill="#26321c"/>
<path d="M50,30 Q55,5 70,0 L100,0 L100,85 L55,48 Z" fill="#24301a"/>
<path d="M55,20 Q60,10 68,12 L80,40 L60,45 Z" fill="#3a4424"/>
<path d="M0,65 L46,47 L50,47 L30,100 L0,100 Z" fill="#303c24"/>
<path d="M0,70 L40,50 L40,52 L0,75 Z" fill="#7a7a7a"/>
<path d="M44,47 L51,47 L100,90 L100,100 L0,100 L0,92 Z" fill="#8a8a8c"/>
<path d="M51,47 L53,47 L66,100 L62,100 Z" fill="#eee"/>
<path d="M55,48 L100,80 L100,100 L78,100 Z" fill="#3e4a2c"/>
<rect x="36" y="48" width="6" height="12" rx="1" fill="#1a1c22"/>
<rect x="71" y="55" width="1.2" height="12" fill="#eee"/><rect x="46" y="62" width="8" height="26" fill="#9a98a0"/><rect x="46" y="62" width="8" height="26" fill="#a8b088" opacity="0.4"/></svg><svg x="4280.6" y="1751.9" width="364.7" height="113.2" viewBox="0 0 100 100" preserveAspectRatio="none"><defs><linearGradient id="g50" x1="0" y1="0" x2="1" y2="0"><stop offset="0" stop-color="#b4def6"/><stop offset="0.3" stop-color="#e4f4fb"/><stop offset="0.5" stop-color="#fcf6f6"/><stop offset="0.65" stop-color="#fce4ea"/><stop offset="0.8" stop-color="#f6a0c0"/><stop offset="1" stop-color="#ec3e86"/></linearGradient>
<radialGradient id="g51" cx="0.2" cy="1.0" r="0.42"><stop offset="0" stop-color="#30e08a" stop-opacity="1"/><stop offset="0.55" stop-color="#70ecb0" stop-opacity="0.75"/><stop offset="1" stop-color="#b0f0d8" stop-opacity="0"/></radialGradient>
<linearGradient id="g52" x1="0" y1="0" x2="1" y2="0"><stop offset="0" stop-color="#f05a5a" stop-opacity="0"/><stop offset="0.3" stop-color="#f05050" stop-opacity="0.75"/><stop offset="1" stop-color="#d8261c" stop-opacity="1"/></linearGradient>
<linearGradient id="g53" x1="0" y1="0" x2="0" y2="1"><stop offset="0" stop-color="#fff" stop-opacity="0"/><stop offset="0.3" stop-color="#fff" stop-opacity="0"/><stop offset="1" stop-color="#f8d0d0" stop-opacity="0.6"/></linearGradient></defs>
<rect width="100" height="100" fill="url(#g50)"/>
<rect width="100" height="100" fill="url(#g53)"/>
<path d="M66,40 Q78,32 100,32 L100,100 L72,100 Q70,72 66,56 Z" fill="url(#g52)"/>
<path d="M90,42 L100,34 L100,100 L87,100 Q88,80 88,62 Z" fill="#c8201a" opacity="0.8"/>
<rect width="100" height="100" fill="url(#g51)"/>
<ellipse cx="18" cy="88" rx="3.5" ry="6" fill="#10a060"/>
<ellipse cx="27" cy="48" rx="5" ry="3" fill="#60c8f0"/>
<path d="M36,50 Q40,45 48,47 L50,60 L38,62 Z" fill="#fce0e6"/>
<ellipse cx="70" cy="48" rx="1.5" ry="6" fill="#b01818"/></svg><text transform="translate(3525,1519.5) rotate(-90)" font-family="Liberation Serif" font-size="38" text-anchor="middle" textLength="175" lengthAdjust="spacingAndGlyphs">PlaneDepth</text><text transform="translate(3525,1757) rotate(-90)" font-family="Liberation Serif" font-size="38" text-anchor="middle" textLength="155" lengthAdjust="spacingAndGlyphs">FlowNetC</text><line x1="3531.4" y1="1998.5" x2="3831.3" y2="1998.5" stroke="#D9D9D9" stroke-width="1.3"/><line x1="3531.4" y1="2058.0" x2="3831.3" y2="2058.0" stroke="#D9D9D9" stroke-width="1.3"/><line x1="3531.4" y1="2118.1" x2="3831.3" y2="2118.1" stroke="#D9D9D9" stroke-width="1.3"/><line x1="3477.1" y1="2178.8" x2="3831.3" y2="2178.8" stroke="#D9D9D9" stroke-width="1.3"/><line x1="3477.1" y1="2238.9" x2="3831.3" y2="2238.9" stroke="#444" stroke-width="1.6"/><text x="3465.5" y="2185.8" font-family="Liberation Sans" font-size="22.5" text-anchor="end" fill="#222">10</text><text x="3465.5" y="2245.9" font-family="Liberation Sans" font-size="22.5" text-anchor="end" fill="#222">0</text><polyline points="3494.6,2233.0 3530.8,2233.0 3566.4,2233.0 3602.0,2234.8 3637.0,2234.8 3672.6,2234.8 3707.6,2234.8 3742.6,2234.8 3778.8,2234.8 3814.4,2234.8" fill="none" stroke="#4285F4" stroke-width="2.4"/><polygon points="3494.6,2227.5 3499.6,2236.5 3489.6,2236.5" fill="#4285F4"/><polygon points="3530.8,2227.5 3535.8,2236.5 3525.8,2236.5" fill="#4285F4"/><polygon points="3566.4,2227.5 3571.4,2236.5 3561.4,2236.5" fill="#4285F4"/><polygon points="3602.0,2229.3 3607.0,2238.3 3597.0,2238.3" fill="#4285F4"/><polygon points="3637.0,2229.3 3642.0,2238.3 3632.0,2238.3" fill="#4285F4"/><polygon points="3672.6,2229.3 3677.6,2238.3 3667.6,2238.3" fill="#4285F4"/><polygon points="3707.6,2229.3 3712.6,2238.3 3702.6,2238.3" fill="#4285F4"/><polygon points="3742.6,2229.3 3747.6,2238.3 3737.6,2238.3" fill="#4285F4"/><polygon points="3778.8,2229.3 3783.8,2238.3 3773.8,2238.3" fill="#4285F4"/><polygon points="3814.4,2229.3 3819.4,2238.3 3809.4,2238.3" fill="#4285F4"/><polyline points="3494.6,2228.3 3530.8,2222.5 3566.4,2220.2 3602.0,2218.4 3637.0,2218.4 3672.6,2218.4 3707.6,2218.4 3742.6,2218.4 3778.8,2218.4 3814.4,2218.4" fill="none" stroke="#EA4335" stroke-width="2.4"/><polygon points="3494.6,2222.8 3499.6,2231.8 3489.6,2231.8" fill="#EA4335"/><polygon points="3530.8,2217.0 3535.8,2226.0 3525.8,2226.0" fill="#EA4335"/><polygon points="3566.4,2214.7 3571.4,2223.7 3561.4,2223.7" fill="#EA4335"/><polygon points="3602.0,2212.9 3607.0,2221.9 3597.0,2221.9" fill="#EA4335"/><polygon points="3637.0,2212.9 3642.0,2221.9 3632.0,2221.9" fill="#EA4335"/><polygon points="3672.6,2212.9 3677.6,2221.9 3667.6,2221.9" fill="#EA4335"/><polygon points="3707.6,2212.9 3712.6,2221.9 3702.6,2221.9" fill="#EA4335"/><polygon points="3742.6,2212.9 3747.6,2221.9 3737.6,2221.9" fill="#EA4335"/><polygon points="3778.8,2212.9 3783.8,2221.9 3773.8,2221.9" fill="#EA4335"/><polygon points="3814.4,2212.9 3819.4,2221.9 3809.4,2221.9" fill="#EA4335"/><polyline points="3494.6,2230.1 3530.8,2225.4 3566.4,2221.3 3602.0,2218.4 3637.0,2215.5 3672.6,2212.6 3707.6,2211.4 3742.6,2208.5 3778.8,2206.8 3814.4,2205.0" fill="none" stroke="#FBBC04" stroke-width="2.4"/><polygon points="3494.6,2224.6 3499.6,2233.6 3489.6,2233.6" fill="#FBBC04"/><polygon points="3530.8,2219.9 3535.8,2228.9 3525.8,2228.9" fill="#FBBC04"/><polygon points="3566.4,2215.8 3571.4,2224.8 3561.4,2224.8" fill="#FBBC04"/><polygon points="3602.0,2212.9 3607.0,2221.9 3597.0,2221.9" fill="#FBBC04"/><polygon points="3637.0,2210.0 3642.0,2219.0 3632.0,2219.0" fill="#FBBC04"/><polygon points="3672.6,2207.1 3677.6,2216.1 3667.6,2216.1" fill="#FBBC04"/><polygon points="3707.6,2205.9 3712.6,2214.9 3702.6,2214.9" fill="#FBBC04"/><polygon points="3742.6,2203.0 3747.6,2212.0 3737.6,2212.0" fill="#FBBC04"/><polygon points="3778.8,2201.3 3783.8,2210.3 3773.8,2210.3" fill="#FBBC04"/><polygon points="3814.4,2199.5 3819.4,2208.5 3809.4,2208.5" fill="#FBBC04"/><polyline points="3494.6,2224.3 3530.8,2180.5 3566.4,2132.1 3602.0,2097.1 3637.0,2077.2 3672.6,2059.7 3707.6,2048.0 3742.6,2036.4 3778.8,2021.8 3814.4,2006.6" fill="none" stroke="#34A853" stroke-width="2.4"/><polygon points="3494.6,2218.8 3499.6,2227.8 3489.6,2227.8" fill="#34A853"/><polygon points="3530.8,2175.0 3535.8,2184.0 3525.8,2184.0" fill="#34A853"/><polygon points="3566.4,2126.6 3571.4,2135.6 3561.4,2135.6" fill="#34A853"/><polygon points="3602.0,2091.6 3607.0,2100.6 3597.0,2100.6" fill="#34A853"/><polygon points="3637.0,2071.7 3642.0,2080.7 3632.0,2080.7" fill="#34A853"/><polygon points="3672.6,2054.2 3677.6,2063.2 3667.6,2063.2" fill="#34A853"/><polygon points="3707.6,2042.5 3712.6,2051.5 3702.6,2051.5" fill="#34A853"/><polygon points="3742.6,2030.9 3747.6,2039.9 3737.6,2039.9" fill="#34A853"/><polygon points="3778.8,2016.3 3783.8,2025.3 3773.8,2025.3" fill="#34A853"/><polygon points="3814.4,2001.1 3819.4,2010.1 3809.4,2010.1" fill="#34A853"/><text transform="translate(3507.6,2263.3) rotate(-60)" font-family="Liberation Sans" font-size="23" text-anchor="end" fill="#222">30K</text><text transform="translate(3543.8,2263.3) rotate(-60)" font-family="Liberation Sans" font-size="23" text-anchor="end" fill="#222">60K</text><text transform="translate(3579.4,2263.3) rotate(-60)" font-family="Liberation Sans" font-size="23" text-anchor="end" fill="#222">90K</text><text transform="translate(3615.0,2263.3) rotate(-60)" font-family="Liberation Sans" font-size="23" text-anchor="end" fill="#222">120K</text><text transform="translate(3650.0,2263.3) rotate(-60)" font-family="Liberation Sans" font-size="23" text-anchor="end" fill="#222">150K</text><text transform="translate(3685.6,2263.3) rotate(-60)" font-family="Liberation Sans" font-size="23" text-anchor="end" fill="#222">180K</text><text transform="translate(3720.6,2263.3) rotate(-60)" font-family="Liberation Sans" font-size="23" text-anchor="end" fill="#222">210K</text><text transform="translate(3755.6,2263.3) rotate(-60)" font-family="Liberation Sans" font-size="23" text-anchor="end" fill="#222">240K</text><text transform="translate(3791.8,2263.3) rotate(-60)" font-family="Liberation Sans" font-size="23" text-anchor="end" fill="#222">270K</text><text transform="translate(3827.4,2263.3) rotate(-60)" font-family="Liberation Sans" font-size="23" text-anchor="end" fill="#222">300K</text><polygon points="3450.9,1990.7 3456.9,2000.7 3444.9,2000.7" fill="#4285F4"/><text x="3469.5" y="2003.7" font-family="Liberation Sans" font-size="20.5" fill="#444">GA</text><polygon points="3450.9,2028.6 3456.9,2038.6 3444.9,2038.6" fill="#EA4335"/><text x="3469.5" y="2041.6" font-family="Liberation Sans" font-size="20.5" fill="#444">HB</text><polygon points="3450.9,2066.6 3456.9,2076.6 3444.9,2076.6" fill="#FBBC04"/><text x="3469.5" y="2079.6" font-family="Liberation Sans" font-size="20.5" fill="#444">P-RS</text><polygon points="3450.9,2104.5 3456.9,2114.5 3444.9,2114.5" fill="#34A853"/><text x="3469.5" y="2117.5" font-family="Liberation Sans" font-size="20.5" fill="#444">Ours</text><text transform="translate(3436.3,2120.4) rotate(-90)" font-family="Liberation Sans" font-size="22.5" text-anchor="middle" fill="#222">DEE(m)</text><line x1="3908.9" y1="2002.5" x2="4260.8" y2="2002.5" stroke="#D9D9D9" stroke-width="1.3"/><line x1="3908.9" y1="2051.0" x2="4260.8" y2="2051.0" stroke="#D9D9D9" stroke-width="1.3"/><line x1="3908.9" y1="2098.8" x2="4260.8" y2="2098.8" stroke="#D9D9D9" stroke-width="1.3"/><line x1="3908.9" y1="2146.7" x2="4260.8" y2="2146.7" stroke="#D9D9D9" stroke-width="1.3"/><line x1="3908.9" y1="2195.1" x2="4260.8" y2="2195.1" stroke="#D9D9D9" stroke-width="1.3"/><line x1="3908.9" y1="2241.8" x2="4260.8" y2="2241.8" stroke="#444" stroke-width="1.6"/><text x="3898.4" y="2009.5" font-family="Liberation Sans" font-size="22.5" text-anchor="end" fill="#222">25</text><text x="3898.4" y="2058.0" font-family="Liberation Sans" font-size="22.5" text-anchor="end" fill="#222">20</text><text x="3898.4" y="2105.8" font-family="Liberation Sans" font-size="22.5" text-anchor="end" fill="#222">15</text><text x="3898.4" y="2153.7" font-family="Liberation Sans" font-size="22.5" text-anchor="end" fill="#222">10</text><text x="3898.4" y="2202.1" font-family="Liberation Sans" font-size="22.5" text-anchor="end" fill="#222">5</text><text x="3898.4" y="2248.8" font-family="Liberation Sans" font-size="22.5" text-anchor="end" fill="#222">0</text><polyline points="3926.4,2224.3 3961.4,2224.3 3997.0,2224.3 4032.0,2224.3 4067.0,2224.3 4102.6,2224.3 4137.6,2224.3 4172.7,2224.3 4208.2,2224.3 4243.3,2224.3" fill="none" stroke="#4285F4" stroke-width="2.4"/><polygon points="3926.4,2218.8 3931.4,2227.8 3921.4,2227.8" fill="#4285F4"/><polygon points="3961.4,2218.8 3966.4,2227.8 3956.4,2227.8" fill="#4285F4"/><polygon points="3997.0,2218.8 4002.0,2227.8 3992.0,2227.8" fill="#4285F4"/><polygon points="4032.0,2218.8 4037.0,2227.8 4027.0,2227.8" fill="#4285F4"/><polygon points="4067.0,2218.8 4072.0,2227.8 4062.0,2227.8" fill="#4285F4"/><polygon points="4102.6,2218.8 4107.6,2227.8 4097.6,2227.8" fill="#4285F4"/><polygon points="4137.6,2218.8 4142.6,2227.8 4132.6,2227.8" fill="#4285F4"/><polygon points="4172.7,2218.8 4177.7,2227.8 4167.7,2227.8" fill="#4285F4"/><polygon points="4208.2,2218.8 4213.2,2227.8 4203.2,2227.8" fill="#4285F4"/><polygon points="4243.3,2218.8 4248.3,2227.8 4238.3,2227.8" fill="#4285F4"/><polyline points="3926.4,2232.4 3961.4,2232.4 3997.0,2232.4 4032.0,2232.4 4067.0,2232.4 4102.6,2232.4 4137.6,2232.4 4172.7,2232.4 4208.2,2232.4 4243.3,2232.4" fill="none" stroke="#EA4335" stroke-width="2.4"/><polygon points="3926.4,2226.9 3931.4,2235.9 3921.4,2235.9" fill="#EA4335"/><polygon points="3961.4,2226.9 3966.4,2235.9 3956.4,2235.9" fill="#EA4335"/><polygon points="3997.0,2226.9 4002.0,2235.9 3992.0,2235.9" fill="#EA4335"/><polygon points="4032.0,2226.9 4037.0,2235.9 4027.0,2235.9" fill="#EA4335"/><polygon points="4067.0,2226.9 4072.0,2235.9 4062.0,2235.9" fill="#EA4335"/><polygon points="4102.6,2226.9 4107.6,2235.9 4097.6,2235.9" fill="#EA4335"/><polygon points="4137.6,2226.9 4142.6,2235.9 4132.6,2235.9" fill="#EA4335"/><polygon points="4172.7,2226.9 4177.7,2235.9 4167.7,2235.9" fill="#EA4335"/><polygon points="4208.2,2226.9 4213.2,2235.9 4203.2,2235.9" fill="#EA4335"/><polygon points="4243.3,2226.9 4248.3,2235.9 4238.3,2235.9" fill="#EA4335"/><polyline points="3926.4,2231.3 3961.4,2231.3 3997.0,2231.3 4032.0,2231.3 4067.0,2231.3 4102.6,2231.3 4137.6,2231.3 4172.7,2231.3 4208.2,2231.3 4243.3,2231.3" fill="none" stroke="#FBBC04" stroke-width="2.4"/><polygon points="3926.4,2225.8 3931.4,2234.8 3921.4,2234.8" fill="#FBBC04"/><polygon points="3961.4,2225.8 3966.4,2234.8 3956.4,2234.8" fill="#FBBC04"/><polygon points="3997.0,2225.8 4002.0,2234.8 3992.0,2234.8" fill="#FBBC04"/><polygon points="4032.0,2225.8 4037.0,2234.8 4027.0,2234.8" fill="#FBBC04"/><polygon points="4067.0,2225.8 4072.0,2234.8 4062.0,2234.8" fill="#FBBC04"/><polygon points="4102.6,2225.8 4107.6,2234.8 4097.6,2234.8" fill="#FBBC04"/><polygon points="4137.6,2225.8 4142.6,2234.8 4132.6,2234.8" fill="#FBBC04"/><polygon points="4172.7,2225.8 4177.7,2234.8 4167.7,2234.8" fill="#FBBC04"/><polygon points="4208.2,2225.8 4213.2,2234.8 4203.2,2234.8" fill="#FBBC04"/><polygon points="4243.3,2225.8 4248.3,2234.8 4238.3,2234.8" fill="#FBBC04"/><polyline points="3926.4,2225.4 3961.4,2225.4 3997.0,2200.9 4032.0,2147.2 4067.0,2119.2 4102.6,2094.7 4137.6,2088.9 4172.7,2075.5 4208.2,2062.1 4243.3,2040.5" fill="none" stroke="#34A853" stroke-width="2.4"/><polygon points="3926.4,2219.9 3931.4,2228.9 3921.4,2228.9" fill="#34A853"/><polygon points="3961.4,2219.9 3966.4,2228.9 3956.4,2228.9" fill="#34A853"/><polygon points="3997.0,2195.4 4002.0,2204.4 3992.0,2204.4" fill="#34A853"/><polygon points="4032.0,2141.7 4037.0,2150.7 4027.0,2150.7" fill="#34A853"/><polygon points="4067.0,2113.7 4072.0,2122.7 4062.0,2122.7" fill="#34A853"/><polygon points="4102.6,2089.2 4107.6,2098.2 4097.6,2098.2" fill="#34A853"/><polygon points="4137.6,2083.4 4142.6,2092.4 4132.6,2092.4" fill="#34A853"/><polygon points="4172.7,2070.0 4177.7,2079.0 4167.7,2079.0" fill="#34A853"/><polygon points="4208.2,2056.6 4213.2,2065.6 4203.2,2065.6" fill="#34A853"/><polygon points="4243.3,2035.0 4248.3,2044.0 4238.3,2044.0" fill="#34A853"/><text transform="translate(3939.4,2263.3) rotate(-60)" font-family="Liberation Sans" font-size="23" text-anchor="end" fill="#222">30K</text><text transform="translate(3974.4,2263.3) rotate(-60)" font-family="Liberation Sans" font-size="23" text-anchor="end" fill="#222">60K</text><text transform="translate(4010.0,2263.3) rotate(-60)" font-family="Liberation Sans" font-size="23" text-anchor="end" fill="#222">90K</text><text transform="translate(4045.0,2263.3) rotate(-60)" font-family="Liberation Sans" font-size="23" text-anchor="end" fill="#222">120K</text><text transform="translate(4080.0,2263.3) rotate(-60)" font-family="Liberation Sans" font-size="23" text-anchor="end" fill="#222">150K</text><text transform="translate(4115.6,2263.3) rotate(-60)" font-family="Liberation Sans" font-size="23" text-anchor="end" fill="#222">180K</text><text transform="translate(4150.6,2263.3) rotate(-60)" font-family="Liberation Sans" font-size="23" text-anchor="end" fill="#222">210K</text><text transform="translate(4185.7,2263.3) rotate(-60)" font-family="Liberation Sans" font-size="23" text-anchor="end" fill="#222">240K</text><text transform="translate(4221.2,2263.3) rotate(-60)" font-family="Liberation Sans" font-size="23" text-anchor="end" fill="#222">270K</text><text transform="translate(4256.3,2263.3) rotate(-60)" font-family="Liberation Sans" font-size="23" text-anchor="end" fill="#222">300K</text><text transform="translate(3868.1,2113.4) rotate(-90)" font-family="Liberation Sans" font-size="22.5" text-anchor="middle" fill="#222">DEE(m)</text><line x1="4356.5" y1="2002.5" x2="4707.1" y2="2002.5" stroke="#D9D9D9" stroke-width="1.3"/><line x1="4356.5" y1="2062.6" x2="4707.1" y2="2062.6" stroke="#D9D9D9" stroke-width="1.3"/><line x1="4356.5" y1="2122.7" x2="4707.1" y2="2122.7" stroke="#D9D9D9" stroke-width="1.3"/><line x1="4356.5" y1="2182.3" x2="4707.1" y2="2182.3" stroke="#D9D9D9" stroke-width="1.3"/><line x1="4356.5" y1="2241.8" x2="4707.1" y2="2241.8" stroke="#444" stroke-width="1.6"/><text x="4343.6" y="2009.5" font-family="Liberation Sans" font-size="22.5" text-anchor="end" fill="#222">800</text><text x="4343.6" y="2069.6" font-family="Liberation Sans" font-size="22.5" text-anchor="end" fill="#222">600</text><text x="4343.6" y="2129.7" font-family="Liberation Sans" font-size="22.5" text-anchor="end" fill="#222">400</text><text x="4343.6" y="2189.3" font-family="Liberation Sans" font-size="22.5" text-anchor="end" fill="#222">200</text><text x="4343.6" y="2248.8" font-family="Liberation Sans" font-size="22.5" text-anchor="end" fill="#222">0</text><polyline points="4372.8,2241.8 4409.0,2241.8 4443.4,2241.8 4479.0,2241.8 4514.0,2241.8 4549.0,2241.8 4584.0,2241.8 4619.6,2241.8 4654.6,2241.8 4689.6,2241.8" fill="none" stroke="#EA4335" stroke-width="2.4"/><polygon points="4372.8,2236.3 4377.8,2245.3 4367.8,2245.3" fill="#EA4335"/><polygon points="4409.0,2236.3 4414.0,2245.3 4404.0,2245.3" fill="#EA4335"/><polygon points="4443.4,2236.3 4448.4,2245.3 4438.4,2245.3" fill="#EA4335"/><polygon points="4479.0,2236.3 4484.0,2245.3 4474.0,2245.3" fill="#EA4335"/><polygon points="4514.0,2236.3 4519.0,2245.3 4509.0,2245.3" fill="#EA4335"/><polygon points="4549.0,2236.3 4554.0,2245.3 4544.0,2245.3" fill="#EA4335"/><polygon points="4584.0,2236.3 4589.0,2245.3 4579.0,2245.3" fill="#EA4335"/><polygon points="4619.6,2236.3 4624.6,2245.3 4614.6,2245.3" fill="#EA4335"/><polygon points="4654.6,2236.3 4659.6,2245.3 4649.6,2245.3" fill="#EA4335"/><polygon points="4689.6,2236.3 4694.6,2245.3 4684.6,2245.3" fill="#EA4335"/><polyline points="4372.8,2231.8 4409.0,2223.1 4443.4,2213.2 4479.0,2203.8 4514.0,2196.8 4549.0,2188.1 4584.0,2182.3 4619.6,2176.4 4654.6,2171.7 4689.6,2167.7" fill="none" stroke="#FBBC04" stroke-width="2.4"/><polygon points="4372.8,2226.3 4377.8,2235.3 4367.8,2235.3" fill="#FBBC04"/><polygon points="4409.0,2217.6 4414.0,2226.6 4404.0,2226.6" fill="#FBBC04"/><polygon points="4443.4,2207.7 4448.4,2216.7 4438.4,2216.7" fill="#FBBC04"/><polygon points="4479.0,2198.3 4484.0,2207.3 4474.0,2207.3" fill="#FBBC04"/><polygon points="4514.0,2191.3 4519.0,2200.3 4509.0,2200.3" fill="#FBBC04"/><polygon points="4549.0,2182.6 4554.0,2191.6 4544.0,2191.6" fill="#FBBC04"/><polygon points="4584.0,2176.8 4589.0,2185.8 4579.0,2185.8" fill="#FBBC04"/><polygon points="4619.6,2170.9 4624.6,2179.9 4614.6,2179.9" fill="#FBBC04"/><polygon points="4654.6,2166.2 4659.6,2175.2 4649.6,2175.2" fill="#FBBC04"/><polygon points="4689.6,2162.2 4694.6,2171.2 4684.6,2171.2" fill="#FBBC04"/><polyline points="4372.8,2212.6 4409.0,2188.1 4443.4,2174.7 4479.0,2136.7 4514.0,2115.1 4549.0,2101.7 4584.0,2094.7 4619.6,2082.5 4654.6,2046.3 4689.6,2033.5" fill="none" stroke="#34A853" stroke-width="2.4"/><polygon points="4372.8,2207.1 4377.8,2216.1 4367.8,2216.1" fill="#34A853"/><polygon points="4409.0,2182.6 4414.0,2191.6 4404.0,2191.6" fill="#34A853"/><polygon points="4443.4,2169.2 4448.4,2178.2 4438.4,2178.2" fill="#34A853"/><polygon points="4479.0,2131.2 4484.0,2140.2 4474.0,2140.2" fill="#34A853"/><polygon points="4514.0,2109.6 4519.0,2118.6 4509.0,2118.6" fill="#34A853"/><polygon points="4549.0,2096.2 4554.0,2105.2 4544.0,2105.2" fill="#34A853"/><polygon points="4584.0,2089.2 4589.0,2098.2 4579.0,2098.2" fill="#34A853"/><polygon points="4619.6,2077.0 4624.6,2086.0 4614.6,2086.0" fill="#34A853"/><polygon points="4654.6,2040.8 4659.6,2049.8 4649.6,2049.8" fill="#34A853"/><polygon points="4689.6,2028.0 4694.6,2037.0 4684.6,2037.0" fill="#34A853"/><text transform="translate(4385.8,2263.3) rotate(-60)" font-family="Liberation Sans" font-size="23" text-anchor="end" fill="#222">30K</text><text transform="translate(4422.0,2263.3) rotate(-60)" font-family="Liberation Sans" font-size="23" text-anchor="end" fill="#222">60K</text><text transform="translate(4456.4,2263.3) rotate(-60)" font-family="Liberation Sans" font-size="23" text-anchor="end" fill="#222">90K</text><text transform="translate(4492.0,2263.3) rotate(-60)" font-family="Liberation Sans" font-size="23" text-anchor="end" fill="#222">120K</text><text transform="translate(4527.0,2263.3) rotate(-60)" font-family="Liberation Sans" font-size="23" text-anchor="end" fill="#222">150K</text><text transform="translate(4562.0,2263.3) rotate(-60)" font-family="Liberation Sans" font-size="23" text-anchor="end" fill="#222">180K</text><text transform="translate(4597.0,2263.3) rotate(-60)" font-family="Liberation Sans" font-size="23" text-anchor="end" fill="#222">210K</text><text transform="translate(4632.6,2263.3) rotate(-60)" font-family="Liberation Sans" font-size="23" text-anchor="end" fill="#222">240K</text><text transform="translate(4667.6,2263.3) rotate(-60)" font-family="Liberation Sans" font-size="23" text-anchor="end" fill="#222">270K</text><text transform="translate(4702.6,2263.3) rotate(-60)" font-family="Liberation Sans" font-size="23" text-anchor="end" fill="#222">300K</text><text transform="translate(4294.0,2116.3) rotate(-90)" font-family="Liberation Sans" font-size="22.5" text-anchor="middle" fill="#222">EPE (Pixels)</text><text x="3656.8" y="2341.0" font-family="Liberation Sans" font-size="23.5" text-anchor="middle" fill="#222">Number of Queries</text><text x="4088.0" y="2341.0" font-family="Liberation Sans" font-size="23.5" text-anchor="middle" fill="#222">Number of Queries</text><text x="4534.4" y="2341.0" font-family="Liberation Sans" font-size="23.5" text-anchor="middle" fill="#222">Number of Queries</text><svg x="3485.9" y="2529.5" width="230.5" height="308.1" viewBox="0 0 100 100" preserveAspectRatio="none"><defs><radialGradient id="g55" cx="0.5" cy="0.42" r="0.6"><stop offset="0" stop-color="#f4d8c8"/><stop offset="0.6" stop-color="#e8c0a8"/><stop offset="1" stop-color="#c89078"/></radialGradient>
<linearGradient id="g56" x1="0" y1="0" x2="0" y2="1"><stop offset="0" stop-color="#6a2e34"/><stop offset="1" stop-color="#4a1e24"/></linearGradient></defs>
<rect width="100" height="100" fill="#050304"/>
<path d="M0,82 Q8,76 25,74 L75,74 Q92,76 100,80 L100,100 L0,100 Z" fill="url(#g56)"/>
<path d="M30,66 L70,66 L72,78 Q50,92 28,78 Z" fill="#e0b8a0"/>
<ellipse cx="16" cy="45" rx="3.5" ry="6" fill="#d8a890"/><ellipse cx="76" cy="45" rx="3.5" ry="6" fill="#d8a890"/>
<path d="M18,30 Q18,17 46,16 Q74,17 75,30 L74,55 Q70,72 46,75 Q22,72 19,55 Z" fill="url(#g55)"/>
<path d="M15,42 Q9,12 30,6 Q50,0 70,6 Q81,11 79,22 L76,40 Q74,26 68,22 Q50,16 28,22 Q20,28 19,42 Z" fill="#6a4a30"/>
<path d="M21,52 Q22,74 46,76 Q70,74 71,52 Q66,62 46,64 Q26,62 21,52 Z" fill="#4a3224"/>
<path d="M33,58 Q46,55 59,58 L58,61 Q46,59 34,61 Z" fill="#3a261c"/>
<ellipse cx="34" cy="40" rx="4.5" ry="1.6" fill="#4a3028"/><ellipse cx="58" cy="40" rx="4.5" ry="1.6" fill="#4a3028"/>
<path d="M28,36 L40,35" stroke="#5a3a28" stroke-width="1.3"/><path d="M52,35 L64,36" stroke="#5a3a28" stroke-width="1.3"/></svg><svg x="3716.4" y="2529.5" width="230.4" height="308.1" viewBox="0 0 100 100" preserveAspectRatio="none"><defs><radialGradient id="g57" cx="0.5" cy="0.5" r="0.55"><stop offset="0" stop-color="#a0f040"/><stop offset="0.45" stop-color="#60f080"/><stop offset="0.8" stop-color="#40d8c0"/><stop offset="1" stop-color="#5090f0"/></radialGradient>
<linearGradient id="g58" x1="0" y1="0" x2="1" y2="0"><stop offset="0" stop-color="#f040d8"/><stop offset="0.25" stop-color="#a050f0"/><stop offset="0.5" stop-color="#6a60f0"/><stop offset="0.75" stop-color="#a050f0"/><stop offset="1" stop-color="#f040d8"/></linearGradient>
<linearGradient id="g59" x1="0" y1="0" x2="0" y2="1"><stop offset="0" stop-color="#5070f0" stop-opacity="0"/><stop offset="1" stop-color="#5078f0" stop-opacity="1"/></linearGradient></defs>
<rect width="100" height="100" fill="#050304"/>
<path d="M0,82 Q8,76 28,72 L72,72 Q92,75 100,78 L100,100 L0,100 Z" fill="url(#g58)"/>
<rect x="0" y="80" width="100" height="20" fill="url(#g59)"/>
<path d="M28,60 L72,60 L70,80 Q50,90 30,80 Z" fill="#6070f0"/>
<path d="M16,20 Q18,5 40,4 Q62,2 74,8 L78,20 L76,50 Q72,68 50,72 Q28,68 20,50 L16,38 Z" fill="url(#g57)"/>
<ellipse cx="17" cy="45" rx="3" ry="6" fill="#a050f0"/><ellipse cx="77" cy="45" rx="3" ry="6" fill="#8060f0"/></svg><svg x="3954.4" y="2529.5" width="230.5" height="308.1" viewBox="0 0 100 100" preserveAspectRatio="none"><defs><radialGradient id="g60" cx="0.5" cy="0.42" r="0.6"><stop offset="0" stop-color="#f4d8c8"/><stop offset="0.6" stop-color="#e8c0a8"/><stop offset="1" stop-color="#c89078"/></radialGradient>
<linearGradient id="g61" x1="0" y1="0" x2="0" y2="1"><stop offset="0" stop-color="#6a2e34"/><stop offset="1" stop-color="#4a1e24"/></linearGradient></defs>
<rect width="100" height="100" fill="#050304"/>
<path d="M0,82 Q8,76 25,74 L75,74 Q92,76 100,80 L100,100 L0,100 Z" fill="url(#g61)"/>
<path d="M30,66 L70,66 L72,78 Q50,92 28,78 Z" fill="#e0b8a0"/>
<ellipse cx="16" cy="45" rx="3.5" ry="6" fill="#d8a890"/><ellipse cx="76" cy="45" rx="3.5" ry="6" fill="#d8a890"/>
<path d="M18,30 Q18,17 46,16 Q74,17 75,30 L74,55 Q70,72 46,75 Q22,72 19,55 Z" fill="url(#g60)"/>
<path d="M15,42 Q9,12 30,6 Q50,0 70,6 Q81,11 79,22 L76,40 Q74,26 68,22 Q50,16 28,22 Q20,28 19,42 Z" fill="#6a4a30"/>
<path d="M21,52 Q22,74 46,76 Q70,74 71,52 Q66,62 46,64 Q26,62 21,52 Z" fill="#4a3224"/>
<path d="M33,58 Q46,55 59,58 L58,61 Q46,59 34,61 Z" fill="#3a261c"/>
<ellipse cx="34" cy="40" rx="4.5" ry="1.6" fill="#4a3028"/><ellipse cx="58" cy="40" rx="4.5" ry="1.6" fill="#4a3028"/>
<path d="M28,36 L40,35" stroke="#5a3a28" stroke-width="1.3"/><path d="M52,35 L64,36" stroke="#5a3a28" stroke-width="1.3"/><rect x="42" y="77.5" width="16" height="12.5" fill="#88a078"/><rect x="43" y="79" width="14" height="9.5" fill="#b8a8c8" opacity="0.7"/><path d="M44,86 L56,80" stroke="#222" stroke-width="1.5"/></svg><svg x="4184.9" y="2529.5" width="230.5" height="308.1" viewBox="0 0 100 100" preserveAspectRatio="none"><defs><radialGradient id="g62" cx="0.5" cy="0.5" r="0.55"><stop offset="0" stop-color="#a0f040"/><stop offset="0.45" stop-color="#60f080"/><stop offset="0.8" stop-color="#40d8c0"/><stop offset="1" stop-color="#5090f0"/></radialGradient>
<linearGradient id="g63" x1="0" y1="0" x2="1" y2="0"><stop offset="0" stop-color="#f040d8"/><stop offset="0.25" stop-color="#a050f0"/><stop offset="0.5" stop-color="#6a60f0"/><stop offset="0.75" stop-color="#a050f0"/><stop offset="1" stop-color="#f040d8"/></linearGradient>
<linearGradient id="g64" x1="0" y1="0" x2="0" y2="1"><stop offset="0" stop-color="#5070f0" stop-opacity="0"/><stop offset="1" stop-color="#5078f0" stop-opacity="1"/></linearGradient></defs>
<rect width="100" height="100" fill="#050304"/>
<path d="M0,82 Q8,76 28,72 L72,72 Q92,75 100,78 L100,100 L0,100 Z" fill="url(#g63)"/>
<rect x="0" y="80" width="100" height="20" fill="url(#g64)"/>
<path d="M28,60 L72,60 L70,80 Q50,90 30,80 Z" fill="#6070f0"/>
<path d="M16,20 Q18,5 40,4 Q62,2 74,8 L78,20 L76,50 Q72,68 50,72 Q28,68 20,50 L16,38 Z" fill="url(#g62)"/>
<ellipse cx="17" cy="45" rx="3" ry="6" fill="#a050f0"/><ellipse cx="77" cy="45" rx="3" ry="6" fill="#8060f0"/><defs><linearGradient id="g65" x1="0" y1="0" x2="0" y2="1"><stop offset="0" stop-color="#48e8b8"/><stop offset="0.5" stop-color="#70f080"/><stop offset="1" stop-color="#b8f040"/></linearGradient></defs><path d="M29,60 Q26,80 31,100 L69,100 Q74,80 71,60 Z" fill="url(#g65)"/></svg><svg x="4423.6" y="2529.5" width="231" height="307" viewBox="0 0 100 100" preserveAspectRatio="none"><defs><radialGradient id="g66" cx="0.5" cy="0.8" r="0.55"><stop offset="0" stop-color="#9020f8"/><stop offset="0.5" stop-color="#7018d0"/><stop offset="0.85" stop-color="#3a0870"/><stop offset="1" stop-color="#200440" stop-opacity="0"/></radialGradient></defs>
<rect width="100" height="100" fill="#050304"/>
<path d="M20,62 Q26,52 40,53 L62,53 Q76,52 80,62 L82,85 Q72,100 50,100 Q28,100 20,85 Z" fill="url(#g66)"/>
<ellipse cx="50" cy="47" rx="18" ry="12" fill="#2a0836" opacity="0.85"/></svg></svg>
<div class="t" id="t113" style="left:4501.0px;top:831.9px;font-size:33.00px;line-height:33.00px;font-family:'Liberation Serif', serif;color:#000">57 &times; 57 Patch (1%)</div>
<div class="t" id="t114" style="left:4189.1px;top:869.8px;font-size:33.00px;line-height:33.00px;font-family:'Liberation Serif', serif;color:#000">Models</div>
<div class="t" id="t115" style="left:4363.6px;top:869.8px;font-size:33.00px;line-height:33.00px;font-family:'Liberation Serif', serif;color:#000">GA</div>
<div class="t" id="t116" style="left:4465.4px;top:869.8px;font-size:33.00px;line-height:33.00px;font-family:'Liberation Serif', serif;color:#000">HB</div>
<div class="t" id="t117" style="left:4564.3px;top:869.8px;font-size:33.00px;line-height:33.00px;font-family:'Liberation Serif', serif;color:#000">P-RS</div>
<div class="t" id="t118" style="left:4682.4px;top:869.8px;font-size:33.00px;line-height:33.00px;font-family:'Liberation Serif', serif;color:#000;font-weight:bold">Ours</div>
<div class="t" id="t119" style="left:4154.3px;top:932.2px;font-size:33.00px;line-height:33.00px;font-family:'Liberation Serif', serif;color:#000">Monodepth2</div>
<div class="t" id="t120" style="left:4358.5px;top:932.2px;font-size:33.00px;line-height:33.00px;font-family:'Liberation Serif', serif;color:#000">0.05</div>
<div class="t" id="t121" style="left:4459.4px;top:932.2px;font-size:33.00px;line-height:33.00px;font-family:'Liberation Serif', serif;color:#000">7.76</div>
<div class="t" id="t122" style="left:4562.1px;top:932.2px;font-size:33.00px;line-height:33.00px;font-family:'Liberation Serif', serif;color:#000">56.83</div>
<div class="t" id="t123" style="left:4681.1px;top:932.2px;font-size:33.00px;line-height:33.00px;font-family:'Liberation Serif', serif;color:#000;font-weight:bold">79.29</div>
<div class="t" id="t124" style="left:4162.5px;top:970.7px;font-size:33.00px;line-height:33.00px;font-family:'Liberation Serif', serif;color:#000">DepthHints</div>
<div class="t" id="t125" style="left:4358.5px;top:970.7px;font-size:33.00px;line-height:33.00px;font-family:'Liberation Serif', serif;color:#000">0.30</div>
<div class="t" id="t126" style="left:4459.4px;top:970.7px;font-size:33.00px;line-height:33.00px;font-family:'Liberation Serif', serif;color:#000">2.25</div>
<div class="t" id="t127" style="left:4562.1px;top:970.7px;font-size:33.00px;line-height:33.00px;font-family:'Liberation Serif', serif;color:#000">21.21</div>
<div class="t" id="t128" style="left:4681.1px;top:970.7px;font-size:33.00px;line-height:33.00px;font-family:'Liberation Serif', serif;color:#000;font-weight:bold">71.14</div>
<div class="t" id="t129" style="left:4167.1px;top:1008.6px;font-size:33.00px;line-height:33.00px;font-family:'Liberation Serif', serif;color:#000">SQLDepth</div>
<div class="t" id="t130" style="left:4358.5px;top:1008.6px;font-size:33.00px;line-height:33.00px;font-family:'Liberation Serif', serif;color:#000">0.03</div>
<div class="t" id="t131" style="left:4459.4px;top:1008.6px;font-size:33.00px;line-height:33.00px;font-family:'Liberation Serif', serif;color:#000">0.06</div>
<div class="t" id="t132" style="left:4562.1px;top:1008.6px;font-size:33.00px;line-height:33.00px;font-family:'Liberation Serif', serif;color:#000">28.63</div>
<div class="t" id="t133" style="left:4681.1px;top:1008.6px;font-size:33.00px;line-height:33.00px;font-family:'Liberation Serif', serif;color:#000;font-weight:bold">48.74</div>
<div class="t" id="t134" style="left:4161.6px;top:1047.8px;font-size:33.00px;line-height:33.00px;font-family:'Liberation Serif', serif;color:#000">PlaneDepth</div>
<div class="t" id="t135" style="left:4358.5px;top:1047.8px;font-size:33.00px;line-height:33.00px;font-family:'Liberation Serif', serif;color:#000">0.61</div>
<div class="t" id="t136" style="left:4459.4px;top:1047.8px;font-size:33.00px;line-height:33.00px;font-family:'Liberation Serif', serif;color:#000">0.83</div>
<div class="t" id="t137" style="left:4570.3px;top:1047.8px;font-size:33.00px;line-height:33.00px;font-family:'Liberation Serif', serif;color:#000">4.07</div>
<div class="t" id="t138" style="left:4681.1px;top:1047.8px;font-size:33.00px;line-height:33.00px;font-family:'Liberation Serif', serif;color:#000;font-weight:bold">48.22</div>
<div class="t" id="t139" style="left:4169.8px;top:1100.3px;font-size:33.00px;line-height:33.00px;font-family:'Liberation Serif', serif;color:#000">FlowNetC</div>
<div class="t" id="t140" style="left:4358.5px;top:1100.3px;font-size:33.00px;line-height:33.00px;font-family:'Liberation Serif', serif;color:#000">5.42</div>
<div class="t" id="t141" style="left:4459.4px;top:1100.3px;font-size:33.00px;line-height:33.00px;font-family:'Liberation Serif', serif;color:#000">4.21</div>
<div class="t" id="t142" style="left:4570.3px;top:1100.3px;font-size:33.00px;line-height:33.00px;font-family:'Liberation Serif', serif;color:#000">5.32</div>
<div class="t" id="t143" style="left:4672.8px;top:1100.3px;font-size:33.00px;line-height:33.00px;font-family:'Liberation Serif', serif;color:#000;font-weight:bold">583.20</div>
<div class="t" id="t144" style="left:4172.6px;top:1139.4px;font-size:33.00px;line-height:33.00px;font-family:'Liberation Serif', serif;color:#000">FlowNet2</div>
<div class="t" id="t145" style="left:4358.5px;top:1139.4px;font-size:33.00px;line-height:33.00px;font-family:'Liberation Serif', serif;color:#000">2.24</div>
<div class="t" id="t146" style="left:4451.2px;top:1139.4px;font-size:33.00px;line-height:33.00px;font-family:'Liberation Serif', serif;color:#000">12.30</div>
<div class="t" id="t147" style="left:4570.3px;top:1139.4px;font-size:33.00px;line-height:33.00px;font-family:'Liberation Serif', serif;color:#000">2.64</div>
<div class="t" id="t148" style="left:4681.1px;top:1139.4px;font-size:33.00px;line-height:33.00px;font-family:'Liberation Serif', serif;color:#000;font-weight:bold">30.72</div>
<div class="t" id="t149" style="left:4173.5px;top:1177.9px;font-size:33.00px;line-height:33.00px;font-family:'Liberation Serif', serif;color:#000">PWC-Net</div>
<div class="t" id="t150" style="left:4358.5px;top:1177.9px;font-size:33.00px;line-height:33.00px;font-family:'Liberation Serif', serif;color:#000">1.93</div>
<div class="t" id="t151" style="left:4459.4px;top:1177.9px;font-size:33.00px;line-height:33.00px;font-family:'Liberation Serif', serif;color:#000">2.04</div>
<div class="t" id="t152" style="left:4570.3px;top:1177.9px;font-size:33.00px;line-height:33.00px;font-family:'Liberation Serif', serif;color:#000">2.35</div>
<div class="t" id="t153" style="left:4689.3px;top:1177.9px;font-size:33.00px;line-height:33.00px;font-family:'Liberation Serif', serif;color:#000;font-weight:bold">4.87</div>
<div class="t" id="t154" style="left:3527.7px;top:2368.6px;font-size:33.50px;line-height:33.50px;font-family:'Liberation Serif', serif;color:#000">(a) Depthhints</div>
<div class="t" id="t155" style="left:3954.9px;top:2368.6px;font-size:33.50px;line-height:33.50px;font-family:'Liberation Serif', serif;color:#000">(b) Planedepth</div>
<div class="t" id="t156" style="left:4399.8px;top:2368.6px;font-size:33.50px;line-height:33.50px;font-family:'Liberation Serif', serif;color:#000">(c) FlowNetC</div>
</body></html>
